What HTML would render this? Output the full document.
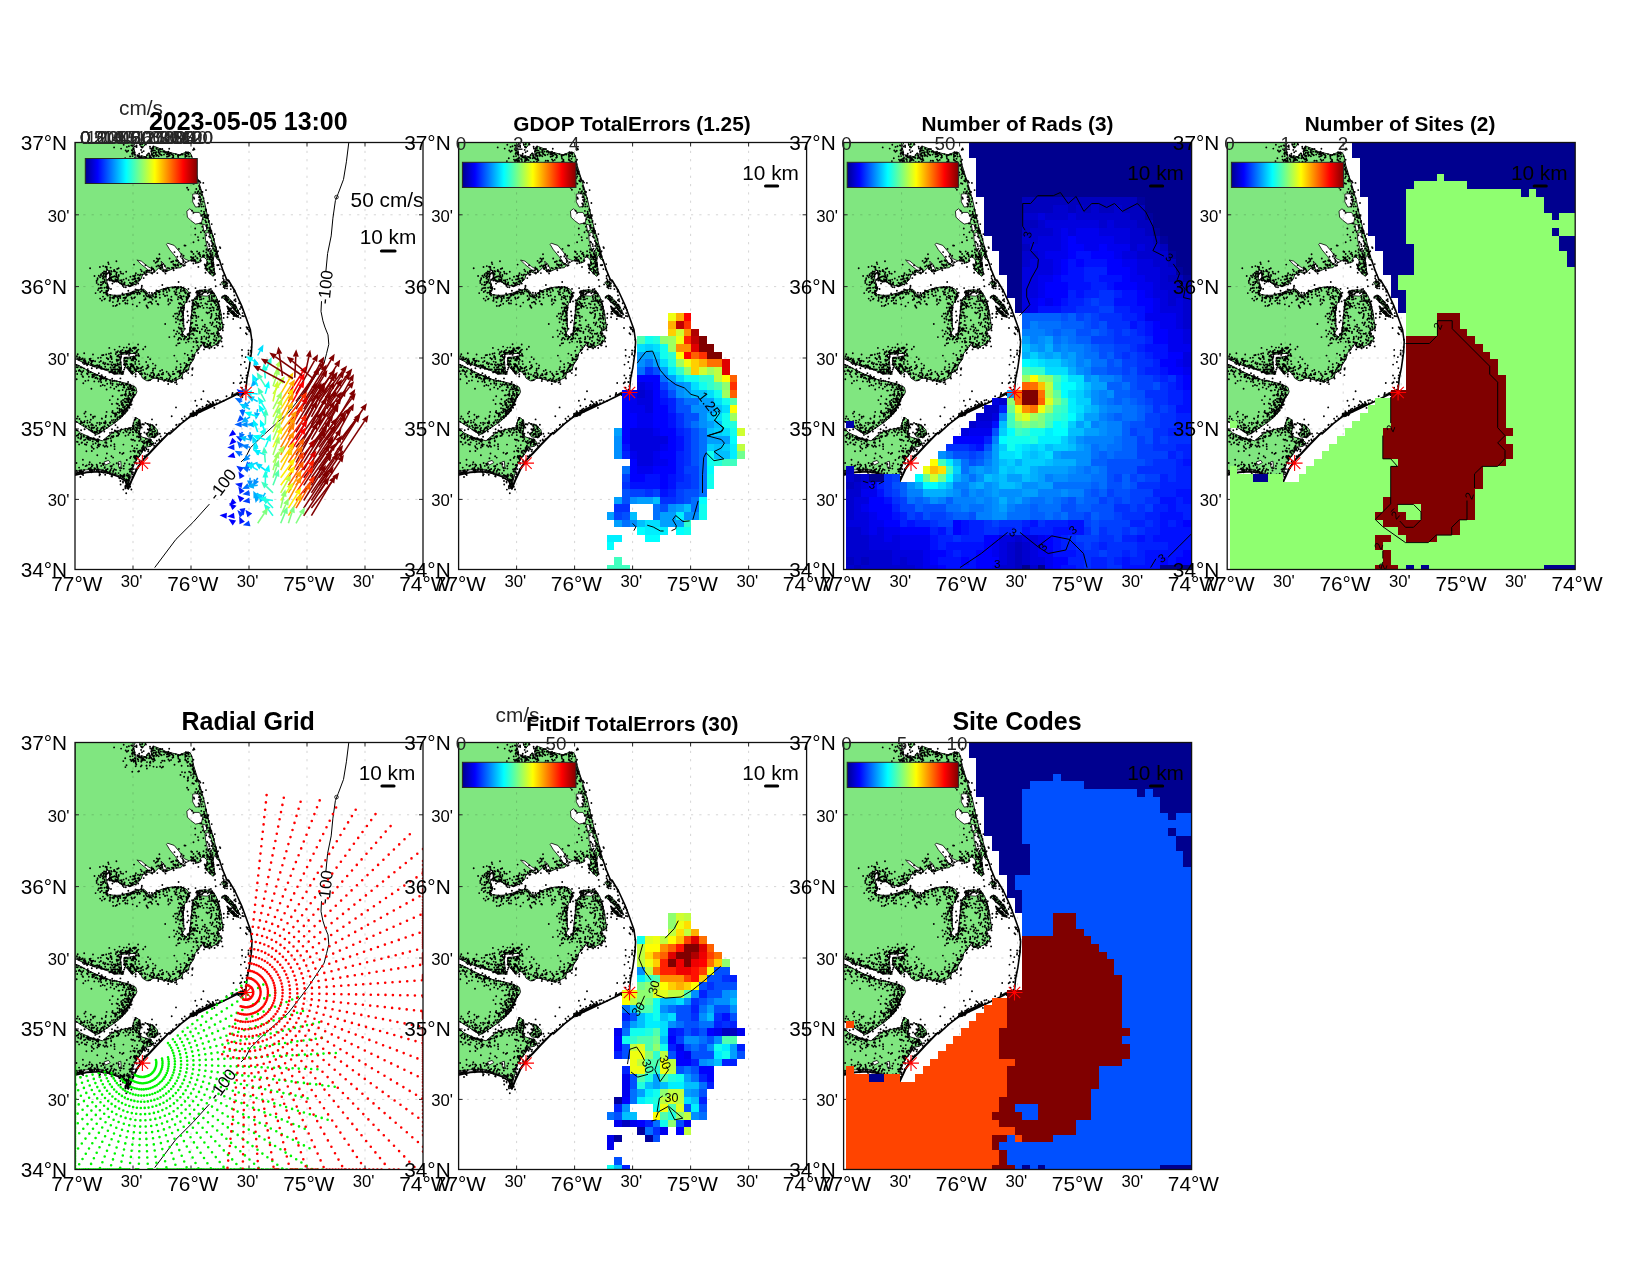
<!DOCTYPE html><html><head><meta charset="utf-8"><title>totals</title>
<style>html,body{margin:0;padding:0;background:#fff}svg{display:block;will-change:transform}text{font-family:"Liberation Sans",sans-serif}</style></head><body>
<svg width="1650" height="1275" viewBox="0 0 1650 1275">
<rect width="1650" height="1275" fill="#fff"/>
<defs>
<linearGradient id="jet" x1="0" x2="1" y1="0" y2="0"><stop offset="0" stop-color="#00008f"/><stop offset="0.11" stop-color="#0000ff"/><stop offset="0.365" stop-color="#00ffff"/><stop offset="0.62" stop-color="#ffff00"/><stop offset="0.875" stop-color="#ff0000"/><stop offset="1" stop-color="#800000"/></linearGradient>
<clipPath id="ax"><rect x="0" y="0" width="348" height="427"/></clipPath>
<g id="land"><path d="M0.0,0.0 60.4,-0.0 58.2,4.1 59.6,8.5 60.4,14.0 58.0,17.5 61.8,14.2 66.8,13.4 71.1,14.5 72.5,11.2 74.4,10.7 75.6,15.6 76.9,14.0 76.1,8.5 76.9,5.2 79.9,4.1 85.4,6.3 90.9,9.0 96.4,10.4 104.6,12.3 111.2,9.6 115.1,10.1 117.0,14.0 118.4,22.2 121.7,33.2 126.0,46.9 129.4,59.0 132.2,72.2 135.5,85.4 138.8,96.3 142.1,109.5 144.3,117.2 142.1,116.7 140.4,112.8 138.8,113.9 138.2,118.3 139.1,124.9 139.6,131.5 138.2,133.9 134.6,130.9 131.3,127.1 130.5,123.8 132.2,119.4 131.3,116.7 128.3,114.1 125.4,115.9 125.8,119.2 122.3,120.5 117.4,118.1 114.1,118.3 108.0,121.3 107.5,123.0 105.8,125.2 99.2,125.7 92.6,128.5 89.3,129.6 83.9,125.4 80.6,128.5 77.3,131.2 72.9,129.6 67.4,132.3 66.3,136.2 61.9,141.1 55.3,143.9 47.6,142.2 42.1,138.9 37.7,139.5 35.0,135.6 33.9,128.5 31.7,127.4 30.9,135.1 32.8,142.8 34.4,146.1 31.7,149.9 33.9,152.1 39.9,152.9 45.4,152.6 54.2,150.4 61.9,147.7 68.5,146.6 71.8,149.3 72.9,152.1 77.3,152.6 80.6,149.3 87.2,146.6 97.0,144.4 105.8,144.4 111.3,146.6 114.1,150.4 113.5,155.9 109.7,161.4 108.2,170.2 108.6,179.0 109.1,187.8 107.1,190.9 111.3,194.4 114.6,190.0 115.7,179.0 116.8,169.1 117.4,159.2 120.1,154.8 125.0,151.5 121.2,149.9 122.3,148.3 130.0,147.2 137.7,148.8 141.0,153.7 143.7,161.4 145.9,170.2 147.0,179.0 148.1,185.6 143.2,188.9 144.3,192.2 146.5,195.5 145.4,198.8 141.0,202.1 133.3,205.4 129.4,204.3 128.3,199.9 125.6,204.3 120.1,210.8 119.0,216.3 114.6,222.9 113.5,227.3 108.0,230.6 106.9,235.0 99.2,238.3 97.0,240.0 91.5,238.3 88.3,237.8 82.8,236.1 78.4,235.6 75.1,237.8 71.8,238.3 67.4,235.6 66.3,232.8 61.9,228.4 57.5,231.7 53.1,227.3 49.8,222.9 48.7,218.5 49.3,215.2 60.8,213.6 60.8,210.8 50.9,211.4 43.2,212.2 44.9,215.2 46.0,219.6 46.5,227.3 48.7,231.7 39.9,231.3 30.7,227.5 24.6,225.7 16.0,223.1 7.0,219.4 0.4,216.3 0.0,216.3 0.0,221.1 -0.7,221.3 4.8,223.5 12.5,227.7 23.5,232.8 34.4,237.2 45.4,239.4 54.2,241.6 60.8,244.9 61.9,249.3 60.8,251.8 57.5,256.2 55.3,262.8 48.7,268.3 47.6,273.7 56.4,257.5 54.0,262.2 52.5,268.5 47.8,273.2 43.1,277.9 32.9,285.0 21.9,292.0 7.8,283.4 -0.5,278.0 0.0,278.0 0.0,285.0 -0.5,285.0 5.4,290.4 15.6,295.1 27.4,298.3 32.9,293.6 39.9,288.9 49.3,286.5 57.2,285.0 59.5,277.1 61.9,275.5 65.0,277.9 65.8,284.2 64.2,290.4 66.6,294.4 74.4,296.7 78.4,299.9 76.0,303.8 70.5,304.6 68.2,307.7 66.6,310.8 64.2,314.0 61.9,317.1 58.7,322.6 57.2,328.1 55.6,334.4 54.0,339.9 53.3,346.1 50.9,339.9 49.3,335.9 43.1,332.8 33.6,329.7 23.5,328.1 11.7,328.5 -0.5,332.0 0.0,332.0Z" fill="#80e680" stroke="#000" stroke-width="0.9" stroke-linejoin="round"/>
<path d="M71.3,281.0 77.6,282.6 82.3,287.3 83.1,292.0 79.1,295.1 72.9,294.4 71.3,291.2 74.4,288.9 76.0,285.0Z" fill="#80e680" stroke="#000" stroke-width="0.9" stroke-linejoin="round"/>
<path d="M64.6,-0.0 71.1,-0.0 70.0,2.4 67.3,5.7 65.1,3.0Z" fill="#80e680" stroke="#000" stroke-width="0.9" stroke-linejoin="round"/>
<path d="M146.8,154.0 151.1,152.9 156.6,158.4 162.1,166.1 165.4,172.6 162.1,170.4 157.7,165.0 152.2,159.5Z" fill="#80e680" stroke="#000" stroke-width="0.9" stroke-linejoin="round"/>
<path d="M146.2,139.7 151.1,138.6 152.8,144.1 148.9,143.5Z" fill="#80e680" stroke="#000" stroke-width="0.9" stroke-linejoin="round"/>
<path d="M152.2,163.9 157.7,168.3 163.2,173.7 159.9,173.7 154.4,169.3Z" fill="#80e680" stroke="#000" stroke-width="0.9" stroke-linejoin="round"/>
<path d="M116.3,270.4 120.1,269.9 119.0,273.7 116.8,274.3Z" fill="#80e680" stroke="#000" stroke-width="0.9" stroke-linejoin="round"/>
<path d="M160.7,250.7 168.4,247.9 170.6,250.7 165.1,254.0Z" fill="#80e680" stroke="#000" stroke-width="0.9" stroke-linejoin="round"/>
<path d="M117.7,51.6 123.0,51.0 125.9,55.7 124.8,64.0 120.6,64.6 117.7,59.3Z" fill="#fff" stroke="#000" stroke-width="0.8" stroke-linejoin="round"/>
<path d="M111.8,68.7 114.8,66.3 118.9,69.9 124.2,69.9 127.7,74.6 126.5,80.4 120.6,81.6 115.9,78.1 112.4,74.6Z" fill="#fff" stroke="#000" stroke-width="0.8" stroke-linejoin="round"/>
<path d="M130.0,91.0 133.6,89.9 136.5,96.9 137.7,105.1 135.3,111.0 132.4,105.1 130.6,98.1Z" fill="#fff" stroke="#000" stroke-width="0.8" stroke-linejoin="round"/>
<path d="M127.7,81.6 131.2,82.8 131.8,87.5 128.9,88.7Z" fill="#fff" stroke="#000" stroke-width="0.8" stroke-linejoin="round"/>
<path d="M92.6,100.7 99.2,102.9 104.7,109.5 109.1,116.1 114.1,118.3 106.9,122.7 104.2,119.4 100.3,113.9 94.8,107.3 91.5,101.8Z" fill="#fff" stroke="#000" stroke-width="0.8" stroke-linejoin="round"/>
<path d="M61.9,117.5 66.3,118.6 72.9,124.1 79.5,127.9 77.3,131.2 71.8,126.3 66.3,121.9Z" fill="#fff" stroke="#000" stroke-width="0.8" stroke-linejoin="round"/>
<path d="M86.1,118.6 89.3,121.9 92.6,128.5 89.3,129.6 87.2,124.1Z" fill="#fff" stroke="#000" stroke-width="0.8" stroke-linejoin="round"/>
<path d="M28.9,319.5 33.6,317.9 35.2,320.2 30.5,322.6Z" fill="#fff" stroke="#000" stroke-width="0.8" stroke-linejoin="round"/>
<path d="M43.1,319.5 45.8,318.7 46.2,324.2 43.8,325.0Z" fill="#fff" stroke="#000" stroke-width="0.8" stroke-linejoin="round"/>
<path d="M0.7,328.5 11.7,327.3 27.4,326.9 28.9,328.1 11.7,329.3 0.7,330.8Z" fill="#fff" stroke="#000" stroke-width="0.8" stroke-linejoin="round"/>
<path d="M121.2,150.4 130.0,148.8 137.7,150.4 132.2,153.7 125.6,153.2Z" fill="#fff" stroke="#000" stroke-width="0.8" stroke-linejoin="round"/>
<path d="M144.3,117.2 147.6,127.1 151.9,137.5 153.3,137.5 159.9,148.5 166.5,162.8 170.9,174.8 175.3,186.9 177.0,199.0 176.4,210.0 174.2,225.4 172.0,236.3 170.9,247.3 170.9,250.1" fill="none" stroke="#000" stroke-width="1.6" stroke-linejoin="round" stroke-linecap="round"/>
<path d="M170.9,250.1 162.1,251.7 148.9,258.3 132.5,266.0 116.0,273.7 138.8,261.1 127.8,266.3 116.8,272.9 105.8,281.4 94.8,291.3" fill="none" stroke="#000" stroke-width="1.8" stroke-linejoin="round" stroke-linecap="round"/>
<path d="M94.0,290.4 82.3,302.2 74.4,310.8 68.2,317.1 61.9,326.5 56.4,338.3 53.3,346.1" fill="none" stroke="#000" stroke-width="2.0" stroke-linejoin="round" stroke-linecap="round"/>
<path d="M-0.5,332.8 11.7,330.0 23.5,329.3 33.6,330.8 43.1,334.0 50.1,338.3 53.3,346.1" fill="none" stroke="#000" stroke-width="1.6" stroke-linejoin="round" stroke-linecap="round"/>
<path d="M59.2,9.8h0M61.5,2.9h0M51.9,4.4h0M53.9,3.7h0M65.5,15.0h0M57.8,7.6h0M59.8,4.0h0M39.1,4.9h0M48.3,18.6h0M56.3,2.9h0M46.1,6.1h0M59.8,18.2h0M48.7,2.3h0M57.3,3.3h0M58.6,6.3h0M55.4,17.1h0M56.9,7.7h0M59.6,10.0h0M68.4,16.2h0M50.7,8.0h0M59.3,12.0h0M58.8,10.5h0M55.1,13.9h0M63.2,29.1h0M60.0,12.1h0M64.2,11.3h0M58.1,6.0h0M57.9,17.0h0M58.2,17.9h0M63.1,17.0h0M74.9,23.0h0M57.5,13.6h0M61.3,22.0h0M51.5,22.8h0M57.4,17.2h0M51.9,9.3h0M50.2,15.7h0M58.8,19.3h0M66.2,19.3h0M50.4,24.6h0M57.3,29.2h0M71.4,23.2h0M67.9,17.8h0M53.2,8.2h0M60.3,16.2h0M60.1,15.9h0M56.6,18.4h0M63.4,18.6h0M57.7,9.7h0M65.8,23.9h0M60.4,18.3h0M60.8,21.0h0M59.0,9.6h0M66.6,13.6h0M66.6,18.5h0M64.2,13.9h0M66.6,22.9h0M62.3,12.8h0M66.9,15.5h0M75.3,19.1h0M60.8,19.6h0M63.4,14.3h0M64.2,14.7h0M57.2,11.6h0M63.8,12.9h0M57.0,11.2h0M78.5,24.1h0M58.3,6.8h0M72.0,19.6h0M60.7,23.7h0M70.0,17.7h0M68.1,15.5h0M67.1,1.8h0M67.5,16.4h0M78.1,5.3h0M74.9,20.1h0M81.8,24.6h0M64.0,28.8h0M75.1,14.8h0M56.4,18.5h0M76.3,15.4h0M69.8,14.4h0M76.5,8.7h0M72.0,12.8h0M73.6,11.0h0M76.6,11.8h0M74.4,13.3h0M77.2,12.1h0M75.4,20.4h0M84.4,11.4h0M78.5,10.3h0M77.6,11.6h0M78.8,14.2h0M78.3,19.1h0M68.9,17.1h0M77.6,17.0h0M75.1,13.5h0M76.6,16.1h0M66.3,17.6h0M71.5,23.2h0M88.0,24.3h0M86.0,20.1h0M73.9,11.3h0M78.2,13.6h0M79.2,16.7h0M78.1,13.3h0M81.2,13.4h0M78.2,4.9h0M87.2,18.3h0M79.1,13.2h0M70.5,14.9h0M79.4,17.9h0M62.5,16.5h0M57.2,10.7h0M71.9,26.0h0M76.4,9.0h0M86.6,12.7h0M75.0,4.3h0M80.8,11.6h0M70.5,14.6h0M75.3,6.0h0M77.4,5.9h0M77.2,8.2h0M77.0,6.5h0M71.7,15.5h0M79.9,8.1h0M79.0,16.1h0M81.3,9.6h0M78.5,4.0h0M81.0,10.0h0M77.8,4.8h0M78.4,5.6h0M81.4,5.8h0M89.2,18.2h0M80.3,10.3h0M94.4,18.3h0M81.5,6.2h0M85.1,7.1h0M83.7,13.8h0M87.3,6.5h0M93.6,13.8h0M85.9,9.1h0M89.6,9.1h0M74.1,15.8h0M83.9,8.6h0M103.4,12.7h0M93.4,9.2h0M83.5,7.5h0M83.5,9.5h0M86.7,25.1h0M74.9,15.0h0M79.8,17.7h0M92.0,14.2h0M82.1,12.7h0M96.1,17.4h0M85.5,6.4h0M78.6,7.8h0M96.4,11.7h0M85.7,12.1h0M89.0,12.1h0M103.4,16.1h0M85.1,24.0h0M94.2,11.2h0M93.4,11.2h0M89.6,18.4h0M90.2,10.2h0M94.2,6.2h0M93.4,16.9h0M88.2,9.3h0M92.0,10.3h0M93.0,11.8h0M98.3,13.2h0M97.5,15.2h0M105.0,18.7h0M110.1,11.8h0M91.9,11.9h0M81.8,6.4h0M95.8,10.5h0M97.8,12.4h0M103.6,19.2h0M102.9,13.1h0M83.5,9.7h0M98.3,14.8h0M100.8,11.6h0M84.6,10.7h0M118.3,25.2h0M110.5,13.5h0M111.5,10.7h0M103.1,13.8h0M106.6,23.3h0M110.3,12.4h0M99.5,22.3h0M110.2,17.4h0M105.0,12.6h0M107.7,12.1h0M105.9,12.1h0M103.2,14.5h0M111.4,18.2h0M110.8,9.8h0M94.7,13.0h0M113.3,9.9h0M112.4,10.2h0M113.2,11.2h0M113.6,12.1h0M111.8,13.5h0M110.3,16.8h0M112.0,10.8h0M117.3,23.5h0M106.6,11.8h0M118.1,7.4h0M118.9,5.9h0M116.3,13.8h0M110.3,14.4h0M113.7,10.8h0M119.4,6.9h0M115.7,30.1h0M114.1,14.1h0M117.4,21.9h0M112.9,16.2h0M121.9,37.0h0M117.1,19.0h0M113.3,19.2h0M118.0,21.7h0M112.3,20.0h0M115.7,22.6h0M118.4,17.2h0M112.9,23.5h0M115.2,23.6h0M107.0,29.6h0M117.5,26.7h0M118.5,27.9h0M119.5,29.2h0M114.1,29.2h0M119.8,31.2h0M118.3,28.1h0M117.3,22.7h0M104.8,17.1h0M118.6,34.0h0M120.0,28.9h0M120.5,31.8h0M104.8,18.3h0M119.4,29.8h0M116.2,23.1h0M118.3,26.7h0M105.5,32.4h0M119.3,30.6h0M115.0,21.5h0M118.8,29.5h0M117.8,35.6h0M124.0,43.4h0M109.1,34.3h0M118.8,41.3h0M122.0,35.7h0M112.9,36.1h0M112.7,38.3h0M113.1,34.7h0M110.0,30.0h0M128.3,40.4h0M125.4,47.1h0M125.4,40.1h0M131.0,47.6h0M123.0,37.6h0M124.7,44.8h0M120.8,38.5h0M116.0,32.6h0M121.4,33.6h0M118.1,31.6h0M127.5,49.5h0M117.4,40.7h0M124.6,38.8h0M121.3,46.5h0M123.3,37.9h0M112.1,45.2h0M120.6,38.1h0M115.6,29.9h0M124.8,46.5h0M124.9,53.9h0M122.3,50.9h0M113.0,38.0h0M124.7,51.0h0M123.8,54.6h0M129.8,73.1h0M125.7,51.1h0M132.8,60.5h0M119.2,56.2h0M113.3,47.2h0M124.6,50.8h0M125.4,58.7h0M126.5,49.2h0M121.8,39.1h0M124.8,55.1h0M126.7,52.5h0M123.6,60.9h0M126.3,49.3h0M128.5,55.7h0M118.8,54.9h0M120.2,49.6h0M123.4,48.8h0M125.8,59.1h0M130.4,72.8h0M130.0,74.5h0M128.0,59.3h0M126.3,68.4h0M126.6,64.0h0M126.9,61.6h0M131.1,75.5h0M130.6,66.7h0M126.2,73.2h0M131.1,67.2h0M133.2,73.4h0M131.8,74.4h0M129.0,71.7h0M129.0,69.1h0M126.1,57.0h0M124.4,62.0h0M131.0,68.2h0M122.6,49.5h0M131.1,67.5h0M124.0,64.0h0M124.4,57.4h0M117.0,68.3h0M120.2,86.0h0M120.3,92.1h0M127.9,87.9h0M131.4,83.7h0M125.9,89.7h0M118.4,70.4h0M133.6,79.5h0M135.2,87.3h0M132.5,85.4h0M132.2,72.4h0M127.9,76.7h0M129.3,70.7h0M132.1,82.5h0M127.4,72.4h0M125.2,80.9h0M128.4,95.6h0M133.3,72.6h0M134.0,78.4h0M128.7,63.9h0M129.0,74.6h0M131.3,79.7h0M134.5,85.2h0M124.9,55.1h0M134.6,85.9h0M132.5,84.9h0M131.9,85.4h0M131.0,79.7h0M130.2,74.6h0M132.8,75.7h0M136.6,103.5h0M131.5,106.8h0M134.3,89.2h0M129.5,89.5h0M136.4,88.5h0M136.7,81.6h0M137.9,94.3h0M137.6,93.1h0M138.8,97.6h0M139.8,91.6h0M135.1,95.1h0M131.6,82.8h0M130.3,78.0h0M123.4,97.8h0M137.9,93.6h0M135.2,89.5h0M127.3,84.2h0M137.5,100.2h0M135.5,90.8h0M134.7,88.2h0M131.2,92.8h0M133.2,108.2h0M140.4,107.8h0M126.4,81.0h0M138.1,102.1h0M136.4,90.7h0M133.5,88.2h0M140.5,104.1h0M141.4,110.3h0M135.7,89.5h0M138.4,106.0h0M130.3,103.1h0M141.7,111.7h0M135.0,86.8h0M137.5,110.4h0M123.0,94.6h0M134.9,106.2h0M138.7,101.8h0M118.5,99.8h0M144.8,104.6h0M140.9,104.9h0M141.2,106.8h0M134.1,93.9h0M132.5,100.1h0M134.3,103.6h0M138.7,106.2h0M136.1,112.8h0M134.0,101.7h0M139.3,103.7h0M139.2,108.1h0M138.9,96.4h0M136.3,98.5h0M138.3,101.7h0M134.8,115.7h0M135.6,111.4h0M134.4,115.3h0M141.2,114.1h0M137.9,121.7h0M142.0,110.0h0M131.5,107.3h0M135.8,108.5h0M145.3,105.5h0M141.4,109.2h0M138.4,126.6h0M147.6,121.6h0M143.0,113.8h0M142.7,114.7h0M137.6,112.4h0M139.4,108.2h0M129.4,112.9h0M143.0,108.8h0M135.7,114.7h0M142.0,113.0h0M136.7,117.3h0M139.9,108.6h0M135.7,111.9h0M137.9,116.3h0M136.0,114.2h0M134.6,116.7h0M136.9,122.6h0M133.8,114.5h0M137.1,120.4h0M142.1,122.6h0M137.3,123.5h0M137.5,114.6h0M136.6,113.7h0M137.5,122.6h0M137.1,124.6h0M134.4,125.0h0M132.7,120.8h0M131.0,125.7h0M138.3,123.7h0M132.1,112.0h0M125.2,113.7h0M136.7,120.8h0M137.9,120.5h0M138.5,122.1h0M131.6,123.0h0M139.0,126.5h0M138.2,130.4h0M136.9,122.3h0M134.8,121.0h0M140.1,137.4h0M140.1,131.4h0M138.8,132.4h0M135.2,117.0h0M144.8,126.6h0M136.5,128.1h0M139.4,129.7h0M136.1,148.9h0M135.3,131.1h0M137.8,130.4h0M135.5,130.8h0M138.4,127.5h0M134.7,126.5h0M135.6,127.4h0M135.0,130.9h0M135.3,128.4h0M132.2,126.6h0M134.5,130.2h0M132.7,126.6h0M136.9,129.7h0M130.5,130.2h0M122.1,108.9h0M132.2,126.9h0M133.1,121.7h0M130.6,123.9h0M129.9,122.5h0M130.3,125.9h0M132.4,119.7h0M137.4,118.1h0M128.2,112.9h0M123.4,111.3h0M131.2,109.9h0M133.4,113.9h0M131.1,122.7h0M129.7,121.9h0M120.7,118.8h0M130.9,123.0h0M132.7,126.5h0M134.6,129.8h0M138.3,120.4h0M132.1,113.0h0M116.0,114.4h0M131.8,122.9h0M137.2,115.6h0M125.1,118.0h0M136.0,124.3h0M140.6,111.6h0M131.6,127.4h0M136.3,119.3h0M128.7,114.3h0M124.9,112.2h0M127.8,113.8h0M132.6,116.6h0M133.6,107.2h0M127.8,113.9h0M135.3,114.3h0M132.8,112.8h0M132.1,114.6h0M128.4,112.6h0M119.8,117.2h0M125.8,118.0h0M118.5,111.5h0M132.0,99.3h0M135.1,111.3h0M128.5,108.7h0M118.1,116.2h0M117.9,118.0h0M124.3,110.3h0M108.1,117.4h0M123.4,124.4h0M119.6,117.6h0M106.6,111.8h0M123.1,119.7h0M120.8,120.6h0M117.1,109.5h0M122.5,116.0h0M120.5,113.8h0M118.4,121.0h0M122.1,115.4h0M116.6,118.3h0M118.2,117.9h0M116.3,117.5h0M116.3,109.0h0M117.0,115.5h0M118.4,115.0h0M108.6,113.2h0M108.2,119.5h0M109.9,122.7h0M109.5,103.0h0M105.7,121.2h0M103.9,106.4h0M107.3,115.8h0M105.7,114.0h0M105.8,113.6h0M110.5,103.1h0M108.7,123.2h0M94.6,116.0h0M101.0,118.1h0M105.4,121.8h0M116.5,114.7h0M99.5,109.6h0M106.7,121.4h0M103.2,123.2h0M101.3,117.6h0M96.2,119.5h0M102.1,122.6h0M100.3,123.0h0M100.3,122.1h0M87.2,125.3h0M108.8,118.5h0M110.6,119.7h0M103.8,120.1h0M102.8,122.0h0M101.5,125.2h0M97.1,119.2h0M98.1,125.9h0M87.3,125.1h0M97.0,125.2h0M98.3,121.6h0M98.7,122.2h0M102.3,114.2h0M102.8,118.3h0M84.4,111.7h0M98.7,127.7h0M101.9,118.5h0M98.1,125.2h0M100.3,123.6h0M78.1,126.3h0M91.7,127.9h0M84.6,116.0h0M89.7,123.4h0M83.1,123.0h0M90.0,127.5h0M94.2,126.0h0M90.5,131.1h0M81.8,115.9h0M83.1,116.7h0M81.5,123.9h0M85.3,126.3h0M88.3,128.7h0M88.1,121.6h0M85.3,122.9h0M98.2,118.8h0M92.9,125.4h0M85.6,125.4h0M90.8,128.9h0M85.5,126.3h0M86.9,123.4h0M76.9,126.5h0M84.5,124.0h0M80.6,120.2h0M86.9,122.3h0M55.4,134.2h0M77.1,131.1h0M59.0,122.1h0M82.0,119.2h0M79.0,118.4h0M83.1,118.4h0M82.3,130.6h0M76.3,127.6h0M79.1,127.7h0M65.7,127.1h0M77.0,130.2h0M76.2,128.1h0M79.4,129.3h0M88.2,127.7h0M63.0,132.2h0M77.0,130.7h0M66.7,128.7h0M51.2,129.3h0M69.6,131.0h0M67.4,132.1h0M71.7,128.2h0M71.3,129.4h0M56.9,142.9h0M65.5,131.9h0M70.9,132.4h0M73.0,128.2h0M57.4,137.0h0M71.5,130.1h0M71.8,132.1h0M64.8,132.9h0M68.7,135.6h0M64.9,137.0h0M59.6,134.0h0M63.8,135.3h0M62.7,135.9h0M49.4,140.4h0M76.7,125.0h0M58.1,133.4h0M64.0,137.7h0M57.2,142.3h0M58.0,140.1h0M56.3,140.9h0M63.2,141.1h0M60.9,130.8h0M58.8,136.7h0M70.5,122.8h0M58.7,133.7h0M64.4,136.5h0M69.1,129.8h0M60.6,139.3h0M53.7,137.6h0M71.2,128.5h0M51.2,136.0h0M60.4,132.6h0M55.3,143.4h0M74.3,127.9h0M59.4,136.4h0M56.3,141.6h0M62.0,147.4h0M61.7,139.6h0M60.8,142.1h0M59.0,141.6h0M50.8,144.8h0M56.6,142.5h0M61.8,138.4h0M52.4,161.0h0M56.4,150.7h0M53.1,151.4h0M37.9,159.6h0M59.1,151.1h0M54.8,143.7h0M50.3,160.5h0M48.0,152.5h0M54.9,140.2h0M46.6,137.8h0M40.1,129.0h0M60.0,135.7h0M57.7,140.4h0M60.0,154.6h0M49.6,140.0h0M48.9,144.6h0M48.3,141.8h0M54.1,143.4h0M48.6,137.1h0M53.3,142.7h0M56.5,154.9h0M49.5,141.8h0M36.6,129.1h0M40.4,136.7h0M41.2,131.5h0M42.2,126.4h0M41.3,139.1h0M46.6,140.9h0M34.1,128.4h0M47.7,143.3h0M46.1,130.9h0M43.5,139.5h0M45.1,140.7h0M45.2,137.9h0M38.1,134.3h0M46.6,141.5h0M21.6,138.5h0M39.2,139.3h0M30.5,124.3h0M40.2,138.5h0M32.5,153.1h0M41.8,137.3h0M42.9,135.3h0M36.6,134.8h0M41.0,138.7h0M37.0,137.6h0M34.6,137.9h0M43.1,136.6h0M38.0,138.2h0M42.2,134.7h0M41.5,132.9h0M36.2,136.6h0M35.1,138.1h0M32.6,137.4h0M33.9,136.3h0M29.9,138.4h0M36.9,138.0h0M39.2,127.5h0M24.9,124.5h0M32.6,142.5h0M33.2,130.4h0M48.1,131.2h0M29.0,139.6h0M33.2,120.0h0M34.9,134.8h0M38.9,128.5h0M41.8,129.9h0M43.6,125.7h0M27.4,134.0h0M35.2,132.5h0M43.8,133.6h0M36.1,131.7h0M30.8,140.5h0M26.7,142.2h0M45.5,129.3h0M27.9,136.1h0M35.3,136.0h0M32.0,144.2h0M32.1,126.8h0M41.4,118.8h0M29.1,129.0h0M31.8,126.6h0M33.7,121.6h0M30.6,129.3h0M36.1,128.5h0M26.0,139.8h0M15.1,125.7h0M27.6,130.4h0M22.5,137.1h0M26.1,131.8h0M30.9,134.2h0M22.6,135.8h0M34.8,131.2h0M31.1,132.3h0M35.7,131.0h0M19.5,133.5h0M21.7,140.4h0M34.4,130.1h0M28.5,130.8h0M32.3,141.7h0M25.9,132.7h0M30.0,130.9h0M31.8,124.4h0M28.7,134.8h0M23.8,133.2h0M41.0,134.2h0M30.1,133.9h0M32.6,142.9h0M38.7,138.4h0M25.1,134.7h0M29.6,136.9h0M29.9,131.0h0M28.2,123.6h0M23.3,141.9h0M31.6,125.1h0M26.8,145.4h0M37.4,141.1h0M32.0,131.3h0M35.6,125.1h0M23.0,147.6h0M28.0,140.8h0M33.4,145.1h0M28.5,132.5h0M25.6,142.5h0M43.8,132.4h0M32.4,142.9h0M28.8,150.2h0M32.3,148.3h0M33.6,146.1h0M29.5,145.2h0M28.0,154.1h0M35.1,156.5h0M25.1,156.1h0M25.2,149.5h0M28.0,139.2h0M39.5,133.7h0M30.0,156.1h0M25.4,145.5h0M32.7,148.3h0M32.0,145.6h0M26.7,148.2h0M31.4,148.3h0M31.6,149.6h0M33.2,146.1h0M29.4,156.8h0M33.0,148.0h0M34.9,158.2h0M35.3,152.4h0M31.6,150.1h0M32.1,151.8h0M31.6,150.0h0M30.7,150.0h0M42.9,138.3h0M30.5,150.1h0M32.2,144.7h0M31.4,151.8h0M23.7,145.9h0M43.2,157.4h0M31.4,148.8h0M32.9,153.1h0M39.9,152.9h0M43.1,154.1h0M40.9,153.9h0M41.9,162.5h0M55.5,151.0h0M50.5,161.0h0M42.7,158.6h0M38.2,155.6h0M38.2,163.4h0M20.6,150.6h0M31.9,150.4h0M38.6,154.5h0M36.0,146.5h0M48.5,155.4h0M38.9,155.9h0M47.5,150.9h0M45.3,153.7h0M42.5,154.7h0M42.6,158.9h0M43.2,156.1h0M26.9,158.0h0M35.1,154.7h0M57.7,161.9h0M37.3,155.3h0M45.3,155.5h0M39.4,154.6h0M44.1,153.8h0M44.7,154.0h0M48.9,152.4h0M51.8,151.8h0M64.8,151.4h0M48.0,158.5h0M49.5,155.1h0M44.8,153.6h0M50.2,155.7h0M59.1,155.5h0M50.6,154.9h0M61.9,163.8h0M52.1,153.3h0M31.5,144.7h0M51.1,155.0h0M40.6,163.4h0M57.7,150.9h0M46.9,139.3h0M49.7,157.6h0M34.6,158.3h0M60.4,136.4h0M55.0,152.6h0M56.4,151.3h0M68.2,147.8h0M61.1,149.8h0M60.5,146.9h0M59.9,139.1h0M53.0,153.0h0M68.9,153.5h0M58.2,149.2h0M66.1,148.9h0M53.3,148.3h0M54.6,151.9h0M60.7,138.5h0M57.0,156.2h0M58.7,150.6h0M55.7,140.9h0M44.6,161.2h0M57.2,150.3h0M59.6,149.1h0M73.9,153.2h0M58.4,149.2h0M52.5,158.0h0M62.4,151.8h0M63.4,149.6h0M66.7,144.6h0M66.7,147.1h0M71.5,163.0h0M64.5,150.4h0M66.4,147.1h0M65.0,151.1h0M62.5,150.2h0M66.3,146.2h0M68.3,149.1h0M74.6,155.0h0M76.5,155.3h0M82.6,161.5h0M71.0,151.8h0M84.9,149.0h0M69.7,149.1h0M71.4,153.3h0M66.9,143.2h0M71.3,150.8h0M70.4,155.8h0M64.6,160.1h0M76.9,150.5h0M70.5,156.8h0M74.3,150.2h0M74.2,153.9h0M74.3,154.0h0M72.8,165.3h0M63.6,148.0h0M77.0,161.2h0M75.9,153.6h0M71.9,164.0h0M84.9,155.2h0M70.2,150.2h0M75.1,159.4h0M83.4,162.0h0M78.1,153.7h0M74.1,153.5h0M80.6,154.4h0M81.0,152.2h0M76.1,159.8h0M81.7,148.9h0M75.1,154.9h0M72.7,153.9h0M80.5,154.2h0M77.6,157.0h0M77.6,152.0h0M80.6,150.4h0M81.2,151.6h0M79.6,150.5h0M81.9,148.3h0M80.6,151.7h0M81.1,158.7h0M88.5,147.3h0M77.6,152.5h0M88.2,148.4h0M69.2,157.4h0M73.4,160.1h0M90.1,153.5h0M81.3,154.4h0M105.9,148.7h0M89.7,146.7h0M84.6,152.1h0M83.0,148.8h0M80.1,155.0h0M88.5,149.1h0M81.4,147.9h0M88.5,151.8h0M91.0,147.4h0M84.2,149.9h0M97.5,145.3h0M92.7,145.4h0M83.8,149.7h0M94.4,148.3h0M93.1,145.5h0M96.4,154.2h0M89.9,153.4h0M92.2,153.0h0M87.3,142.5h0M101.8,145.3h0M91.9,149.7h0M100.2,144.5h0M93.5,162.0h0M93.9,146.8h0M101.4,149.6h0M88.9,146.4h0M91.0,146.0h0M103.2,144.5h0M105.9,146.9h0M101.6,146.5h0M105.2,155.3h0M105.8,148.4h0M80.9,151.4h0M101.3,147.2h0M100.3,150.6h0M99.1,145.1h0M93.1,158.4h0M103.6,139.5h0M93.4,156.8h0M102.5,145.7h0M105.9,144.5h0M96.8,157.9h0M109.7,148.1h0M103.5,145.3h0M99.4,148.9h0M108.4,145.3h0M109.3,146.5h0M110.6,150.7h0M106.8,145.2h0M104.0,160.8h0M104.4,150.6h0M109.1,147.1h0M113.0,151.2h0M100.4,151.9h0M115.0,150.2h0M108.7,153.7h0M113.4,146.4h0M110.0,149.7h0M101.8,152.3h0M113.0,154.4h0M108.8,159.5h0M126.4,156.8h0M112.6,151.8h0M114.3,152.9h0M111.7,155.6h0M113.4,150.9h0M113.3,151.7h0M113.2,151.2h0M111.6,156.9h0M130.0,147.9h0M105.8,167.4h0M122.2,156.5h0M122.0,155.5h0M118.7,157.9h0M106.2,166.1h0M107.3,156.9h0M108.9,165.1h0M119.6,161.7h0M95.9,157.3h0M117.1,164.2h0M108.3,163.2h0M112.4,156.0h0M111.7,158.5h0M119.3,166.8h0M120.5,166.1h0M105.6,165.0h0M95.0,160.6h0M106.8,161.9h0M107.2,178.1h0M107.2,164.7h0M118.2,173.2h0M106.4,173.9h0M105.4,160.7h0M110.9,149.9h0M106.3,168.8h0M107.7,165.5h0M103.2,165.3h0M108.7,167.6h0M106.2,155.6h0M116.6,180.8h0M107.3,168.8h0M104.4,171.3h0M106.2,165.3h0M107.2,170.3h0M102.6,174.2h0M119.1,169.7h0M108.1,170.9h0M107.8,171.4h0M106.9,177.9h0M122.7,165.3h0M104.4,169.5h0M121.1,178.4h0M116.3,184.8h0M108.3,176.7h0M100.8,176.0h0M107.7,172.4h0M104.5,181.6h0M108.2,173.1h0M109.1,165.3h0M101.0,179.7h0M107.8,178.0h0M103.0,177.1h0M101.0,176.1h0M108.5,176.7h0M108.1,170.3h0M103.7,184.9h0M102.2,189.0h0M112.2,179.7h0M106.0,192.2h0M108.3,178.4h0M129.8,184.4h0M116.0,180.8h0M108.5,183.3h0M119.0,185.8h0M90.2,181.5h0M105.2,177.5h0M100.1,171.3h0M99.4,194.0h0M104.5,186.0h0M104.4,168.8h0M105.8,185.7h0M107.6,192.0h0M103.8,172.2h0M101.1,191.5h0M105.2,178.3h0M98.4,173.7h0M94.3,194.6h0M103.0,176.7h0M105.3,186.3h0M120.4,196.1h0M103.1,200.9h0M103.8,195.8h0M126.7,195.9h0M117.6,175.6h0M106.9,186.2h0M104.0,190.8h0M109.0,197.0h0M107.9,193.7h0M106.6,188.4h0M99.3,213.1h0M118.6,199.3h0M98.9,187.9h0M101.4,202.9h0M106.2,196.7h0M104.6,200.6h0M107.0,188.7h0M103.1,197.2h0M114.7,195.0h0M107.3,190.4h0M107.3,193.8h0M113.1,196.5h0M121.9,195.7h0M112.9,191.9h0M109.9,194.2h0M115.6,189.2h0M119.1,187.6h0M113.5,199.1h0M114.1,193.2h0M113.3,196.7h0M113.2,196.2h0M114.0,191.0h0M112.3,197.1h0M104.9,195.4h0M111.0,200.1h0M114.5,196.1h0M114.9,191.9h0M119.8,186.8h0M117.9,186.2h0M122.3,203.1h0M118.7,169.9h0M112.5,191.7h0M111.1,194.5h0M131.8,185.5h0M135.7,175.5h0M122.8,185.5h0M124.8,189.3h0M130.6,187.4h0M106.1,186.5h0M123.4,174.3h0M118.7,187.8h0M109.8,196.1h0M120.1,186.0h0M114.9,188.3h0M118.0,191.1h0M118.0,187.0h0M117.4,180.3h0M109.9,186.2h0M106.5,165.7h0M115.1,185.2h0M116.7,188.4h0M114.5,190.9h0M119.1,188.3h0M115.8,186.3h0M120.7,182.4h0M122.2,188.8h0M115.9,181.5h0M117.6,166.4h0M115.6,186.8h0M121.1,188.2h0M112.4,169.0h0M116.1,174.5h0M122.1,182.7h0M107.8,181.0h0M134.3,193.8h0M118.8,192.6h0M112.9,173.3h0M107.9,172.8h0M116.6,172.7h0M124.8,190.6h0M132.6,170.7h0M113.6,177.9h0M102.0,171.0h0M116.5,175.6h0M126.9,186.7h0M120.1,170.3h0M118.0,166.8h0M117.0,172.2h0M121.2,173.5h0M127.2,177.7h0M122.9,162.5h0M108.7,166.4h0M116.9,168.4h0M122.4,164.2h0M120.8,159.3h0M118.3,161.6h0M113.0,153.1h0M121.7,160.6h0M117.7,166.7h0M126.1,160.4h0M122.1,148.9h0M118.4,163.0h0M117.6,164.3h0M118.6,160.6h0M120.2,173.0h0M124.9,157.0h0M114.4,158.9h0M136.4,168.3h0M117.4,164.7h0M118.4,160.2h0M121.4,175.4h0M108.0,175.8h0M119.9,162.4h0M123.9,163.5h0M106.8,177.3h0M104.8,161.6h0M128.5,165.4h0M106.6,154.0h0M117.1,157.8h0M126.5,148.3h0M114.3,153.9h0M120.0,156.2h0M102.9,156.8h0M111.6,159.5h0M103.3,154.5h0M121.9,155.8h0M121.8,160.8h0M120.5,156.5h0M118.2,158.0h0M108.1,148.2h0M111.3,154.5h0M125.2,164.2h0M121.9,155.4h0M105.2,153.1h0M125.8,154.5h0M121.1,162.6h0M119.2,161.1h0M127.3,163.1h0M132.7,150.8h0M122.7,153.5h0M123.9,153.1h0M123.1,149.1h0M127.2,151.4h0M132.0,165.1h0M122.3,152.3h0M128.5,156.1h0M121.7,154.3h0M124.9,154.4h0M122.1,155.3h0M122.5,149.9h0M112.2,155.1h0M126.9,151.7h0M124.6,154.7h0M125.1,151.7h0M130.0,147.4h0M123.5,150.8h0M124.5,150.6h0M125.0,152.2h0M121.2,150.0h0M122.9,153.3h0M120.5,145.6h0M121.8,148.9h0M130.2,144.8h0M117.7,161.0h0M130.4,161.0h0M124.9,149.6h0M137.6,150.9h0M124.9,148.0h0M130.0,149.7h0M129.6,149.3h0M127.2,148.5h0M136.1,161.7h0M137.1,129.4h0M134.2,146.9h0M128.2,150.4h0M140.7,143.7h0M131.1,149.4h0M136.7,148.7h0M135.9,146.5h0M134.3,153.7h0M133.0,158.9h0M137.1,148.7h0M133.9,149.4h0M138.9,153.7h0M138.5,153.7h0M139.3,154.0h0M139.3,153.3h0M139.2,152.9h0M123.1,150.6h0M136.9,149.8h0M135.5,165.6h0M138.9,151.0h0M151.1,141.3h0M137.2,149.4h0M136.9,156.2h0M143.8,159.0h0M136.8,153.4h0M144.2,158.7h0M134.6,158.6h0M142.5,160.0h0M143.3,166.4h0M134.6,156.6h0M132.0,161.7h0M136.3,158.4h0M151.4,156.2h0M134.2,154.9h0M143.6,161.6h0M140.9,157.8h0M141.9,167.0h0M141.2,159.1h0M138.7,165.4h0M137.5,164.7h0M142.1,157.1h0M136.7,155.3h0M141.0,162.8h0M144.2,164.3h0M136.6,171.4h0M135.7,168.2h0M144.4,164.5h0M134.1,169.9h0M123.4,161.1h0M131.5,170.0h0M139.0,159.3h0M140.3,158.9h0M134.5,165.8h0M144.4,164.2h0M145.1,167.9h0M144.0,166.1h0M138.8,157.7h0M143.5,164.2h0M156.1,169.8h0M143.7,162.6h0M144.1,173.5h0M140.0,160.8h0M137.7,158.3h0M141.6,172.9h0M143.9,174.3h0M136.6,172.5h0M141.1,171.1h0M138.7,167.8h0M140.6,176.3h0M148.6,175.4h0M135.2,180.2h0M145.9,172.2h0M142.2,167.0h0M144.0,180.5h0M143.1,167.3h0M146.7,180.1h0M136.6,182.6h0M144.2,175.4h0M137.8,180.0h0M143.2,186.5h0M140.1,177.3h0M142.8,185.7h0M148.6,182.1h0M132.9,188.0h0M134.1,194.9h0M147.8,184.4h0M137.3,181.2h0M144.8,184.0h0M141.7,175.6h0M141.3,183.1h0M136.3,174.3h0M128.0,183.9h0M147.4,186.0h0M145.2,181.8h0M144.0,180.2h0M145.3,185.4h0M145.2,187.4h0M143.2,187.6h0M146.7,180.2h0M142.4,176.2h0M135.1,200.6h0M143.9,191.1h0M142.6,192.7h0M137.9,191.2h0M141.9,179.5h0M147.9,187.9h0M141.3,184.4h0M142.3,189.5h0M146.8,195.5h0M145.9,193.7h0M129.9,182.3h0M141.9,190.8h0M146.5,199.0h0M144.1,198.2h0M139.1,184.1h0M138.7,190.6h0M143.2,187.4h0M143.4,191.3h0M143.9,194.1h0M143.0,202.8h0M141.2,197.7h0M143.2,199.5h0M139.8,192.9h0M140.7,198.4h0M147.5,203.9h0M141.5,195.4h0M139.9,197.9h0M141.3,201.7h0M143.5,200.4h0M143.0,200.5h0M131.5,195.0h0M133.4,203.9h0M143.8,194.2h0M141.5,202.0h0M139.5,194.1h0M122.4,207.1h0M142.6,203.0h0M126.2,199.5h0M138.3,191.3h0M136.3,191.3h0M134.7,187.9h0M135.7,200.2h0M139.6,205.5h0M139.1,200.4h0M135.3,202.9h0M136.4,204.8h0M134.5,205.9h0M132.9,202.1h0M132.3,203.7h0M135.0,201.3h0M130.3,204.8h0M131.6,204.0h0M134.9,201.2h0M130.0,188.7h0M130.6,204.0h0M138.7,197.0h0M126.6,194.4h0M128.6,202.9h0M129.1,201.9h0M132.1,201.5h0M129.6,204.1h0M128.7,200.6h0M129.2,193.9h0M129.9,200.2h0M131.7,190.3h0M133.5,195.1h0M133.4,198.5h0M117.1,191.4h0M129.0,206.9h0M126.4,196.9h0M133.4,191.2h0M128.6,200.2h0M121.3,198.5h0M123.6,204.6h0M115.1,186.8h0M109.3,196.2h0M125.8,203.1h0M134.9,201.7h0M131.1,196.5h0M127.5,199.9h0M122.8,199.6h0M109.8,211.1h0M123.1,207.1h0M122.1,208.2h0M123.1,210.5h0M118.4,204.4h0M119.3,212.7h0M116.7,195.9h0M122.2,208.0h0M123.7,206.6h0M133.5,202.7h0M113.7,217.7h0M118.2,214.1h0M115.6,220.3h0M116.7,208.2h0M117.5,212.3h0M115.2,216.6h0M122.0,207.4h0M117.2,214.0h0M117.3,217.3h0M116.8,217.3h0M119.6,212.6h0M114.1,216.5h0M118.1,216.7h0M109.5,220.4h0M113.8,215.5h0M105.0,228.2h0M105.5,221.8h0M111.1,228.1h0M121.4,200.0h0M117.7,225.6h0M112.7,212.5h0M112.9,222.4h0M102.0,218.7h0M117.4,227.1h0M117.2,232.6h0M111.0,224.6h0M111.9,223.7h0M111.1,223.3h0M114.5,222.2h0M117.2,226.4h0M113.4,227.0h0M108.6,227.6h0M114.9,217.1h0M105.8,224.7h0M109.5,226.4h0M111.4,221.5h0M111.5,229.0h0M111.4,227.6h0M108.3,229.4h0M113.2,230.6h0M111.0,223.1h0M104.5,230.0h0M109.0,229.6h0M96.1,238.7h0M106.9,230.5h0M105.1,232.7h0M105.5,227.9h0M106.8,234.8h0M110.8,228.5h0M105.1,231.0h0M105.0,229.4h0M107.4,236.0h0M101.4,224.6h0M100.9,235.5h0M106.6,231.3h0M101.8,241.6h0M101.2,237.7h0M110.0,225.3h0M101.2,239.6h0M99.4,231.4h0M103.6,228.8h0M100.0,240.0h0M94.2,232.4h0M101.0,226.7h0M102.5,229.3h0M105.6,231.0h0M97.8,231.6h0M98.0,229.1h0M93.5,231.0h0M104.1,234.1h0M97.0,238.7h0M97.7,237.2h0M93.7,237.6h0M93.2,238.7h0M77.9,229.9h0M95.6,238.2h0M88.0,231.7h0M93.2,237.8h0M94.1,237.0h0M93.2,241.5h0M94.5,232.6h0M99.7,236.4h0M98.8,231.5h0M89.9,237.4h0M74.8,232.9h0M91.8,236.1h0M87.4,236.6h0M94.7,235.6h0M87.0,235.2h0M83.5,235.9h0M83.5,236.8h0M78.9,232.4h0M85.1,228.4h0M80.1,225.7h0M95.5,233.9h0M86.7,231.7h0M81.4,234.6h0M85.6,235.1h0M82.2,235.1h0M89.1,238.4h0M69.7,235.4h0M80.5,223.0h0M77.9,227.9h0M82.3,232.9h0M91.7,229.3h0M84.1,232.8h0M83.2,238.5h0M90.7,237.5h0M75.1,237.5h0M87.1,227.5h0M77.9,221.1h0M75.3,232.8h0M78.1,226.3h0M76.2,230.4h0M72.5,222.9h0M83.9,232.6h0M79.1,232.9h0M79.1,231.8h0M78.6,235.3h0M83.6,231.5h0M88.1,230.2h0M69.6,230.6h0M73.5,237.9h0M70.5,235.8h0M78.7,231.5h0M74.8,233.6h0M59.0,246.9h0M78.2,234.4h0M77.0,234.0h0M71.3,226.3h0M70.5,234.4h0M70.2,231.6h0M55.1,244.5h0M57.9,228.9h0M75.2,216.7h0M72.4,231.9h0M67.0,231.8h0M65.3,231.8h0M67.6,224.2h0M63.8,225.7h0M71.2,219.5h0M65.4,231.4h0M69.5,235.3h0M66.0,226.0h0M58.5,223.6h0M60.2,226.7h0M73.0,222.6h0M72.4,225.4h0M68.1,227.5h0M66.7,230.7h0M73.0,214.6h0M59.9,248.1h0M73.5,224.2h0M58.7,224.6h0M60.7,231.8h0M55.9,228.9h0M61.4,228.7h0M69.7,235.3h0M62.6,226.0h0M56.3,230.4h0M62.4,225.1h0M55.2,225.0h0M64.0,228.9h0M59.6,227.3h0M54.8,225.4h0M55.6,226.1h0M60.6,234.0h0M57.3,224.0h0M44.3,241.8h0M55.6,229.3h0M55.3,221.6h0M60.8,228.6h0M56.3,222.7h0M54.5,227.8h0M56.6,230.8h0M57.2,231.2h0M56.6,229.4h0M47.1,231.5h0M54.4,228.1h0M54.2,226.0h0M53.0,224.3h0M47.9,229.8h0M42.2,209.8h0M59.4,226.0h0M46.6,211.6h0M55.3,215.2h0M49.1,227.0h0M55.9,223.7h0M59.3,225.4h0M53.7,226.3h0M43.9,221.9h0M54.6,226.0h0M52.5,225.1h0M33.1,216.8h0M50.3,223.0h0M58.1,222.6h0M49.9,221.4h0M40.7,222.8h0M40.0,223.8h0M50.6,208.5h0M50.3,221.9h0M43.0,208.6h0M49.5,220.9h0M52.0,218.7h0M48.9,222.1h0M44.1,227.4h0M59.8,214.9h0M44.6,228.0h0M56.6,217.8h0M56.8,221.7h0M41.9,218.4h0M49.6,216.1h0M36.4,226.9h0M36.7,228.6h0M50.9,219.3h0M60.3,221.4h0M51.5,215.3h0M52.5,210.9h0M52.9,216.0h0M55.2,215.9h0M58.6,213.9h0M63.4,207.1h0M55.0,205.6h0M50.6,215.1h0M58.2,214.6h0M45.4,229.1h0M60.2,219.4h0M57.1,216.7h0M55.0,208.5h0M51.4,221.4h0M58.1,215.4h0M54.0,212.4h0M55.5,207.6h0M58.7,216.4h0M64.3,221.6h0M61.2,217.2h0M52.1,208.9h0M47.5,207.4h0M52.5,225.2h0M50.6,215.5h0M52.6,208.9h0M54.4,206.6h0M42.2,213.7h0M59.7,215.1h0M49.8,215.3h0M60.2,215.9h0M58.4,205.6h0M57.2,208.5h0M66.0,225.8h0M70.3,204.2h0M62.2,208.0h0M64.1,213.4h0M61.8,224.2h0M61.0,213.1h0M59.9,204.9h0M63.8,218.8h0M56.5,221.4h0M54.0,201.8h0M59.7,206.3h0M61.6,212.9h0M61.9,209.6h0M55.8,207.0h0M54.2,208.1h0M37.2,219.7h0M51.3,211.4h0M50.3,209.7h0M59.1,210.5h0M59.8,210.7h0M63.5,213.1h0M63.5,213.2h0M51.7,204.9h0M58.5,205.3h0M51.8,209.5h0M63.1,202.0h0M61.3,209.1h0M68.2,206.8h0M53.7,208.4h0M63.3,211.4h0M61.0,205.3h0M66.3,225.2h0M40.8,211.5h0M53.2,208.4h0M60.5,216.4h0M53.4,209.6h0M55.0,210.8h0M49.3,215.6h0M60.5,210.6h0M45.6,216.2h0M34.0,211.2h0M58.1,218.0h0M45.9,208.5h0M55.3,207.7h0M45.3,210.1h0M59.9,206.0h0M39.7,207.1h0M44.5,204.1h0M44.3,214.5h0M45.0,209.4h0M43.6,213.2h0M41.2,209.6h0M48.6,210.2h0M46.1,209.9h0M35.6,214.7h0M46.1,210.9h0M58.0,205.7h0M35.1,219.1h0M45.6,209.5h0M38.8,221.9h0M48.8,205.1h0M63.6,212.7h0M46.5,210.9h0M49.8,218.2h0M40.3,222.0h0M46.2,226.1h0M43.1,213.1h0M31.2,212.0h0M24.4,223.1h0M47.3,210.2h0M45.2,220.2h0M34.3,205.4h0M35.6,225.0h0M45.5,220.0h0M51.9,210.9h0M47.7,210.4h0M45.5,219.7h0M35.9,210.8h0M46.1,213.4h0M44.9,225.7h0M46.2,225.3h0M44.0,224.5h0M42.6,217.8h0M46.4,230.0h0M62.5,225.0h0M61.4,226.7h0M45.5,215.6h0M55.7,228.0h0M52.2,222.0h0M42.5,220.9h0M42.1,223.0h0M43.9,217.4h0M47.5,229.5h0M44.0,229.1h0M46.1,214.5h0M36.5,214.6h0M49.8,225.3h0M41.6,217.2h0M54.8,227.0h0M51.7,218.2h0M54.6,210.1h0M45.1,228.0h0M36.7,216.5h0M57.7,229.5h0M38.4,224.9h0M44.5,227.2h0M44.9,230.5h0M43.0,229.2h0M44.1,229.0h0M36.3,222.0h0M45.0,222.1h0M40.7,229.8h0M58.5,244.4h0M55.0,225.8h0M40.8,227.0h0M42.2,230.9h0M48.4,229.2h0M48.5,244.7h0M35.6,213.4h0M41.3,231.1h0M42.8,226.7h0M46.1,229.7h0M42.9,226.9h0M40.0,231.2h0M39.8,228.6h0M26.2,239.7h0M33.3,216.4h0M43.5,229.1h0M37.7,230.2h0M43.2,228.2h0M37.3,228.3h0M39.8,230.3h0M27.4,226.1h0M37.3,230.0h0M20.1,218.8h0M39.0,231.3h0M28.5,220.0h0M33.2,227.0h0M41.0,227.0h0M38.9,229.5h0M34.5,229.9h0M43.2,222.2h0M36.8,227.9h0M35.5,229.6h0M39.6,226.6h0M46.0,226.3h0M32.5,221.7h0M42.8,218.0h0M30.4,220.6h0M31.8,215.5h0M37.2,223.0h0M29.0,226.4h0M26.2,226.2h0M25.6,225.0h0M24.8,224.1h0M23.9,224.6h0M26.5,234.8h0M27.1,212.7h0M24.9,236.6h0M24.4,222.7h0M30.0,227.1h0M33.6,221.9h0M26.4,224.7h0M26.3,224.6h0M21.4,223.2h0M17.9,223.4h0M9.8,216.6h0M19.1,233.6h0M16.6,220.2h0M24.4,219.6h0M28.2,220.8h0M17.2,234.5h0M21.8,225.7h0M25.9,218.5h0M15.9,218.2h0M24.6,223.5h0M22.3,222.7h0M25.7,215.1h0M5.6,228.7h0M28.4,212.5h0M30.2,224.2h0M4.4,227.5h0M9.2,210.7h0M13.3,237.9h0M26.5,225.5h0M20.0,223.1h0M21.2,234.9h0M17.9,222.4h0M12.1,222.8h0M10.8,221.2h0M10.4,238.4h0M18.2,218.3h0M12.0,230.9h0M13.5,220.2h0M8.6,218.1h0M9.2,217.0h0M19.4,223.9h0M16.3,222.6h0M7.1,229.7h0M7.6,216.0h0M16.0,221.1h0M10.9,220.7h0M10.3,218.5h0M10.5,218.7h0M14.6,216.4h0M10.1,220.6h0M2.2,231.5h0M31.1,227.0h0M11.2,221.0h0M2.7,211.8h0M4.1,217.3h0M6.0,216.9h0M12.3,227.8h0M4.4,214.7h0M1.9,213.7h0M2.9,216.2h0M14.9,217.4h0M6.7,216.8h0M4.4,216.9h0M4.9,215.3h0M4.6,215.3h0M10.2,219.7h0M13.7,219.8h0M13.0,221.4h0M3.7,223.1h0M9.1,221.6h0M15.6,216.1h0M7.8,220.3h0M1.6,222.5h0M3.8,228.2h0M1.1,228.7h0M6.8,225.0h0M8.1,234.4h0M2.7,224.8h0M15.8,229.7h0M23.1,215.4h0M18.0,212.0h0M17.5,218.7h0M5.5,224.9h0M13.5,229.8h0M9.3,219.0h0M12.8,226.6h0M1.7,236.8h0M16.2,221.7h0M6.4,231.8h0M17.3,232.1h0M20.9,232.6h0M17.6,233.2h0M20.3,235.5h0M8.3,240.8h0M23.8,230.8h0M19.5,231.4h0M22.4,232.5h0M13.3,228.1h0M1.5,224.6h0M7.5,233.6h0M17.8,232.2h0M25.3,236.4h0M13.0,228.7h0M17.0,218.4h0M10.5,219.7h0M17.8,234.8h0M12.5,231.7h0M22.6,236.2h0M13.8,230.1h0M12.8,228.6h0M19.6,231.9h0M8.3,228.4h0M19.3,238.9h0M13.9,234.2h0M26.9,235.0h0M9.0,225.9h0M23.2,223.9h0M16.8,225.7h0M25.5,238.0h0M24.8,233.7h0M35.6,244.9h0M27.1,235.5h0M25.6,235.9h0M37.8,238.8h0M37.4,242.6h0M30.4,234.4h0M39.8,224.6h0M21.5,235.1h0M16.4,246.3h0M25.7,234.1h0M31.8,236.8h0M35.3,229.0h0M28.7,236.0h0M25.7,243.4h0M23.7,239.0h0M37.7,241.1h0M29.4,235.7h0M36.7,227.3h0M26.7,232.6h0M31.6,247.0h0M26.2,236.5h0M28.5,236.0h0M29.7,221.7h0M27.6,234.1h0M35.1,237.7h0M31.5,226.9h0M29.8,243.1h0M37.6,238.9h0M31.0,236.5h0M30.9,238.3h0M39.7,238.3h0M41.0,230.7h0M35.7,241.1h0M41.7,238.8h0M37.2,236.3h0M47.0,241.3h0M42.0,241.6h0M27.8,242.5h0M46.1,242.2h0M40.8,230.9h0M37.6,253.8h0M38.1,226.9h0M44.3,248.1h0M32.2,241.2h0M46.9,230.9h0M43.2,243.0h0M35.6,239.6h0M44.7,224.9h0M37.1,229.3h0M45.0,239.5h0M39.2,246.2h0M48.1,241.6h0M50.7,249.1h0M53.6,246.1h0M49.2,243.2h0M47.5,240.7h0M43.5,248.1h0M46.1,252.9h0M58.3,247.8h0M51.9,241.3h0M52.4,241.7h0M55.1,246.6h0M53.6,246.9h0M48.8,242.8h0M51.3,242.4h0M52.7,241.9h0M45.4,235.9h0M41.3,244.2h0M56.2,243.5h0M54.4,252.4h0M55.1,244.0h0M57.7,246.0h0M55.2,242.2h0M53.1,239.5h0M53.0,244.7h0M59.8,252.3h0M56.2,245.8h0M50.7,241.6h0M54.6,243.3h0M66.1,228.3h0M58.7,244.0h0M57.0,248.0h0M49.4,245.1h0M76.5,234.9h0M57.8,251.8h0M56.9,248.0h0M65.0,229.0h0M58.2,250.3h0M57.7,246.8h0M58.2,251.7h0M54.5,249.4h0M56.1,253.3h0M58.5,254.5h0M58.9,252.7h0M58.2,253.7h0M54.4,251.0h0M57.4,255.5h0M57.5,255.4h0M41.6,261.0h0M53.2,253.5h0M50.9,248.6h0M59.4,252.4h0M54.7,249.1h0M53.2,255.5h0M57.2,256.3h0M48.8,267.9h0M56.2,262.3h0M51.7,246.9h0M53.4,258.7h0M56.2,257.0h0M42.9,261.5h0M51.3,266.0h0M54.1,263.5h0M42.4,265.8h0M47.0,273.8h0M38.2,270.6h0M45.0,269.3h0M46.3,266.8h0M52.3,268.0h0M44.2,263.1h0M54.5,263.1h0M44.4,266.1h0M48.0,271.5h0M48.4,269.7h0M50.2,287.9h0M46.7,268.6h0M34.8,257.6h0M44.6,267.8h0M39.5,271.0h0M40.2,272.6h0M46.9,271.0h0M42.8,269.8h0M51.7,262.5h0M47.8,263.1h0M46.1,259.4h0M42.8,256.7h0M49.9,256.3h0M51.7,256.1h0M46.6,261.5h0M50.3,268.9h0M47.7,247.5h0M54.5,265.2h0M49.4,264.5h0M47.6,260.5h0M49.5,267.1h0M51.7,267.0h0M50.6,269.3h0M55.1,259.8h0M51.5,262.4h0M53.2,257.0h0M53.2,264.5h0M31.0,273.2h0M52.8,263.6h0M54.7,261.3h0M44.1,270.2h0M50.4,259.9h0M51.0,288.7h0M49.6,258.9h0M51.7,266.5h0M51.0,268.6h0M56.5,258.6h0M49.4,265.6h0M54.5,257.1h0M56.6,261.9h0M41.6,272.3h0M37.6,268.5h0M49.4,252.2h0M54.9,262.3h0M51.9,259.6h0M50.9,252.0h0M52.1,262.3h0M40.2,274.0h0M55.6,251.5h0M51.9,268.0h0M37.2,269.8h0M50.7,250.9h0M56.3,258.6h0M55.5,259.5h0M52.0,257.2h0M56.0,257.8h0M55.2,261.5h0M48.3,262.5h0M37.0,261.5h0M46.5,258.6h0M54.4,255.8h0M53.5,259.5h0M51.1,266.5h0M55.1,259.9h0M56.2,246.1h0M52.2,264.9h0M54.1,259.7h0M47.2,252.8h0M57.0,257.2h0M50.8,253.3h0M53.6,263.9h0M48.1,264.7h0M46.8,267.3h0M50.0,258.9h0M46.7,262.2h0M47.1,272.1h0M46.7,273.4h0M50.7,268.8h0M49.8,271.1h0M47.0,267.4h0M50.2,269.2h0M50.0,264.0h0M45.1,273.4h0M49.3,264.9h0M45.4,275.3h0M47.1,273.8h0M42.4,274.6h0M41.8,293.5h0M46.7,267.2h0M42.6,276.9h0M42.3,276.3h0M40.7,277.5h0M47.0,269.3h0M35.7,279.6h0M44.8,275.3h0M41.0,270.8h0M47.5,267.7h0M44.0,274.6h0M48.1,257.5h0M29.8,284.0h0M31.6,269.4h0M39.9,279.5h0M29.4,283.6h0M30.4,281.0h0M38.0,279.6h0M45.1,289.1h0M30.7,274.6h0M39.6,280.0h0M19.1,290.3h0M21.9,298.7h0M44.8,267.5h0M36.9,277.7h0M21.6,286.6h0M35.2,280.9h0M32.7,282.4h0M36.1,274.0h0M29.0,280.3h0M35.2,281.0h0M30.4,278.7h0M39.5,304.0h0M13.5,283.2h0M24.5,280.3h0M27.0,276.3h0M26.8,285.5h0M28.7,285.9h0M35.0,290.4h0M22.3,305.0h0M25.7,289.2h0M29.3,289.1h0M24.9,290.0h0M26.4,289.0h0M35.0,280.4h0M23.6,290.9h0M38.3,293.4h0M22.4,288.0h0M31.5,300.4h0M19.2,285.0h0M28.4,303.0h0M17.1,289.0h0M34.0,293.4h0M16.5,288.4h0M25.6,286.9h0M26.3,280.6h0M31.9,295.9h0M16.1,287.9h0M24.3,288.4h0M9.6,278.6h0M26.8,276.0h0M10.6,269.2h0M14.9,279.7h0M13.9,287.1h0M12.8,294.8h0M21.2,289.9h0M20.1,289.9h0M9.6,286.7h0M10.6,283.6h0M2.0,299.2h0M16.2,282.4h0M31.0,299.7h0M16.7,281.7h0M22.1,280.4h0M10.6,274.1h0M17.6,289.4h0M21.1,283.2h0M12.4,278.1h0M6.6,300.4h0M16.3,287.4h0M18.3,285.4h0M16.4,286.2h0M15.5,288.1h0M22.0,290.0h0M4.5,276.5h0M15.8,277.2h0M17.5,288.5h0M21.5,288.9h0M17.1,296.6h0M13.4,294.7h0M15.8,272.3h0M19.6,290.6h0M7.5,280.2h0M5.3,281.1h0M6.0,280.5h0M1.7,279.4h0M1.9,276.1h0M18.1,275.4h0M2.8,274.0h0M8.6,282.5h0M9.2,279.7h0M19.9,274.0h0M8.6,293.2h0M9.4,271.0h0M5.8,278.6h0M6.2,279.2h0M12.4,280.3h0M1.1,287.5h0M14.4,284.9h0M1.8,293.3h0M2.7,299.4h0M2.4,288.0h0M6.4,293.7h0M6.3,294.7h0M6.1,287.7h0M3.1,292.5h0M7.0,300.0h0M3.2,295.2h0M18.1,274.1h0M4.1,301.9h0M5.9,291.9h0M6.1,296.1h0M12.2,294.4h0M8.9,294.2h0M16.8,308.5h0M5.4,296.3h0M9.1,297.8h0M13.9,295.7h0M17.9,282.7h0M12.8,293.9h0M11.3,302.2h0M12.9,296.5h0M10.5,297.1h0M23.1,299.3h0M4.1,291.1h0M11.4,295.2h0M11.4,308.7h0M17.1,305.0h0M3.3,295.2h0M13.6,297.0h0M12.1,299.9h0M9.2,293.6h0M17.9,296.1h0M23.4,297.9h0M22.8,296.8h0M20.3,292.4h0M18.8,296.9h0M24.7,282.1h0M23.7,297.3h0M17.5,296.4h0M19.7,289.3h0M18.1,301.6h0M18.7,306.2h0M20.5,297.4h0M15.8,295.7h0M36.5,313.7h0M9.9,301.7h0M15.4,295.5h0M23.0,297.9h0M19.3,296.7h0M29.0,287.3h0M25.1,302.1h0M20.6,300.8h0M22.9,302.8h0M18.8,295.8h0M21.2,297.5h0M32.4,304.3h0M23.7,301.7h0M30.9,297.3h0M11.1,284.0h0M17.7,298.9h0M16.5,303.6h0M23.0,297.6h0M29.8,304.2h0M36.2,298.8h0M31.2,303.0h0M22.5,285.4h0M15.1,297.5h0M25.5,289.2h0M33.3,296.1h0M38.5,293.9h0M26.4,285.8h0M29.4,297.2h0M23.9,303.7h0M30.2,300.0h0M31.9,311.0h0M35.9,303.0h0M24.5,294.2h0M37.9,294.8h0M16.8,285.0h0M31.5,296.9h0M30.7,280.2h0M27.8,284.7h0M29.3,280.8h0M38.4,290.3h0M35.6,295.8h0M37.0,286.8h0M39.8,287.9h0M33.8,283.5h0M41.9,289.5h0M31.7,285.5h0M44.1,291.5h0M36.7,293.9h0M37.4,294.4h0M36.2,298.0h0M42.6,284.9h0M24.8,288.1h0M38.8,277.4h0M39.6,306.6h0M34.5,293.1h0M40.5,282.6h0M42.8,289.2h0M48.4,290.1h0M40.5,288.7h0M45.7,287.5h0M40.8,288.7h0M46.5,286.8h0M34.7,280.1h0M36.8,289.9h0M43.8,291.2h0M43.2,292.6h0M39.4,301.7h0M43.2,293.0h0M53.4,292.4h0M50.5,293.2h0M48.4,302.1h0M31.0,296.9h0M58.5,284.9h0M61.9,287.3h0M58.8,282.9h0M54.0,285.8h0M58.4,285.3h0M60.9,288.5h0M54.9,285.6h0M50.5,286.3h0M52.8,287.3h0M58.2,292.6h0M42.7,290.2h0M51.7,289.4h0M61.1,285.3h0M56.3,296.9h0M63.0,281.0h0M60.1,287.8h0M62.7,283.4h0M55.2,286.3h0M58.5,280.6h0M57.7,286.3h0M64.3,281.6h0M61.0,282.1h0M57.8,283.2h0M64.3,281.1h0M64.3,279.8h0M63.9,288.7h0M60.8,275.5h0M62.6,282.8h0M60.3,275.4h0M57.8,289.4h0M64.5,277.7h0M63.5,279.0h0M57.5,286.9h0M59.6,277.5h0M75.3,288.0h0M60.4,276.9h0M67.1,281.8h0M64.7,281.6h0M67.5,281.6h0M62.0,290.0h0M78.3,283.6h0M65.5,283.3h0M63.8,283.1h0M55.6,287.5h0M66.7,285.0h0M58.8,286.2h0M65.3,294.5h0M62.2,302.6h0M61.0,288.9h0M62.1,287.6h0M62.0,294.3h0M68.8,282.0h0M61.5,280.1h0M54.2,290.6h0M58.7,284.2h0M62.8,285.4h0M77.1,294.0h0M55.6,308.9h0M63.9,291.3h0M69.7,300.5h0M63.8,294.7h0M58.2,289.8h0M64.3,289.4h0M63.8,294.2h0M67.0,298.9h0M65.9,291.1h0M65.7,296.5h0M64.6,291.4h0M74.9,283.9h0M73.9,297.7h0M71.4,299.1h0M70.8,296.4h0M73.2,297.5h0M73.5,289.9h0M69.2,298.4h0M67.7,304.4h0M64.1,298.4h0M64.2,292.2h0M76.9,291.0h0M59.8,308.5h0M58.3,297.2h0M69.0,301.0h0M61.6,285.7h0M75.5,300.4h0M72.2,301.2h0M74.3,299.5h0M75.0,296.6h0M72.1,299.1h0M76.1,300.6h0M71.0,296.2h0M75.2,298.9h0M71.2,305.9h0M76.6,301.7h0M61.2,289.7h0M78.3,301.2h0M73.3,298.9h0M75.4,299.9h0M65.5,308.0h0M75.3,300.6h0M76.0,298.1h0M74.8,292.2h0M69.2,307.2h0M76.7,301.1h0M80.5,294.0h0M71.8,300.0h0M71.5,306.7h0M72.6,300.2h0M75.4,299.9h0M72.1,301.4h0M68.1,306.8h0M68.3,304.6h0M67.5,307.7h0M64.5,308.1h0M69.9,304.6h0M67.0,305.4h0M63.1,308.6h0M71.4,300.0h0M58.4,308.2h0M51.8,317.5h0M67.1,309.1h0M68.8,306.3h0M63.0,310.1h0M67.1,306.5h0M63.1,309.0h0M65.1,311.9h0M64.4,310.6h0M69.3,313.7h0M61.4,313.3h0M59.8,309.3h0M66.7,309.2h0M61.9,306.1h0M58.9,314.5h0M48.5,310.5h0M55.2,315.5h0M62.2,315.7h0M64.2,313.6h0M60.8,313.4h0M62.5,314.8h0M59.5,305.7h0M61.7,313.7h0M59.3,313.4h0M61.3,316.9h0M61.1,326.8h0M60.1,313.8h0M61.2,313.5h0M60.0,316.0h0M60.2,319.6h0M47.3,311.4h0M57.9,323.5h0M56.0,314.1h0M59.3,319.8h0M60.4,315.3h0M57.6,322.1h0M53.8,332.6h0M58.8,326.6h0M55.3,327.1h0M55.7,326.5h0M57.1,325.4h0M61.6,321.3h0M61.2,317.5h0M58.4,323.1h0M56.5,326.7h0M57.0,322.8h0M44.9,310.3h0M55.8,327.2h0M62.6,325.7h0M49.5,333.5h0M56.5,329.4h0M53.2,342.3h0M54.0,336.2h0M54.4,326.9h0M51.6,332.6h0M53.4,337.5h0M51.8,338.4h0M52.5,331.1h0M53.5,334.8h0M54.2,333.9h0M53.6,337.6h0M54.4,334.6h0M52.9,342.2h0M51.7,341.0h0M51.9,337.9h0M56.4,347.0h0M53.0,340.5h0M53.3,339.4h0M54.7,341.1h0M52.9,340.5h0M51.6,342.0h0M55.2,344.3h0M52.1,332.9h0M51.2,350.7h0M48.7,332.6h0M48.7,333.8h0M51.4,337.0h0M51.3,338.4h0M49.1,335.7h0M51.1,339.2h0M46.9,333.2h0M48.7,323.4h0M46.5,325.6h0M31.1,328.4h0M49.7,321.0h0M47.7,334.4h0M38.4,328.2h0M45.4,338.5h0M53.2,337.2h0M43.7,321.6h0M51.0,337.0h0M45.3,328.0h0M52.3,333.4h0M45.3,332.5h0M44.9,325.5h0M54.3,335.9h0M41.0,327.4h0M41.7,320.8h0M28.7,321.5h0M35.1,328.5h0M35.5,323.8h0M34.4,329.5h0M32.0,329.3h0M30.2,332.2h0M39.4,326.8h0M37.0,334.0h0M49.3,332.0h0M31.0,327.2h0M39.5,332.2h0M54.0,332.4h0M40.6,330.7h0M36.5,325.7h0M54.4,321.8h0M43.6,330.6h0M48.8,326.1h0M36.9,323.5h0M28.0,327.6h0M30.3,328.6h0M30.9,315.7h0M29.8,324.7h0M23.4,326.8h0M35.7,327.5h0M38.5,321.9h0M24.5,332.9h0M26.6,328.6h0M30.1,328.6h0M29.6,325.4h0M26.2,323.4h0M21.9,328.0h0M34.4,329.9h0M29.9,328.5h0M32.8,330.5h0M32.6,326.5h0M38.1,315.1h0M28.4,322.5h0M11.7,323.0h0M4.8,327.9h0M15.0,327.2h0M16.8,323.9h0M16.6,321.9h0M17.2,327.6h0M10.6,323.6h0M4.1,325.1h0M20.1,325.9h0M19.3,327.8h0M7.9,317.3h0M15.7,325.5h0M22.3,312.7h0M19.4,327.3h0M13.6,326.4h0M22.2,326.8h0M14.0,326.0h0M15.8,327.6h0M19.4,325.6h0M16.1,328.9h0M25.0,320.5h0M16.4,326.9h0M17.5,328.7h0M22.1,323.4h0M23.7,327.5h0M22.3,324.7h0M19.4,327.1h0M9.1,327.5h0M4.3,330.4h0M5.4,334.5h0M14.9,327.9h0M1.4,328.3h0M8.1,329.1h0M6.1,329.3h0M8.0,322.2h0M14.1,321.9h0M5.1,330.2h0M1.2,330.8h0M6.2,327.6h0M7.1,329.7h0M1.5,320.5h0M1.3,330.9h0M72.9,281.6h0M77.4,282.6h0M79.3,284.7h0M75.3,281.9h0M77.0,276.9h0M75.1,283.0h0M77.3,289.2h0M75.9,291.7h0M79.4,284.6h0M78.7,284.1h0M79.0,289.3h0M81.3,282.3h0M72.2,291.3h0M81.9,291.1h0M80.4,288.4h0M79.9,293.3h0M81.4,290.8h0M82.6,290.7h0M84.8,291.3h0M74.4,292.8h0M82.6,291.9h0M77.8,293.8h0M84.5,298.0h0M75.8,297.3h0M67.9,299.8h0M79.6,291.4h0M65.3,294.8h0M79.1,294.9h0M76.6,301.7h0M77.2,292.0h0M55.1,289.9h0M57.2,303.5h0M68.3,303.2h0M74.9,302.2h0M77.5,283.1h0M64.7,298.2h0M59.9,298.2h0M74.4,298.0h0M80.7,292.7h0M75.1,291.5h0M62.1,294.0h0M72.7,281.4h0M72.1,302.5h0M65.1,292.5h0M71.6,290.9h0M63.8,290.9h0M71.9,291.9h0M71.4,291.2h0M72.1,291.3h0M57.2,297.4h0M73.7,287.4h0M69.4,290.0h0M74.1,287.6h0M75.1,287.8h0M76.0,291.2h0M76.9,287.2h0M79.2,286.8h0M74.8,286.0h0M68.6,281.9h0M60.8,284.9h0M72.8,286.8h0M65.2,284.0h0M74.6,283.6h0M78.3,285.6h0M70.4,280.4h0M64.6,285.7h0M77.3,289.3h0M70.9,2.1h0M70.5,1.5h0M67.3,1.5h0M68.7,8.6h0M67.0,9.7h0M66.2,15.4h0M66.6,4.7h0M66.4,4.1h0M68.4,16.1h0M66.1,7.4h0M67.3,4.7h0M61.6,4.5h0M65.2,2.1h0M66.0,15.3h0M150.4,154.0h0M151.3,153.5h0M148.3,153.8h0M153.5,157.2h0M149.9,153.0h0M136.2,162.3h0M150.0,156.5h0M141.5,162.4h0M150.9,155.2h0M162.4,168.5h0M157.1,170.8h0M159.3,157.8h0M160.2,167.8h0M155.3,158.7h0M154.2,159.7h0M151.6,154.1h0M154.2,166.8h0M153.2,155.0h0M152.2,156.6h0M159.4,152.9h0M160.5,168.2h0M160.0,163.1h0M158.8,169.7h0M157.6,159.9h0M159.9,162.3h0M159.4,171.4h0M158.9,162.4h0M157.1,160.2h0M159.0,163.4h0M155.7,158.8h0M154.6,165.9h0M161.3,165.0h0M162.0,170.2h0M167.0,165.2h0M162.9,170.6h0M160.8,163.8h0M161.0,168.4h0M163.1,170.2h0M167.3,173.5h0M163.9,171.1h0M159.6,166.8h0M156.8,165.6h0M158.7,169.5h0M157.9,164.4h0M158.0,165.0h0M159.1,166.5h0M158.3,168.9h0M161.6,174.1h0M159.0,165.5h0M157.8,171.0h0M143.2,161.2h0M158.6,172.1h0M152.9,169.2h0M156.4,161.6h0M150.2,154.8h0M153.8,160.0h0M152.4,159.6h0M152.3,157.7h0M156.1,161.7h0M157.5,160.0h0M155.7,167.9h0M151.3,158.0h0M136.9,158.0h0M144.7,169.3h0M148.2,153.9h0M151.0,157.0h0M136.0,151.1h0M156.2,161.2h0M145.5,141.9h0M149.1,142.9h0M151.2,140.8h0M148.4,139.3h0M148.6,139.0h0M153.7,138.7h0M152.5,140.6h0M135.7,150.6h0M151.1,141.8h0M150.6,142.3h0M148.9,140.4h0M150.3,139.2h0M151.3,143.6h0M150.3,143.7h0M148.6,144.5h0M152.0,145.9h0M136.9,150.7h0M154.3,166.8h0M144.6,171.6h0M157.7,162.5h0M153.8,167.2h0M152.9,164.4h0M143.6,173.1h0M158.4,162.8h0M155.5,166.0h0M153.4,166.4h0M154.9,160.9h0M153.4,165.7h0M163.1,173.1h0M159.2,171.9h0M161.4,168.7h0M160.3,164.0h0M160.3,172.8h0M160.4,166.4h0M160.2,173.3h0M144.2,170.7h0M159.3,170.2h0M161.4,172.7h0M158.2,170.1h0M163.3,174.6h0M163.1,168.1h0M162.0,173.6h0M154.3,168.5h0M152.7,171.3h0M154.1,167.2h0M158.7,173.4h0M158.7,163.3h0M159.8,173.2h0M153.7,167.0h0M152.5,174.7h0M165.5,175.4h0M153.0,166.3h0M152.3,164.0h0M154.4,167.2h0M153.8,171.4h0M145.0,175.8h0M148.8,171.2h0M154.3,168.5h0M157.1,169.2h0M144.9,177.0h0M114.1,274.8h0M115.2,273.6h0M118.2,273.2h0M119.2,273.1h0M116.6,271.8h0M115.5,271.2h0M118.0,273.2h0M170.7,243.8h0M169.8,247.2h0M161.9,251.2h0M165.5,249.8h0M162.5,251.4h0M167.5,250.7h0M163.8,251.4h0M167.5,249.0h0M169.0,250.9h0M170.5,250.3h0M167.5,252.3h0M167.4,254.5h0M169.3,249.5h0M169.1,251.2h0M166.0,251.7h0M163.6,250.1h0M163.2,252.4h0M163.3,252.5h0M157.6,250.4h0M162.9,251.7h0M165.6,248.9h0M143.7,122.5h0M142.6,122.8h0M144.3,117.8h0M147.3,127.1h0M148.0,135.7h0M149.4,132.4h0M148.0,133.5h0M151.4,137.0h0M148.9,137.4h0M152.7,138.1h0M149.9,145.8h0M159.5,147.9h0M155.5,143.4h0M159.0,147.3h0M155.8,146.6h0M150.6,143.5h0M160.7,158.8h0M147.0,155.2h0M156.8,159.6h0M142.6,164.5h0M164.1,160.8h0M160.5,156.6h0M159.0,149.2h0M165.9,164.5h0M167.6,170.6h0M165.0,166.5h0M168.2,167.4h0M168.9,173.8h0M158.2,176.5h0M171.5,184.6h0M173.7,187.1h0M165.4,185.5h0M173.0,185.1h0M172.3,186.2h0M171.8,191.7h0M174.3,189.1h0M174.6,188.1h0M170.9,190.7h0M176.7,197.2h0M173.9,187.5h0M175.9,208.3h0M167.0,207.4h0M176.1,209.4h0M173.5,207.9h0M176.4,204.6h0M170.7,214.6h0M167.1,213.3h0M173.4,212.1h0M173.5,210.6h0M175.2,213.4h0M169.7,219.5h0M165.9,222.1h0M171.5,232.9h0M171.2,225.6h0M172.8,229.9h0M171.4,235.6h0M165.8,232.9h0M169.7,239.5h0M165.1,240.7h0M170.1,239.6h0M158.6,240.5h0M166.3,239.7h0M168.6,248.4h0M167.4,249.4h0M166.9,245.2h0M169.2,248.4h0M167.4,235.8h0M161.5,251.5h0M157.3,251.7h0M159.0,252.5h0M160.0,251.8h0M151.5,253.7h0M157.0,252.8h0M137.7,259.4h0M148.6,258.3h0M132.7,258.6h0M135.6,262.2h0M142.8,257.4h0M145.0,258.6h0M141.5,260.8h0M140.9,257.9h0M119.2,271.3h0M117.9,271.2h0M118.4,271.7h0M125.5,269.1h0M123.3,267.8h0M126.3,256.7h0M120.3,271.6h0M127.6,266.9h0M118.7,269.8h0M123.6,266.9h0M128.4,248.8h0M120.1,272.0h0M122.1,271.6h0M121.6,268.2h0M127.5,264.2h0M134.0,259.6h0M121.3,272.7h0M131.9,262.2h0M139.3,265.4h0M131.3,262.9h0M134.0,262.6h0M138.1,260.3h0M135.4,262.6h0M135.3,261.1h0M121.8,263.2h0M121.3,269.7h0M118.1,270.6h0M125.0,266.1h0M118.1,268.6h0M120.3,258.2h0M106.9,276.3h0M111.4,276.0h0M109.7,273.9h0M115.3,272.8h0M108.2,278.1h0M101.0,264.9h0M104.3,281.7h0M101.5,282.1h0M94.7,290.1h0M97.9,286.7h0M96.2,288.4h0M96.7,273.7h0M101.2,282.5h0M86.9,296.8h0M84.1,296.9h0M89.9,290.6h0M85.7,293.9h0M79.7,293.7h0M91.8,291.4h0M85.6,298.4h0M81.8,298.3h0M76.9,302.2h0M80.4,300.7h0M73.4,307.2h0M79.1,303.3h0M75.0,299.1h0M73.1,308.9h0M66.2,309.1h0M71.4,312.7h0M70.0,308.2h0M70.4,314.1h0M62.4,314.3h0M64.5,319.2h0M61.7,320.8h0M64.7,318.0h0M63.6,323.7h0M57.8,331.7h0M57.2,334.5h0M43.8,321.8h0M54.9,329.0h0M57.3,334.7h0M58.0,329.9h0M50.5,343.3h0M51.5,344.0h0M45.6,342.0h0M6.0,328.3h0M6.9,331.2h0M8.1,332.5h0M2.6,329.8h0M4.4,329.5h0M6.9,331.5h0M21.7,322.1h0M17.6,322.7h0M17.3,328.9h0M14.7,319.7h0M16.2,329.7h0M24.6,331.5h0M27.6,321.2h0M28.5,330.1h0M24.1,329.7h0M25.1,331.7h0M35.0,331.2h0M36.4,333.6h0M37.3,332.3h0M38.0,329.4h0M44.4,335.8h0M48.0,339.0h0M45.5,333.2h0M48.0,340.1h0M52.3,345.6h0M48.3,347.1h0M50.2,344.5h0M50.4,345.9h0" fill="none" stroke="#000" stroke-width="1.9" stroke-linecap="round"/></g>
<path id="grid" d="M58.0,0V427M116.0,0V427M174.0,0V427M232.0,0V427M290.0,0V427M0,72.3H348M0,144.1H348M0,215.5H348M0,286.4H348M0,356.9H348" fill="none" stroke="#000" stroke-opacity="0.17" stroke-width="1" stroke-dasharray="2.2 6.1"/>
<path id="ticks" d="M58.0,427v-4M58.0,0v4M116.0,427v-4M116.0,0v4M174.0,427v-4M174.0,0v4M232.0,427v-4M232.0,0v4M290.0,427v-4M290.0,0v4M0,72.3h4M348,72.3h-4M0,144.1h4M348,144.1h-4M0,215.5h4M348,215.5h-4M0,286.4h4M348,286.4h-4M0,356.9h4M348,356.9h-4" fill="none" stroke="#262626" stroke-width="1"/>
<g id="star" stroke="#f00" stroke-width="1.1" fill="none"><path d="M-8,0H8M0,-8V8M-5.7,-5.7L5.7,5.7M-5.7,5.7L5.7,-5.7"/></g>
<g id="sites"><use href="#star" x="170.9" y="250.0"/><use href="#star" x="67.4" y="320.6"/></g>
</defs>
<g transform="translate(75.0,142.5)"><g clip-path="url(#ax)">
<use href="#land"/><use href="#grid"/><use href="#ticks"/>
<path d="M273.8,-0.1 271.4,19.3 268.5,36.9 263.2,51.0 260.4,58.1 257.9,75.7 256.2,93.4 252.6,111.0 250.9,128.7" fill="none" stroke="#000" stroke-width="1.0" stroke-linejoin="round"/>
<path d="M246.5,158.7 246.0,168.9 247.9,178.3 249.9,184.6 253.0,192.4 253.8,201.8 251.5,211.2 249.1,220.6 242.8,230.0 233.4,244.2 224.0,256.7 213.0,270.8 202.1,280.2 186.4,294.4 175.4,305.3 170.7,314.8 166.0,319.5" fill="none" stroke="#000" stroke-width="1.0" stroke-linejoin="round"/>
<path d="M134.4,361.6 118.5,379.3 100.9,396.9 79.7,425.1" fill="none" stroke="#000" stroke-width="1.0" stroke-linejoin="round"/>
<text x="250.3" y="150.5" font-size="17.0" text-anchor="middle" transform="rotate(-84 250.3 144.6)" fill="#000">-100</text>
<text x="147.3" y="347.9" font-size="17.0" text-anchor="middle" transform="rotate(-53 147.3 342.0)" fill="#000">-100</text>
<circle cx="261.5" cy="54.6" r="1.8" fill="none" stroke="#000" stroke-width="0.8"/>
<path d="M182.7,213.0L185.2,208.3" stroke="#00dfff" stroke-width="1.55" fill="none"/><path d="M188.5,202.0L187.8,209.7L182.5,206.9Z" fill="#00dfff"/>
<path d="M182.7,220.7L177.0,217.4" stroke="#00ffff" stroke-width="1.55" fill="none"/><path d="M170.8,213.7L178.5,214.8L175.5,220.0Z" fill="#00ffff"/>
<path d="M182.7,228.4L181.2,222.7" stroke="#00dfff" stroke-width="1.55" fill="none"/><path d="M179.3,215.8L184.1,222.0L178.3,223.5Z" fill="#00dfff"/>
<path d="M190.3,228.4L193.7,221.1" stroke="#20ffdf" stroke-width="1.55" fill="none"/><path d="M196.7,214.6L196.4,222.4L190.9,219.9Z" fill="#20ffdf"/>
<path d="M182.7,236.0L180.2,239.1" stroke="#00afff" stroke-width="1.55" fill="none"/><path d="M175.7,244.8L177.9,237.3L182.6,241.0Z" fill="#00afff"/>
<path d="M190.3,236.0L189.6,227.9" stroke="#20ffdf" stroke-width="1.55" fill="none"/><path d="M188.9,220.7L192.6,227.6L186.6,228.2Z" fill="#20ffdf"/>
<path d="M198.0,236.0L203.2,223.8" stroke="#afff50" stroke-width="1.55" fill="none"/><path d="M206.0,217.2L206.0,225.0L200.4,222.6Z" fill="#afff50"/>
<path d="M182.7,243.7L180.1,237.8" stroke="#00efff" stroke-width="1.55" fill="none"/><path d="M177.2,231.3L182.8,236.6L177.3,239.1Z" fill="#00efff"/>
<path d="M190.3,243.7L185.4,235.8" stroke="#40ffbf" stroke-width="1.55" fill="none"/><path d="M181.6,229.7L188.0,234.2L182.9,237.4Z" fill="#40ffbf"/>
<path d="M198.0,243.7L202.0,231.8" stroke="#9fff60" stroke-width="1.55" fill="none"/><path d="M204.2,225.0L204.8,232.8L199.1,230.9Z" fill="#9fff60"/>
<path d="M161.6,246.6L169.0,248.9L165.2,253.5Z" fill="#0020ff"/>
<path d="M175.0,251.4L172.2,249.7" stroke="#009fff" stroke-width="1.55" fill="none"/><path d="M166.0,245.9L173.7,247.1L170.6,252.2Z" fill="#009fff"/>
<path d="M182.7,251.4L176.7,250.8" stroke="#00efff" stroke-width="1.55" fill="none"/><path d="M169.5,250.2L176.9,247.8L176.4,253.8Z" fill="#00efff"/>
<path d="M190.3,251.4L192.1,245.1" stroke="#00ffff" stroke-width="1.55" fill="none"/><path d="M194.0,238.2L194.9,245.9L189.2,244.3Z" fill="#00ffff"/>
<path d="M198.0,251.4L205.7,239.8" stroke="#bfff40" stroke-width="1.55" fill="none"/><path d="M209.7,233.8L208.2,241.4L203.2,238.1Z" fill="#bfff40"/>
<path d="M205.7,251.4L214.7,236.0" stroke="#ffcf00" stroke-width="1.55" fill="none"/><path d="M218.4,229.8L217.3,237.5L212.2,234.5Z" fill="#ffcf00"/>
<path d="M213.4,251.4L227.6,229.5" stroke="#ef0000" stroke-width="1.55" fill="none"/><path d="M231.5,223.5L230.1,231.2L225.1,227.9Z" fill="#ef0000"/>
<path d="M221.0,251.4L239.5,218.1" stroke="#800000" stroke-width="1.55" fill="none"/><path d="M243.0,211.8L242.1,219.6L236.9,216.6Z" fill="#800000"/>
<path d="M228.7,251.4L245.7,220.2" stroke="#800000" stroke-width="1.55" fill="none"/><path d="M249.2,213.9L248.3,221.7L243.1,218.8Z" fill="#800000"/>
<path d="M236.4,251.4L256.0,217.4" stroke="#800000" stroke-width="1.55" fill="none"/><path d="M259.7,211.2L258.6,219.0L253.5,215.9Z" fill="#800000"/>
<path d="M244.0,251.4L261.5,223.1" stroke="#800000" stroke-width="1.55" fill="none"/><path d="M265.3,217.0L264.1,224.7L259.0,221.5Z" fill="#800000"/>
<path d="M167.3,259.0L166.2,258.5" stroke="#0070ff" stroke-width="1.55" fill="none"/><path d="M159.7,255.5L167.5,255.8L165.0,261.2Z" fill="#0070ff"/>
<path d="M175.0,259.0L172.4,261.2" stroke="#009fff" stroke-width="1.55" fill="none"/><path d="M166.8,265.8L170.4,258.9L174.3,263.5Z" fill="#009fff"/>
<path d="M182.7,259.0L178.5,256.8" stroke="#00cfff" stroke-width="1.55" fill="none"/><path d="M172.1,253.4L179.9,254.1L177.1,259.4Z" fill="#00cfff"/>
<path d="M190.3,259.0L186.1,251.1" stroke="#40ffbf" stroke-width="1.55" fill="none"/><path d="M182.7,244.7L188.7,249.6L183.4,252.5Z" fill="#40ffbf"/>
<path d="M198.0,259.0L201.3,244.9" stroke="#cfff30" stroke-width="1.55" fill="none"/><path d="M203.0,237.9L204.3,245.6L198.4,244.2Z" fill="#cfff30"/>
<path d="M205.7,259.0L216.1,242.8" stroke="#ffaf00" stroke-width="1.55" fill="none"/><path d="M220.0,236.8L218.7,244.5L213.6,241.2Z" fill="#ffaf00"/>
<path d="M213.4,259.0L226.2,236.6" stroke="#ff0000" stroke-width="1.55" fill="none"/><path d="M229.8,230.4L228.8,238.1L223.6,235.2Z" fill="#ff0000"/>
<path d="M221.0,259.0L245.6,224.8" stroke="#800000" stroke-width="1.55" fill="none"/><path d="M249.8,219.0L248.0,226.6L243.1,223.1Z" fill="#800000"/>
<path d="M228.7,259.0L247.9,228.2" stroke="#800000" stroke-width="1.55" fill="none"/><path d="M251.7,222.1L250.5,229.8L245.4,226.6Z" fill="#800000"/>
<path d="M236.4,259.0L255.9,232.8" stroke="#800000" stroke-width="1.55" fill="none"/><path d="M260.2,227.0L258.3,234.6L253.5,231.0Z" fill="#800000"/>
<path d="M244.0,259.0L267.6,228.8" stroke="#800000" stroke-width="1.55" fill="none"/><path d="M272.1,223.1L270.0,230.6L265.3,226.9Z" fill="#800000"/>
<path d="M251.7,259.0L272.9,231.8" stroke="#800000" stroke-width="1.55" fill="none"/><path d="M277.3,226.1L275.3,233.7L270.5,230.0Z" fill="#800000"/>
<path d="M167.3,266.7L167.4,267.4" stroke="#0060ff" stroke-width="1.55" fill="none"/><path d="M167.9,274.6L164.4,267.6L170.4,267.2Z" fill="#0060ff"/>
<path d="M175.0,266.7L170.7,264.5" stroke="#00cfff" stroke-width="1.55" fill="none"/><path d="M164.3,261.3L172.0,261.8L169.4,267.2Z" fill="#00cfff"/>
<path d="M182.7,266.7L182.1,270.2" stroke="#00afff" stroke-width="1.55" fill="none"/><path d="M180.8,277.3L179.1,269.7L185.0,270.7Z" fill="#00afff"/>
<path d="M190.3,266.7L186.6,260.4" stroke="#10ffef" stroke-width="1.55" fill="none"/><path d="M182.8,254.3L189.1,258.9L184.0,262.0Z" fill="#10ffef"/>
<path d="M198.0,266.7L203.7,255.4" stroke="#9fff60" stroke-width="1.55" fill="none"/><path d="M207.0,249.0L206.4,256.8L201.1,254.1Z" fill="#9fff60"/>
<path d="M205.7,266.7L214.9,251.7" stroke="#ffdf00" stroke-width="1.55" fill="none"/><path d="M218.7,245.6L217.5,253.3L212.4,250.1Z" fill="#ffdf00"/>
<path d="M213.4,266.7L225.9,244.4" stroke="#ff0000" stroke-width="1.55" fill="none"/><path d="M229.4,238.1L228.5,245.8L223.2,242.9Z" fill="#ff0000"/>
<path d="M221.0,266.7L240.9,231.3" stroke="#800000" stroke-width="1.55" fill="none"/><path d="M244.5,225.0L243.5,232.7L238.3,229.8Z" fill="#800000"/>
<path d="M228.7,266.7L248.7,233.6" stroke="#800000" stroke-width="1.55" fill="none"/><path d="M252.4,227.4L251.2,235.1L246.1,232.0Z" fill="#800000"/>
<path d="M236.4,266.7L258.6,235.2" stroke="#800000" stroke-width="1.55" fill="none"/><path d="M262.7,229.3L261.0,236.9L256.1,233.5Z" fill="#800000"/>
<path d="M244.0,266.7L265.4,234.4" stroke="#800000" stroke-width="1.55" fill="none"/><path d="M269.4,228.4L267.9,236.1L262.9,232.8Z" fill="#800000"/>
<path d="M251.7,266.7L271.4,236.1" stroke="#800000" stroke-width="1.55" fill="none"/><path d="M275.3,230.0L274.0,237.7L268.9,234.5Z" fill="#800000"/>
<path d="M259.4,266.7L275.5,237.7" stroke="#800000" stroke-width="1.55" fill="none"/><path d="M279.0,231.4L278.1,239.1L272.9,236.2Z" fill="#800000"/>
<path d="M162.0,279.8L164.9,272.5L169.2,276.7Z" fill="#0050ff"/>
<path d="M175.0,274.3L171.9,276.4" stroke="#00afff" stroke-width="1.55" fill="none"/><path d="M166.0,280.5L170.2,274.0L173.7,278.9Z" fill="#00afff"/>
<path d="M182.7,274.3L176.1,271.9" stroke="#00ffff" stroke-width="1.55" fill="none"/><path d="M169.3,269.5L177.1,269.1L175.0,274.8Z" fill="#00ffff"/>
<path d="M190.3,274.3L187.1,268.3" stroke="#00ffff" stroke-width="1.55" fill="none"/><path d="M183.6,262.0L189.7,266.9L184.4,269.8Z" fill="#00ffff"/>
<path d="M198.0,274.3L204.3,262.2" stroke="#bfff40" stroke-width="1.55" fill="none"/><path d="M207.6,255.8L206.9,263.6L201.6,260.8Z" fill="#bfff40"/>
<path d="M205.7,274.3L215.2,256.9" stroke="#ff9f00" stroke-width="1.55" fill="none"/><path d="M218.7,250.6L217.9,258.3L212.6,255.5Z" fill="#ff9f00"/>
<path d="M213.4,274.3L227.9,255.2" stroke="#ff3000" stroke-width="1.55" fill="none"/><path d="M232.2,249.4L230.2,257.0L225.5,253.3Z" fill="#ff3000"/>
<path d="M221.0,274.3L238.8,246.0" stroke="#800000" stroke-width="1.55" fill="none"/><path d="M242.6,239.9L241.3,247.6L236.2,244.4Z" fill="#800000"/>
<path d="M228.7,274.3L245.7,245.8" stroke="#800000" stroke-width="1.55" fill="none"/><path d="M249.4,239.7L248.3,247.4L243.1,244.3Z" fill="#800000"/>
<path d="M236.4,274.3L256.6,237.6" stroke="#800000" stroke-width="1.55" fill="none"/><path d="M260.1,231.3L259.3,239.0L254.0,236.1Z" fill="#800000"/>
<path d="M244.0,274.3L263.3,242.7" stroke="#800000" stroke-width="1.55" fill="none"/><path d="M267.0,236.6L265.8,244.3L260.7,241.1Z" fill="#800000"/>
<path d="M251.7,274.3L274.6,244.4" stroke="#800000" stroke-width="1.55" fill="none"/><path d="M279.0,238.7L277.0,246.2L272.2,242.6Z" fill="#800000"/>
<path d="M167.3,281.9L166.6,282.0" stroke="#0060ff" stroke-width="1.55" fill="none"/><path d="M159.4,282.1L166.5,279.0L166.7,285.0Z" fill="#0060ff"/>
<path d="M175.0,281.9L172.6,282.0" stroke="#008fff" stroke-width="1.55" fill="none"/><path d="M165.4,282.3L172.5,279.0L172.7,285.0Z" fill="#008fff"/>
<path d="M182.7,281.9L179.0,282.0" stroke="#00afff" stroke-width="1.55" fill="none"/><path d="M171.8,282.1L178.9,279.0L179.1,285.0Z" fill="#00afff"/>
<path d="M190.3,281.9L190.6,273.0" stroke="#40ffbf" stroke-width="1.55" fill="none"/><path d="M190.9,265.8L193.6,273.1L187.6,272.9Z" fill="#40ffbf"/>
<path d="M198.0,281.9L202.7,270.8" stroke="#8fff70" stroke-width="1.55" fill="none"/><path d="M205.5,264.2L205.5,272.0L200.0,269.6Z" fill="#8fff70"/>
<path d="M205.7,281.9L214.7,265.3" stroke="#ffbf00" stroke-width="1.55" fill="none"/><path d="M218.1,259.0L217.3,266.7L212.0,263.9Z" fill="#ffbf00"/>
<path d="M213.4,281.9L228.8,260.1" stroke="#df0000" stroke-width="1.55" fill="none"/><path d="M233.0,254.2L231.3,261.9L226.4,258.4Z" fill="#df0000"/>
<path d="M221.0,281.9L242.8,246.2" stroke="#800000" stroke-width="1.55" fill="none"/><path d="M246.6,240.1L245.4,247.8L240.3,244.7Z" fill="#800000"/>
<path d="M228.7,281.9L246.6,249.3" stroke="#800000" stroke-width="1.55" fill="none"/><path d="M250.1,243.0L249.2,250.8L244.0,247.9Z" fill="#800000"/>
<path d="M236.4,281.9L256.1,245.2" stroke="#800000" stroke-width="1.55" fill="none"/><path d="M259.5,238.9L258.8,246.7L253.5,243.8Z" fill="#800000"/>
<path d="M244.0,281.9L262.7,254.9" stroke="#800000" stroke-width="1.55" fill="none"/><path d="M266.8,249.0L265.2,256.6L260.2,253.2Z" fill="#800000"/>
<path d="M251.7,281.9L267.5,253.2" stroke="#800000" stroke-width="1.55" fill="none"/><path d="M270.9,246.8L270.1,254.6L264.8,251.7Z" fill="#800000"/>
<path d="M259.4,281.9L276.6,252.8" stroke="#800000" stroke-width="1.55" fill="none"/><path d="M280.2,246.6L279.1,254.4L274.0,251.3Z" fill="#800000"/>
<path d="M153.7,294.0L157.6,287.3L161.2,292.1Z" fill="#0000ff"/>
<path d="M167.3,289.6L166.9,290.8" stroke="#0070ff" stroke-width="1.55" fill="none"/><path d="M164.8,297.7L164.1,289.9L169.8,291.7Z" fill="#0070ff"/>
<path d="M175.0,289.6L175.2,292.4" stroke="#008fff" stroke-width="1.55" fill="none"/><path d="M175.9,299.5L172.3,292.6L178.2,292.1Z" fill="#008fff"/>
<path d="M182.7,289.6L180.5,283.5" stroke="#00efff" stroke-width="1.55" fill="none"/><path d="M178.1,276.7L183.4,282.5L177.7,284.5Z" fill="#00efff"/>
<path d="M190.3,289.6L187.8,283.6" stroke="#00ffff" stroke-width="1.55" fill="none"/><path d="M184.9,277.0L190.5,282.4L185.0,284.8Z" fill="#00ffff"/>
<path d="M198.0,289.6L203.9,276.4" stroke="#cfff30" stroke-width="1.55" fill="none"/><path d="M206.8,269.8L206.6,277.6L201.1,275.1Z" fill="#cfff30"/>
<path d="M205.7,289.6L217.7,273.8" stroke="#ff9f00" stroke-width="1.55" fill="none"/><path d="M222.0,268.0L220.1,275.6L215.3,272.0Z" fill="#ff9f00"/>
<path d="M213.4,289.6L224.7,268.2" stroke="#ff3000" stroke-width="1.55" fill="none"/><path d="M228.1,261.9L227.4,269.7L222.1,266.8Z" fill="#ff3000"/>
<path d="M221.0,289.6L240.6,255.7" stroke="#800000" stroke-width="1.55" fill="none"/><path d="M244.2,249.4L243.2,257.2L238.0,254.2Z" fill="#800000"/>
<path d="M228.7,289.6L252.1,255.6" stroke="#800000" stroke-width="1.55" fill="none"/><path d="M256.2,249.6L254.6,257.3L249.7,253.9Z" fill="#800000"/>
<path d="M236.4,289.6L257.7,254.4" stroke="#800000" stroke-width="1.55" fill="none"/><path d="M261.5,248.2L260.3,255.9L255.2,252.8Z" fill="#800000"/>
<path d="M244.0,289.6L262.5,260.3" stroke="#800000" stroke-width="1.55" fill="none"/><path d="M266.4,254.2L265.1,261.9L260.0,258.7Z" fill="#800000"/>
<path d="M251.7,289.6L276.5,256.4" stroke="#800000" stroke-width="1.55" fill="none"/><path d="M280.8,250.7L278.9,258.2L274.1,254.6Z" fill="#800000"/>
<path d="M154.3,302.5L157.3,295.3L161.6,299.5Z" fill="#0000ff"/>
<path d="M160.8,293.5L168.6,294.4L165.6,299.6Z" fill="#0030ff"/>
<path d="M175.0,297.2L170.9,296.3" stroke="#00bfff" stroke-width="1.55" fill="none"/><path d="M163.9,294.7L171.5,293.3L170.2,299.2Z" fill="#00bfff"/>
<path d="M182.7,297.2L186.9,291.4" stroke="#10ffef" stroke-width="1.55" fill="none"/><path d="M191.2,285.6L189.3,293.1L184.5,289.6Z" fill="#10ffef"/>
<path d="M190.3,297.2L184.1,295.1" stroke="#00ffff" stroke-width="1.55" fill="none"/><path d="M177.3,292.8L185.1,292.2L183.2,297.9Z" fill="#00ffff"/>
<path d="M198.0,297.2L202.8,285.5" stroke="#9fff60" stroke-width="1.55" fill="none"/><path d="M205.5,278.8L205.5,286.6L200.0,284.4Z" fill="#9fff60"/>
<path d="M205.7,297.2L216.5,280.5" stroke="#ff9f00" stroke-width="1.55" fill="none"/><path d="M220.4,274.5L219.0,282.1L214.0,278.9Z" fill="#ff9f00"/>
<path d="M213.4,297.2L227.8,277.6" stroke="#ff2000" stroke-width="1.55" fill="none"/><path d="M232.1,271.8L230.2,279.3L225.4,275.8Z" fill="#ff2000"/>
<path d="M221.0,297.2L238.8,264.8" stroke="#800000" stroke-width="1.55" fill="none"/><path d="M242.3,258.4L241.4,266.2L236.2,263.3Z" fill="#800000"/>
<path d="M228.7,297.2L248.2,261.1" stroke="#800000" stroke-width="1.55" fill="none"/><path d="M251.6,254.8L250.8,262.6L245.6,259.7Z" fill="#800000"/>
<path d="M236.4,297.2L256.0,264.5" stroke="#800000" stroke-width="1.55" fill="none"/><path d="M259.8,258.4L258.6,266.1L253.5,263.0Z" fill="#800000"/>
<path d="M244.0,297.2L260.2,268.5" stroke="#800000" stroke-width="1.55" fill="none"/><path d="M263.7,262.3L262.8,270.0L257.5,267.1Z" fill="#800000"/>
<path d="M251.7,297.2L271.2,270.6" stroke="#800000" stroke-width="1.55" fill="none"/><path d="M275.5,264.8L273.6,272.4L268.8,268.9Z" fill="#800000"/>
<path d="M259.4,297.2L275.6,267.3" stroke="#800000" stroke-width="1.55" fill="none"/><path d="M279.0,260.9L278.2,268.7L273.0,265.8Z" fill="#800000"/>
<path d="M267.0,297.2L287.9,266.7" stroke="#800000" stroke-width="1.55" fill="none"/><path d="M291.9,260.7L290.3,268.4L285.4,265.0Z" fill="#800000"/>
<path d="M152.2,305.1L159.2,301.8L159.5,307.8Z" fill="#0020ff"/>
<path d="M167.3,304.8L166.6,304.0" stroke="#0060ff" stroke-width="1.55" fill="none"/><path d="M161.9,298.5L168.9,302.0L164.3,305.9Z" fill="#0060ff"/>
<path d="M175.0,304.8L173.1,304.3" stroke="#0080ff" stroke-width="1.55" fill="none"/><path d="M166.1,302.4L173.8,301.4L172.3,307.2Z" fill="#0080ff"/>
<path d="M182.7,304.8L180.2,299.8" stroke="#00dfff" stroke-width="1.55" fill="none"/><path d="M177.0,293.3L182.9,298.4L177.5,301.1Z" fill="#00dfff"/>
<path d="M190.3,304.8L193.0,298.2" stroke="#10ffef" stroke-width="1.55" fill="none"/><path d="M195.7,291.5L195.8,299.3L190.2,297.0Z" fill="#10ffef"/>
<path d="M198.0,304.8L204.3,290.7" stroke="#efff10" stroke-width="1.55" fill="none"/><path d="M207.2,284.2L207.0,292.0L201.5,289.5Z" fill="#efff10"/>
<path d="M205.7,304.8L216.2,286.3" stroke="#ff8000" stroke-width="1.55" fill="none"/><path d="M219.8,280.0L218.8,287.8L213.6,284.8Z" fill="#ff8000"/>
<path d="M213.4,304.8L228.5,283.2" stroke="#ef0000" stroke-width="1.55" fill="none"/><path d="M232.6,277.3L231.0,284.9L226.1,281.4Z" fill="#ef0000"/>
<path d="M221.0,304.8L243.0,275.6" stroke="#800000" stroke-width="1.55" fill="none"/><path d="M247.3,269.8L245.4,277.4L240.6,273.8Z" fill="#800000"/>
<path d="M228.7,304.8L247.2,272.8" stroke="#800000" stroke-width="1.55" fill="none"/><path d="M250.8,266.5L249.8,274.3L244.6,271.3Z" fill="#800000"/>
<path d="M236.4,304.8L254.4,277.5" stroke="#800000" stroke-width="1.55" fill="none"/><path d="M258.4,271.5L257.0,279.1L251.9,275.8Z" fill="#800000"/>
<path d="M244.0,304.8L266.2,274.6" stroke="#800000" stroke-width="1.55" fill="none"/><path d="M270.4,268.8L268.6,276.3L263.7,272.8Z" fill="#800000"/>
<path d="M259.4,304.8L281.3,276.5" stroke="#800000" stroke-width="1.55" fill="none"/><path d="M285.7,270.8L283.7,278.4L279.0,274.7Z" fill="#800000"/>
<path d="M152.5,314.6L158.5,309.7L160.3,315.4Z" fill="#0000ff"/>
<path d="M167.3,312.4L166.0,311.7" stroke="#0070ff" stroke-width="1.55" fill="none"/><path d="M159.7,308.2L167.4,309.1L164.5,314.3Z" fill="#0070ff"/>
<path d="M175.0,312.4L173.1,314.3" stroke="#008fff" stroke-width="1.55" fill="none"/><path d="M167.9,319.3L171.0,312.2L175.2,316.5Z" fill="#008fff"/>
<path d="M182.7,312.4L180.9,306.8" stroke="#00efff" stroke-width="1.55" fill="none"/><path d="M178.7,299.9L183.7,305.9L178.0,307.7Z" fill="#00efff"/>
<path d="M190.3,312.4L184.7,310.1" stroke="#00efff" stroke-width="1.55" fill="none"/><path d="M178.0,307.4L185.8,307.4L183.6,312.9Z" fill="#00efff"/>
<path d="M198.0,312.4L202.1,300.6" stroke="#9fff60" stroke-width="1.55" fill="none"/><path d="M204.5,293.8L204.9,301.6L199.3,299.6Z" fill="#9fff60"/>
<path d="M205.7,312.4L215.8,295.0" stroke="#ff8f00" stroke-width="1.55" fill="none"/><path d="M219.4,288.8L218.4,296.5L213.2,293.5Z" fill="#ff8f00"/>
<path d="M213.4,312.4L227.1,290.8" stroke="#ff0000" stroke-width="1.55" fill="none"/><path d="M230.9,284.7L229.6,292.4L224.5,289.2Z" fill="#ff0000"/>
<path d="M221.0,312.4L242.6,281.4" stroke="#800000" stroke-width="1.55" fill="none"/><path d="M246.7,275.5L245.1,283.2L240.2,279.7Z" fill="#800000"/>
<path d="M228.7,312.4L251.6,283.1" stroke="#800000" stroke-width="1.55" fill="none"/><path d="M256.0,277.5L253.9,285.0L249.2,281.3Z" fill="#800000"/>
<path d="M236.4,312.4L257.8,281.5" stroke="#800000" stroke-width="1.55" fill="none"/><path d="M261.9,275.6L260.3,283.2L255.4,279.8Z" fill="#800000"/>
<path d="M244.0,312.4L266.9,278.3" stroke="#800000" stroke-width="1.55" fill="none"/><path d="M270.9,272.3L269.4,280.0L264.4,276.6Z" fill="#800000"/>
<path d="M259.4,312.4L280.8,278.7" stroke="#800000" stroke-width="1.55" fill="none"/><path d="M284.6,272.7L283.3,280.3L278.2,277.1Z" fill="#800000"/>
<path d="M267.0,312.4L289.5,278.6" stroke="#800000" stroke-width="1.55" fill="none"/><path d="M293.5,272.6L292.0,280.3L287.0,277.0Z" fill="#800000"/>
<path d="M175.0,320.0L174.4,320.7" stroke="#0060ff" stroke-width="1.55" fill="none"/><path d="M169.7,326.2L172.1,318.8L176.7,322.7Z" fill="#0060ff"/>
<path d="M182.7,320.0L178.0,321.7" stroke="#00cfff" stroke-width="1.55" fill="none"/><path d="M171.2,324.1L177.0,318.9L179.0,324.5Z" fill="#00cfff"/>
<path d="M190.3,320.0L189.6,311.1" stroke="#40ffbf" stroke-width="1.55" fill="none"/><path d="M189.0,303.9L192.6,310.8L186.6,311.3Z" fill="#40ffbf"/>
<path d="M198.0,320.0L205.5,309.0" stroke="#afff50" stroke-width="1.55" fill="none"/><path d="M209.6,303.1L208.0,310.7L203.0,307.3Z" fill="#afff50"/>
<path d="M205.7,320.0L215.6,305.3" stroke="#ffcf00" stroke-width="1.55" fill="none"/><path d="M219.6,299.3L218.1,306.9L213.1,303.6Z" fill="#ffcf00"/>
<path d="M213.4,320.0L225.6,301.5" stroke="#ff6000" stroke-width="1.55" fill="none"/><path d="M229.6,295.4L228.1,303.1L223.1,299.8Z" fill="#ff6000"/>
<path d="M221.0,320.0L239.2,286.2" stroke="#800000" stroke-width="1.55" fill="none"/><path d="M242.7,279.8L241.9,287.6L236.6,284.8Z" fill="#800000"/>
<path d="M228.7,320.0L248.6,288.2" stroke="#800000" stroke-width="1.55" fill="none"/><path d="M252.4,282.1L251.2,289.7L246.1,286.6Z" fill="#800000"/>
<path d="M236.4,320.0L257.0,288.1" stroke="#800000" stroke-width="1.55" fill="none"/><path d="M260.9,282.1L259.6,289.7L254.5,286.5Z" fill="#800000"/>
<path d="M244.0,320.0L262.4,292.2" stroke="#800000" stroke-width="1.55" fill="none"/><path d="M266.3,286.2L264.9,293.9L259.9,290.6Z" fill="#800000"/>
<path d="M161.3,323.2L168.9,325.0L165.3,329.9Z" fill="#0030ff"/>
<path d="M175.0,327.6L173.4,327.1" stroke="#0070ff" stroke-width="1.55" fill="none"/><path d="M166.7,324.5L174.5,324.2L172.4,329.9Z" fill="#0070ff"/>
<path d="M182.7,327.6L177.7,324.6" stroke="#00efff" stroke-width="1.55" fill="none"/><path d="M171.5,320.9L179.2,322.0L176.1,327.2Z" fill="#00efff"/>
<path d="M190.3,327.6L186.0,324.5" stroke="#00dfff" stroke-width="1.55" fill="none"/><path d="M180.1,320.3L187.7,322.0L184.2,326.9Z" fill="#00dfff"/>
<path d="M198.0,327.6L201.5,315.4" stroke="#9fff60" stroke-width="1.55" fill="none"/><path d="M203.5,308.5L204.4,316.2L198.6,314.6Z" fill="#9fff60"/>
<path d="M205.7,327.6L214.1,311.9" stroke="#ffcf00" stroke-width="1.55" fill="none"/><path d="M217.6,305.5L216.8,313.3L211.5,310.5Z" fill="#ffcf00"/>
<path d="M213.4,327.6L224.1,309.2" stroke="#ff7000" stroke-width="1.55" fill="none"/><path d="M227.8,303.0L226.7,310.7L221.5,307.7Z" fill="#ff7000"/>
<path d="M221.0,327.6L236.0,302.9" stroke="#af0000" stroke-width="1.55" fill="none"/><path d="M239.8,296.7L238.6,304.5L233.5,301.3Z" fill="#af0000"/>
<path d="M228.7,327.6L247.4,293.9" stroke="#800000" stroke-width="1.55" fill="none"/><path d="M250.9,287.6L250.1,295.4L244.8,292.5Z" fill="#800000"/>
<path d="M236.4,327.6L254.9,299.3" stroke="#800000" stroke-width="1.55" fill="none"/><path d="M258.8,293.2L257.4,300.9L252.3,297.6Z" fill="#800000"/>
<path d="M244.0,327.6L263.0,298.7" stroke="#800000" stroke-width="1.55" fill="none"/><path d="M267.0,292.7L265.5,300.4L260.5,297.1Z" fill="#800000"/>
<path d="M163.4,328.9L169.7,333.4L164.6,336.6Z" fill="#0020ff"/>
<path d="M175.0,335.3L175.0,337.9" stroke="#008fff" stroke-width="1.55" fill="none"/><path d="M175.1,345.1L172.0,337.9L178.0,337.9Z" fill="#008fff"/>
<path d="M182.7,335.3L181.3,337.8" stroke="#008fff" stroke-width="1.55" fill="none"/><path d="M177.9,344.1L178.7,336.3L184.0,339.2Z" fill="#008fff"/>
<path d="M190.3,335.3L192.1,328.9" stroke="#00ffff" stroke-width="1.55" fill="none"/><path d="M194.1,321.9L195.0,329.7L189.2,328.1Z" fill="#00ffff"/>
<path d="M198.0,335.3L201.6,324.2" stroke="#80ff80" stroke-width="1.55" fill="none"/><path d="M203.9,317.3L204.5,325.1L198.8,323.3Z" fill="#80ff80"/>
<path d="M205.7,335.3L215.6,321.6" stroke="#ffef00" stroke-width="1.55" fill="none"/><path d="M219.9,315.8L218.1,323.4L213.2,319.8Z" fill="#ffef00"/>
<path d="M213.4,335.3L225.4,315.4" stroke="#ff4000" stroke-width="1.55" fill="none"/><path d="M229.1,309.2L227.9,316.9L222.8,313.8Z" fill="#ff4000"/>
<path d="M221.0,335.3L237.2,314.0" stroke="#df0000" stroke-width="1.55" fill="none"/><path d="M241.5,308.3L239.6,315.8L234.8,312.2Z" fill="#df0000"/>
<path d="M228.7,335.3L254.0,301.5" stroke="#800000" stroke-width="1.55" fill="none"/><path d="M258.3,295.7L256.4,303.3L251.6,299.7Z" fill="#800000"/>
<path d="M236.4,335.3L256.6,306.7" stroke="#800000" stroke-width="1.55" fill="none"/><path d="M260.7,300.8L259.0,308.4L254.1,305.0Z" fill="#800000"/>
<path d="M244.0,335.3L263.9,308.2" stroke="#800000" stroke-width="1.55" fill="none"/><path d="M268.2,302.4L266.4,309.9L261.5,306.4Z" fill="#800000"/>
<path d="M160.0,341.3L167.7,339.9L166.4,345.7Z" fill="#0020ff"/>
<path d="M175.0,342.8L173.6,343.5" stroke="#0070ff" stroke-width="1.55" fill="none"/><path d="M167.1,346.4L172.4,340.7L174.8,346.2Z" fill="#0070ff"/>
<path d="M182.7,342.8L178.8,343.2" stroke="#00afff" stroke-width="1.55" fill="none"/><path d="M171.7,343.9L178.6,340.2L179.1,346.2Z" fill="#00afff"/>
<path d="M190.3,342.8L190.4,334.9" stroke="#20ffdf" stroke-width="1.55" fill="none"/><path d="M190.4,327.7L193.4,335.0L187.4,334.9Z" fill="#20ffdf"/>
<path d="M198.0,342.8L201.5,333.5" stroke="#50ffaf" stroke-width="1.55" fill="none"/><path d="M204.0,326.8L204.3,334.6L198.7,332.5Z" fill="#50ffaf"/>
<path d="M205.7,342.8L215.8,329.1" stroke="#ffef00" stroke-width="1.55" fill="none"/><path d="M220.0,323.3L218.2,330.9L213.4,327.4Z" fill="#ffef00"/>
<path d="M213.4,342.8L225.3,324.4" stroke="#ff6000" stroke-width="1.55" fill="none"/><path d="M229.2,318.3L227.8,326.0L222.7,322.8Z" fill="#ff6000"/>
<path d="M221.0,342.8L235.4,322.8" stroke="#ff2000" stroke-width="1.55" fill="none"/><path d="M239.6,316.9L237.9,324.5L233.0,321.0Z" fill="#ff2000"/>
<path d="M228.7,342.8L251.1,308.1" stroke="#800000" stroke-width="1.55" fill="none"/><path d="M255.0,302.1L253.6,309.8L248.6,306.5Z" fill="#800000"/>
<path d="M236.4,342.8L253.1,313.5" stroke="#800000" stroke-width="1.55" fill="none"/><path d="M256.7,307.2L255.7,315.0L250.5,312.0Z" fill="#800000"/>
<path d="M244.0,342.8L264.2,313.8" stroke="#800000" stroke-width="1.55" fill="none"/><path d="M268.3,307.8L266.7,315.5L261.7,312.1Z" fill="#800000"/>
<path d="M163.3,344.1L169.7,348.6L164.7,351.8Z" fill="#0020ff"/>
<path d="M175.0,350.4L174.5,350.5" stroke="#0050ff" stroke-width="1.55" fill="none"/><path d="M167.4,351.8L174.0,347.6L175.0,353.5Z" fill="#0050ff"/>
<path d="M182.7,350.4L182.1,353.5" stroke="#009fff" stroke-width="1.55" fill="none"/><path d="M180.7,360.5L179.1,352.9L185.0,354.0Z" fill="#009fff"/>
<path d="M190.3,350.4L188.0,354.4" stroke="#00bfff" stroke-width="1.55" fill="none"/><path d="M184.3,360.6L185.4,352.9L190.5,356.0Z" fill="#00bfff"/>
<path d="M198.0,350.4L191.3,343.9" stroke="#40ffbf" stroke-width="1.55" fill="none"/><path d="M186.1,338.9L193.4,341.8L189.2,346.1Z" fill="#40ffbf"/>
<path d="M205.7,350.4L212.6,338.1" stroke="#bfff40" stroke-width="1.55" fill="none"/><path d="M216.1,331.9L215.2,339.6L210.0,336.7Z" fill="#bfff40"/>
<path d="M213.4,350.4L223.1,333.4" stroke="#ff9f00" stroke-width="1.55" fill="none"/><path d="M226.7,327.2L225.7,334.9L220.5,332.0Z" fill="#ff9f00"/>
<path d="M221.0,350.4L234.4,330.0" stroke="#ff2000" stroke-width="1.55" fill="none"/><path d="M238.3,324.0L236.9,331.6L231.8,328.4Z" fill="#ff2000"/>
<path d="M228.7,350.4L252.9,317.1" stroke="#800000" stroke-width="1.55" fill="none"/><path d="M257.1,311.3L255.3,318.9L250.5,315.4Z" fill="#800000"/>
<path d="M236.4,350.4L259.4,316.7" stroke="#800000" stroke-width="1.55" fill="none"/><path d="M263.5,310.7L261.9,318.4L256.9,315.0Z" fill="#800000"/>
<path d="M244.0,350.4L265.0,318.3" stroke="#800000" stroke-width="1.55" fill="none"/><path d="M268.9,312.2L267.5,319.9L262.5,316.6Z" fill="#800000"/>
<path d="M154.2,363.2L157.4,356.0L161.5,360.4Z" fill="#0000ff"/>
<path d="M162.4,352.4L169.4,355.8L164.9,359.8Z" fill="#0000ff"/>
<path d="M167.6,359.0L174.3,355.1L175.1,361.0Z" fill="#0040ff"/>
<path d="M182.7,358.0L181.2,354.8" stroke="#00afff" stroke-width="1.55" fill="none"/><path d="M178.3,348.2L184.0,353.6L178.5,356.0Z" fill="#00afff"/>
<path d="M190.3,358.0L186.4,354.9" stroke="#00cfff" stroke-width="1.55" fill="none"/><path d="M180.8,350.4L188.3,352.6L184.6,357.3Z" fill="#00cfff"/>
<path d="M198.0,358.0L190.8,356.8" stroke="#10ffef" stroke-width="1.55" fill="none"/><path d="M183.7,355.5L191.3,353.8L190.3,359.7Z" fill="#10ffef"/>
<path d="M205.7,358.0L214.2,345.8" stroke="#dfff20" stroke-width="1.55" fill="none"/><path d="M218.3,339.9L216.6,347.5L211.7,344.1Z" fill="#dfff20"/>
<path d="M213.4,358.0L223.2,339.9" stroke="#ff8f00" stroke-width="1.55" fill="none"/><path d="M226.6,333.6L225.8,341.3L220.6,338.5Z" fill="#ff8f00"/>
<path d="M221.0,358.0L235.6,339.1" stroke="#ff3000" stroke-width="1.55" fill="none"/><path d="M240.0,333.3L238.0,340.9L233.3,337.2Z" fill="#ff3000"/>
<path d="M228.7,358.0L247.1,328.6" stroke="#800000" stroke-width="1.55" fill="none"/><path d="M251.0,322.5L249.7,330.2L244.6,327.0Z" fill="#800000"/>
<path d="M236.4,358.0L254.6,330.0" stroke="#800000" stroke-width="1.55" fill="none"/><path d="M258.6,324.0L257.2,331.7L252.1,328.4Z" fill="#800000"/>
<path d="M154.1,360.6L161.5,363.2L157.4,367.6Z" fill="#0000ff"/>
<path d="M168.5,373.0L164.4,366.4L170.3,365.5Z" fill="#0020ff"/>
<path d="M198.0,365.6L192.7,359.7" stroke="#20ffdf" stroke-width="1.55" fill="none"/><path d="M187.8,354.4L194.9,357.7L190.4,361.7Z" fill="#20ffdf"/>
<path d="M205.7,365.6L208.7,353.8" stroke="#8fff70" stroke-width="1.55" fill="none"/><path d="M210.4,346.8L211.6,354.5L205.7,353.1Z" fill="#8fff70"/>
<path d="M213.4,365.6L222.4,351.1" stroke="#ffef00" stroke-width="1.55" fill="none"/><path d="M226.1,344.9L224.9,352.6L219.8,349.5Z" fill="#ffef00"/>
<path d="M221.0,365.6L232.4,346.3" stroke="#ff6000" stroke-width="1.55" fill="none"/><path d="M236.1,340.1L235.0,347.8L229.8,344.8Z" fill="#ff6000"/>
<path d="M228.7,365.6L249.4,333.8" stroke="#800000" stroke-width="1.55" fill="none"/><path d="M253.3,327.8L251.9,335.5L246.9,332.2Z" fill="#800000"/>
<path d="M236.4,365.6L259.8,335.6" stroke="#800000" stroke-width="1.55" fill="none"/><path d="M264.2,329.9L262.2,337.4L257.4,333.7Z" fill="#800000"/>
<path d="M144.5,372.8L151.9,370.2L151.5,376.2Z" fill="#0000ff"/>
<path d="M152.2,374.1L159.0,370.2L159.7,376.2Z" fill="#0000ff"/>
<path d="M162.3,367.6L169.4,371.0L164.9,375.0Z" fill="#0030ff"/>
<path d="M170.4,367.2L177.2,371.1L172.4,374.8Z" fill="#0020ff"/>
<path d="M198.0,373.2L193.2,366.9" stroke="#20ffdf" stroke-width="1.55" fill="none"/><path d="M188.8,361.2L195.6,365.1L190.8,368.8Z" fill="#20ffdf"/>
<path d="M205.7,373.2L210.8,362.0" stroke="#8fff70" stroke-width="1.55" fill="none"/><path d="M213.8,355.5L213.5,363.3L208.1,360.8Z" fill="#8fff70"/>
<path d="M213.4,373.2L223.1,357.3" stroke="#ffbf00" stroke-width="1.55" fill="none"/><path d="M226.9,351.2L225.7,358.9L220.6,355.8Z" fill="#ffbf00"/>
<path d="M228.7,373.2L250.2,340.8" stroke="#800000" stroke-width="1.55" fill="none"/><path d="M254.2,334.8L252.7,342.4L247.7,339.1Z" fill="#800000"/>
<path d="M236.4,373.2L256.7,339.3" stroke="#800000" stroke-width="1.55" fill="none"/><path d="M260.4,333.1L259.3,340.9L254.1,337.8Z" fill="#800000"/>
<path d="M153.5,376.4L161.1,378.1L157.7,383.0Z" fill="#0000ff"/>
<path d="M164.2,373.9L169.9,379.2L164.5,381.7Z" fill="#0010ff"/>
<path d="M167.8,382.7L173.9,377.9L175.5,383.7Z" fill="#0040ff"/>
<path d="M182.7,380.8L189.2,371.0" stroke="#80ff80" stroke-width="1.55" fill="none"/><path d="M193.2,365.0L191.7,372.7L186.7,369.4Z" fill="#80ff80"/>
<path d="M205.7,380.8L209.9,370.6" stroke="#70ff8f" stroke-width="1.55" fill="none"/><path d="M212.6,363.9L212.7,371.7L207.1,369.4Z" fill="#70ff8f"/>
<path d="M213.4,380.8L217.0,369.8" stroke="#80ff80" stroke-width="1.55" fill="none"/><path d="M219.3,362.9L219.8,370.7L214.2,368.8Z" fill="#80ff80"/>
<path d="M221.0,380.8L226.5,370.9" stroke="#80ff80" stroke-width="1.55" fill="none"/><path d="M230.0,364.6L229.1,372.3L223.8,369.4Z" fill="#80ff80"/>
<path d="M207.4,233.5L204.3,211.3" stroke="#800000" stroke-width="1.55" fill="none"/><path d="M203.3,204.1L207.2,210.9L201.3,211.7Z" fill="#800000"/>
<path d="M219.7,235.3L220.8,214.0" stroke="#800000" stroke-width="1.55" fill="none"/><path d="M221.2,206.8L223.8,214.2L217.8,213.9Z" fill="#800000"/>
<path d="M230.4,230.3L233.8,214.3" stroke="#800000" stroke-width="1.55" fill="none"/><path d="M235.3,207.3L236.7,214.9L230.9,213.7Z" fill="#800000"/>
<path d="M227.0,233.0L200.2,214.2" stroke="#800000" stroke-width="1.55" fill="none"/><path d="M194.3,210.1L201.9,211.8L198.5,216.7Z" fill="#800000"/>
<path d="M218.0,236.0L191.9,219.7" stroke="#800000" stroke-width="1.55" fill="none"/><path d="M185.8,215.9L193.5,217.1L190.3,222.2Z" fill="#800000"/>
<path d="M210.0,240.0L184.5,226.4" stroke="#800000" stroke-width="1.55" fill="none"/><path d="M178.1,223.1L185.9,223.8L183.1,229.1Z" fill="#800000"/>
<path d="M238.0,236.0L217.3,218.6" stroke="#800000" stroke-width="1.55" fill="none"/><path d="M211.8,214.0L219.2,216.3L215.4,220.9Z" fill="#800000"/>
<use href="#sites"/>
</g></g>
<rect x="75.0" y="142.5" width="348" height="427" fill="none" stroke="#111" stroke-width="1.3"/>
<text x="67.1" y="149.9" font-size="20.8" text-anchor="end" fill="#000">37°N</text>
<text x="67.1" y="294.0" font-size="20.8" text-anchor="end" fill="#000">36°N</text>
<text x="67.1" y="436.3" font-size="20.8" text-anchor="end" fill="#000">35°N</text>
<text x="67.1" y="576.9" font-size="20.8" text-anchor="end" fill="#000">34°N</text>
<text x="69.4" y="221.6" font-size="16.7" text-anchor="end" fill="#000">30'</text>
<text x="69.4" y="364.8" font-size="16.7" text-anchor="end" fill="#000">30'</text>
<text x="69.4" y="506.2" font-size="16.7" text-anchor="end" fill="#000">30'</text>
<text x="76.8" y="591.0" font-size="20.8" text-anchor="middle" fill="#000">77°W</text>
<text x="131.7" y="587.1" font-size="16.7" text-anchor="middle" fill="#000">30'</text>
<text x="192.8" y="591.0" font-size="20.8" text-anchor="middle" fill="#000">76°W</text>
<text x="247.7" y="587.1" font-size="16.7" text-anchor="middle" fill="#000">30'</text>
<text x="308.8" y="591.0" font-size="20.8" text-anchor="middle" fill="#000">75°W</text>
<text x="363.7" y="587.1" font-size="16.7" text-anchor="middle" fill="#000">30'</text>
<text x="424.8" y="591.0" font-size="20.8" text-anchor="middle" fill="#000">74°W</text>
<rect x="85.3" y="158.5" width="112.0" height="25.0" fill="url(#jet)" stroke="#262626" stroke-width="1"/>
<text x="387.0" y="206.5" font-size="20.8" text-anchor="middle" fill="#000">50 cm/s</text>
<text x="388.0" y="244.3" font-size="20.8" text-anchor="middle" fill="#000">10 km</text>
<path d="M381.5,251.0H395.0" stroke="#000" stroke-width="3.2" stroke-linecap="round"/>
<text x="141.0" y="115.0" font-size="20.8" text-anchor="middle" fill="#262626">cm/s</text>
<text x="248.3" y="129.7" font-size="25.0" text-anchor="middle" font-weight="bold" fill="#000">2023-05-05 13:00</text>
<text x="85.3" y="143.6" font-size="18.8" text-anchor="middle" fill="#262626">0</text>
<text x="96.5" y="143.6" font-size="18.8" text-anchor="middle" fill="#262626">10</text>
<text x="107.7" y="143.6" font-size="18.8" text-anchor="middle" fill="#262626">20</text>
<text x="118.9" y="143.6" font-size="18.8" text-anchor="middle" fill="#262626">30</text>
<text x="130.1" y="143.6" font-size="18.8" text-anchor="middle" fill="#262626">40</text>
<text x="141.3" y="143.6" font-size="18.8" text-anchor="middle" fill="#262626">50</text>
<text x="152.5" y="143.6" font-size="18.8" text-anchor="middle" fill="#262626">60</text>
<text x="163.7" y="143.6" font-size="18.8" text-anchor="middle" fill="#262626">70</text>
<text x="174.9" y="143.6" font-size="18.8" text-anchor="middle" fill="#262626">80</text>
<text x="186.1" y="143.6" font-size="18.8" text-anchor="middle" fill="#262626">90</text>
<text x="197.3" y="143.6" font-size="18.8" text-anchor="middle" fill="#262626">100</text>
<text x="85.3" y="143.6" font-size="18.8" text-anchor="middle" fill="#262626">0</text>
<text x="104.0" y="143.6" font-size="18.8" text-anchor="middle" fill="#262626">20</text>
<text x="122.7" y="143.6" font-size="18.8" text-anchor="middle" fill="#262626">40</text>
<text x="141.4" y="143.6" font-size="18.8" text-anchor="middle" fill="#262626">60</text>
<text x="160.1" y="143.6" font-size="18.8" text-anchor="middle" fill="#262626">80</text>
<text x="178.8" y="143.6" font-size="18.8" text-anchor="middle" fill="#262626">100</text>
<text x="197.5" y="143.6" font-size="18.8" text-anchor="middle" fill="#262626">120</text>
<text x="85.3" y="143.6" font-size="18.8" text-anchor="middle" fill="#262626">0</text>
<text x="113.3" y="143.6" font-size="18.8" text-anchor="middle" fill="#262626">0.5</text>
<text x="141.3" y="143.6" font-size="18.8" text-anchor="middle" fill="#262626">1</text>
<text x="169.3" y="143.6" font-size="18.8" text-anchor="middle" fill="#262626">1.5</text>
<text x="197.3" y="143.6" font-size="18.8" text-anchor="middle" fill="#262626">2</text>
<text x="85.3" y="143.6" font-size="18.8" text-anchor="middle" fill="#262626">0</text>
<text x="99.3" y="143.6" font-size="18.8" text-anchor="middle" fill="#262626">5</text>
<text x="113.3" y="143.6" font-size="18.8" text-anchor="middle" fill="#262626">10</text>
<text x="127.3" y="143.6" font-size="18.8" text-anchor="middle" fill="#262626">15</text>
<text x="141.3" y="143.6" font-size="18.8" text-anchor="middle" fill="#262626">20</text>
<text x="155.3" y="143.6" font-size="18.8" text-anchor="middle" fill="#262626">25</text>
<text x="169.3" y="143.6" font-size="18.8" text-anchor="middle" fill="#262626">30</text>
<text x="183.3" y="143.6" font-size="18.8" text-anchor="middle" fill="#262626">35</text>
<text x="197.3" y="143.6" font-size="18.8" text-anchor="middle" fill="#262626">40</text>
<g transform="translate(458.6,142.5)"><g clip-path="url(#ax)">
<use href="#land"/><use href="#grid"/><use href="#ticks"/>
<g shape-rendering="crispEdges"><path fill="#efff10" d="M209.5,170.7H217.2V178.4H209.5ZM217.2,193.8H224.9V201.5H217.2ZM224.9,216.9H232.5V224.5H224.9Z"/><path fill="#ffaf00" d="M217.2,170.7H224.9V178.4H217.2ZM209.5,178.4H217.2V186.1H209.5ZM240.2,216.9H247.9V224.5H240.2Z"/><path fill="#ff0000" d="M224.9,170.7H232.5V178.4H224.9ZM224.9,209.2H232.5V216.9H224.9Z"/><path fill="#bf0000" d="M217.2,178.4H224.9V186.1H217.2ZM232.5,193.8H240.2V201.5H232.5Z"/><path fill="#ff3000" d="M224.9,178.4H232.5V186.1H224.9ZM240.2,209.2H247.9V216.9H240.2ZM270.9,239.9H278.6V247.5H270.9Z"/><path fill="#ffcf00" d="M209.5,186.1H217.2V193.8H209.5ZM232.5,216.9H240.2V224.5H232.5ZM232.5,224.5H240.2V232.2H232.5Z"/><path fill="#cfff30" d="M217.2,186.1H224.9V193.8H217.2ZM240.2,224.5H247.9V232.2H240.2ZM278.6,285.8H286.2V293.4H278.6Z"/><path fill="#ff8f00" d="M224.9,186.1H232.5V193.8H224.9ZM217.2,201.5H232.5V209.2H217.2Z"/><path fill="#af0000" d="M232.5,186.1H240.2V193.8H232.5Z"/><path fill="#50ffaf" d="M178.8,193.8H186.5V201.5H178.8ZM255.5,239.9H263.2V247.5H255.5ZM270.9,255.2H278.6V262.8H270.9Z"/><path fill="#10ffef" d="M186.5,193.8H194.2V201.5H186.5ZM201.8,201.5H209.5V209.2H201.8ZM201.8,209.2H209.5V216.9H201.8ZM224.9,232.2H240.2V239.9H224.9ZM240.2,239.9H247.9V247.5H240.2ZM255.5,247.5H263.2V255.2H255.5ZM263.2,255.2H270.9V262.8H263.2ZM263.2,270.5H270.9V278.1H263.2ZM263.2,278.1H270.9V285.8H263.2ZM270.9,285.8H278.6V293.4H270.9ZM247.9,308.6H255.5V316.2H247.9ZM247.9,316.2H255.5V323.8H247.9ZM247.9,331.5H255.5V339.1H247.9ZM247.9,339.1H255.5V346.6H247.9ZM240.2,361.8H247.9V369.4H240.2ZM240.2,369.4H247.9V377.0H240.2ZM224.9,384.5H232.5V392.1H224.9Z"/><path fill="#20ffdf" d="M194.2,193.8H201.8V201.5H194.2ZM209.5,216.9H217.2V224.5H209.5ZM270.9,278.1H278.6V285.8H270.9ZM255.5,316.2H263.2V323.8H255.5Z"/><path fill="#8fff70" d="M201.8,193.8H209.5V201.5H201.8ZM224.9,224.5H232.5V232.2H224.9ZM263.2,239.9H270.9V247.5H263.2Z"/><path fill="#9fff60" d="M209.5,193.8H217.2V201.5H209.5ZM209.5,201.5H217.2V209.2H209.5ZM217.2,216.9H224.9V224.5H217.2ZM247.9,224.5H255.5V232.2H247.9ZM263.2,247.5H270.9V255.2H263.2ZM270.9,270.5H278.6V278.1H270.9Z"/><path fill="#ff2000" d="M224.9,193.8H232.5V201.5H224.9Z"/><path fill="#800000" d="M240.2,193.8H247.9V201.5H240.2ZM240.2,201.5H255.5V209.2H240.2ZM247.9,209.2H263.2V216.9H247.9Z"/><path fill="#00dfff" d="M178.8,201.5H186.5V209.2H178.8ZM194.2,201.5H201.8V209.2H194.2ZM201.8,216.9H209.5V224.5H201.8ZM217.2,232.2H224.9V239.9H217.2ZM232.5,239.9H240.2V247.5H232.5ZM247.9,247.5H255.5V255.2H247.9ZM255.5,255.2H263.2V262.8H255.5ZM263.2,262.8H270.9V270.5H263.2ZM255.5,270.5H263.2V278.1H255.5ZM263.2,285.8H270.9V293.4H263.2ZM186.5,377.0H201.8V384.5H186.5Z"/><path fill="#00cfff" d="M186.5,201.5H194.2V209.2H186.5ZM255.5,285.8H263.2V293.4H255.5ZM247.9,301.0H255.5V308.6H247.9ZM263.2,301.0H270.9V308.6H263.2Z"/><path fill="#df0000" d="M232.5,201.5H240.2V209.2H232.5ZM263.2,216.9H270.9V224.5H263.2ZM263.2,224.5H270.9V232.2H263.2Z"/><path fill="#009fff" d="M178.8,209.2H194.2V216.9H178.8ZM194.2,216.9H201.8V224.5H194.2ZM201.8,224.5H209.5V232.2H201.8ZM209.5,232.2H217.2V239.9H209.5ZM224.9,239.9H232.5V247.5H224.9ZM224.9,247.5H232.5V255.2H224.9ZM240.2,255.2H255.5V262.8H240.2ZM247.9,262.8H255.5V270.5H247.9ZM247.9,278.1H255.5V285.8H247.9ZM155.8,285.8H163.5V293.4H155.8ZM247.9,293.4H270.9V301.0H247.9ZM155.8,354.2H163.5V361.8H155.8ZM178.8,354.2H194.2V361.8H178.8ZM217.2,361.8H224.9V369.4H217.2ZM148.2,369.4H155.8V377.0H148.2ZM201.8,369.4H217.2V377.0H201.8ZM155.8,377.0H163.5V384.5H155.8ZM201.8,377.0H224.9V384.5H201.8Z"/><path fill="#00bfff" d="M194.2,209.2H201.8V216.9H194.2ZM232.5,247.5H247.9V255.2H232.5ZM255.5,262.8H263.2V270.5H255.5ZM247.9,270.5H255.5V278.1H247.9ZM255.5,278.1H263.2V285.8H255.5ZM247.9,285.8H255.5V293.4H247.9ZM255.5,301.0H263.2V308.6H255.5ZM255.5,308.6H270.9V316.2H255.5ZM194.2,354.2H201.8V361.8H194.2ZM224.9,361.8H232.5V369.4H224.9ZM171.2,369.4H178.8V377.0H171.2ZM178.8,377.0H186.5V384.5H178.8Z"/><path fill="#30ffcf" d="M209.5,209.2H217.2V216.9H209.5ZM217.2,224.5H224.9V232.2H217.2ZM240.2,232.2H255.5V239.9H240.2ZM247.9,239.9H255.5V247.5H247.9ZM224.9,377.0H232.5V384.5H224.9Z"/><path fill="#ffff00" d="M217.2,209.2H224.9V216.9H217.2ZM263.2,232.2H270.9V239.9H263.2ZM270.9,262.8H278.6V270.5H270.9Z"/><path fill="#ff6000" d="M232.5,209.2H240.2V216.9H232.5ZM270.9,232.2H278.6V239.9H270.9ZM270.9,247.5H278.6V255.2H270.9Z"/><path fill="#008fff" d="M178.8,216.9H186.5V224.5H178.8ZM217.2,239.9H224.9V247.5H217.2ZM217.2,247.5H224.9V255.2H217.2ZM232.5,262.8H247.9V270.5H232.5ZM240.2,270.5H247.9V278.1H240.2ZM240.2,278.1H247.9V285.8H240.2ZM155.8,293.4H163.5V301.0H155.8ZM155.8,301.0H163.5V308.6H155.8ZM155.8,308.6H163.5V316.2H155.8ZM171.2,354.2H178.8V361.8H171.2ZM209.5,361.8H217.2V369.4H209.5ZM224.9,369.4H240.2V377.0H224.9ZM171.2,377.0H178.8V384.5H171.2Z"/><path fill="#0070ff" d="M186.5,216.9H194.2V224.5H186.5ZM178.8,224.5H186.5V232.2H178.8ZM201.8,232.2H209.5V239.9H201.8ZM209.5,239.9H217.2V247.5H209.5ZM224.9,255.2H240.2V262.8H224.9ZM232.5,278.1H240.2V285.8H232.5ZM240.2,285.8H247.9V293.4H240.2ZM240.2,293.4H247.9V301.0H240.2ZM240.2,301.0H247.9V308.6H240.2ZM240.2,308.6H247.9V316.2H240.2ZM240.2,316.2H247.9V323.8H240.2ZM163.5,323.8H171.2V331.5H163.5ZM240.2,323.8H247.9V331.5H240.2ZM240.2,331.5H247.9V339.1H240.2ZM240.2,339.1H247.9V346.6H240.2ZM240.2,346.6H247.9V354.2H240.2ZM232.5,354.2H240.2V361.8H232.5ZM194.2,361.8H201.8V369.4H194.2ZM232.5,361.8H240.2V369.4H232.5ZM194.2,369.4H201.8V377.0H194.2ZM163.5,377.0H171.2V384.5H163.5Z"/><path fill="#ff7000" d="M247.9,216.9H263.2V224.5H247.9Z"/><path fill="#0030ff" d="M186.5,224.5H194.2V232.2H186.5ZM217.2,270.5H224.9V278.1H217.2ZM217.2,278.1H224.9V285.8H217.2ZM224.9,285.8H232.5V293.4H224.9ZM224.9,293.4H232.5V301.0H224.9ZM224.9,301.0H232.5V308.6H224.9ZM224.9,308.6H232.5V316.2H224.9ZM224.9,316.2H232.5V323.8H224.9ZM224.9,331.5H232.5V339.1H224.9ZM163.5,339.1H171.2V346.6H163.5ZM217.2,339.1H232.5V346.6H217.2ZM186.5,346.6H194.2V354.2H186.5ZM201.8,354.2H217.2V361.8H201.8ZM155.8,361.8H171.2V369.4H155.8Z"/><path fill="#0050ff" d="M194.2,224.5H201.8V232.2H194.2ZM209.5,247.5H217.2V255.2H209.5ZM217.2,255.2H224.9V262.8H217.2ZM217.2,262.8H232.5V270.5H217.2ZM224.9,270.5H240.2V278.1H224.9ZM224.9,278.1H232.5V285.8H224.9ZM232.5,285.8H240.2V293.4H232.5ZM232.5,293.4H240.2V301.0H232.5ZM232.5,301.0H240.2V308.6H232.5ZM232.5,308.6H240.2V316.2H232.5ZM232.5,316.2H240.2V323.8H232.5ZM163.5,346.6H171.2V354.2H163.5ZM224.9,346.6H240.2V354.2H224.9ZM163.5,354.2H171.2V361.8H163.5ZM224.9,354.2H232.5V361.8H224.9ZM201.8,361.8H209.5V369.4H201.8ZM163.5,369.4H171.2V377.0H163.5Z"/><path fill="#00efff" d="M209.5,224.5H217.2V232.2H209.5ZM270.9,301.0H278.6V308.6H270.9ZM270.9,308.6H278.6V316.2H270.9ZM217.2,369.4H224.9V377.0H217.2ZM186.5,384.5H209.5V392.1H186.5ZM148.2,392.1H163.5V399.7H148.2Z"/><path fill="#bfff40" d="M255.5,224.5H263.2V232.2H255.5ZM255.5,232.2H263.2V239.9H255.5ZM278.6,301.0H286.2V308.6H278.6Z"/><path fill="#0000ff" d="M178.8,232.2H201.8V239.9H178.8ZM194.2,239.9H201.8V247.5H194.2ZM163.5,247.5H171.2V255.2H163.5ZM194.2,247.5H201.8V255.2H194.2ZM163.5,255.2H171.2V262.8H163.5ZM194.2,255.2H201.8V262.8H194.2ZM163.5,262.8H171.2V270.5H163.5ZM194.2,262.8H209.5V270.5H194.2ZM163.5,270.5H178.8V278.1H163.5ZM194.2,270.5H209.5V278.1H194.2ZM163.5,278.1H178.8V285.8H163.5ZM194.2,278.1H209.5V285.8H194.2ZM163.5,285.8H171.2V293.4H163.5ZM201.8,285.8H217.2V293.4H201.8ZM163.5,293.4H171.2V301.0H163.5ZM209.5,293.4H217.2V301.0H209.5ZM209.5,301.0H217.2V308.6H209.5ZM201.8,308.6H217.2V316.2H201.8ZM171.2,316.2H178.8V323.8H171.2ZM209.5,316.2H217.2V323.8H209.5ZM171.2,323.8H178.8V331.5H171.2ZM194.2,323.8H217.2V331.5H194.2ZM171.2,331.5H186.5V339.1H171.2ZM201.8,331.5H209.5V339.1H201.8ZM201.8,339.1H209.5V346.6H201.8Z"/><path fill="#0000df" d="M178.8,239.9H186.5V247.5H178.8ZM186.5,247.5H194.2V255.2H186.5ZM178.8,255.2H194.2V262.8H178.8ZM186.5,262.8H194.2V270.5H186.5ZM171.2,285.8H194.2V293.4H171.2ZM171.2,293.4H209.5V301.0H171.2ZM171.2,301.0H201.8V308.6H171.2ZM178.8,308.6H194.2V316.2H178.8ZM178.8,316.2H194.2V323.8H178.8Z"/><path fill="#0000ef" d="M186.5,239.9H194.2V247.5H186.5ZM171.2,247.5H178.8V255.2H171.2ZM171.2,255.2H178.8V262.8H171.2ZM171.2,262.8H186.5V270.5H171.2ZM178.8,270.5H194.2V278.1H178.8ZM178.8,278.1H194.2V285.8H178.8ZM194.2,285.8H201.8V293.4H194.2ZM201.8,301.0H209.5V308.6H201.8ZM171.2,308.6H178.8V316.2H171.2ZM194.2,308.6H201.8V316.2H194.2ZM194.2,316.2H209.5V323.8H194.2ZM178.8,323.8H194.2V331.5H178.8Z"/><path fill="#0040ff" d="M201.8,239.9H209.5V247.5H201.8ZM224.9,323.8H240.2V331.5H224.9ZM163.5,331.5H171.2V339.1H163.5ZM232.5,331.5H240.2V339.1H232.5ZM232.5,339.1H240.2V346.6H232.5ZM171.2,346.6H186.5V354.2H171.2ZM194.2,346.6H201.8V354.2H194.2ZM217.2,346.6H224.9V354.2H217.2ZM217.2,354.2H224.9V361.8H217.2ZM155.8,369.4H163.5V377.0H155.8Z"/><path fill="#0000cf" d="M178.8,247.5H186.5V255.2H178.8Z"/><path fill="#0020ff" d="M201.8,247.5H209.5V255.2H201.8ZM209.5,255.2H217.2V262.8H209.5ZM209.5,262.8H217.2V270.5H209.5ZM217.2,285.8H224.9V293.4H217.2ZM163.5,308.6H171.2V316.2H163.5ZM217.2,308.6H224.9V316.2H217.2ZM217.2,316.2H224.9V323.8H217.2ZM217.2,323.8H224.9V331.5H217.2ZM217.2,331.5H224.9V339.1H217.2ZM209.5,346.6H217.2V354.2H209.5Z"/><path fill="#0010ff" d="M201.8,255.2H209.5V262.8H201.8ZM209.5,270.5H217.2V278.1H209.5ZM209.5,278.1H217.2V285.8H209.5ZM217.2,293.4H224.9V301.0H217.2ZM163.5,301.0H171.2V308.6H163.5ZM217.2,301.0H224.9V308.6H217.2ZM186.5,331.5H201.8V339.1H186.5ZM209.5,331.5H217.2V339.1H209.5ZM171.2,339.1H201.8V346.6H171.2ZM209.5,339.1H217.2V346.6H209.5ZM201.8,346.6H209.5V354.2H201.8Z"/><path fill="#00ffff" d="M270.9,293.4H278.6V301.0H270.9ZM247.9,323.8H255.5V331.5H247.9ZM240.2,354.2H247.9V361.8H240.2ZM178.8,384.5H186.5V392.1H178.8ZM217.2,384.5H224.9V392.1H217.2ZM186.5,392.1H201.8V399.7H186.5ZM148.2,399.7H155.8V407.2H148.2Z"/><path fill="#70ff8f" d="M278.6,308.6H286.2V316.2H278.6Z"/><path fill="#40ffbf" d="M263.2,316.2H278.6V323.8H263.2ZM155.8,414.8H163.5V422.3H155.8ZM148.2,422.3H171.2V427.0H148.2Z"/></g>
<path d="M178.6,220.6 183.0,214.6 187.4,209.1 194.0,208.6 195.6,212.4 197.3,216.8 199.5,223.4 201.7,227.8 208.3,235.5 217.1,242.1 225.8,245.4 229.1,248.6 232.4,251.9 240.1,254.1" fill="none" stroke="#000" stroke-width="1.0" stroke-linejoin="round"/>
<path d="M259.3,268.4 261.0,270.6 256.0,277.8 264.8,285.4 262.6,288.7 248.7,293.3 262.7,297.0 265.8,300.6 262.7,305.5 255.4,309.1 265.2,316.4 255.4,318.2 247.5,310.3 245.1,315.2 243.9,332.2 243.9,350.5" fill="none" stroke="#000" stroke-width="1.0" stroke-linejoin="round"/>
<path d="M255.4,277.5 265.2,285.4 263.3,289.1 248.7,293.3" fill="none" stroke="#000" stroke-width="1.0" stroke-linejoin="round"/>
<path d="M239.6,358.4 234.2,377.2" fill="none" stroke="#000" stroke-width="1.0" stroke-linejoin="round"/>
<path d="M231.1,378.4 224.4,379.0 217.1,373.0 214.1,377.2 217.7,383.3 217.1,386.3 212.9,388.2" fill="none" stroke="#000" stroke-width="1.0" stroke-linejoin="round"/>
<path d="M205.0,388.5 201.9,388.5 194.6,384.5 188.6,382.7" fill="none" stroke="#000" stroke-width="1.0" stroke-linejoin="round"/>
<path d="M174.0,380.9 177.4,384.3 175.2,388.2" fill="none" stroke="#000" stroke-width="1.0" stroke-linejoin="round"/>
<text x="250.6" y="266.7" font-size="14.0" text-anchor="middle" transform="rotate(52 250.6 261.8)" fill="#000">1.25</text>
<use href="#sites"/>
</g></g>
<rect x="458.6" y="142.5" width="348" height="427" fill="none" stroke="#111" stroke-width="1.3"/>
<text x="450.7" y="149.9" font-size="20.8" text-anchor="end" fill="#000">37°N</text>
<text x="450.7" y="294.0" font-size="20.8" text-anchor="end" fill="#000">36°N</text>
<text x="450.7" y="436.3" font-size="20.8" text-anchor="end" fill="#000">35°N</text>
<text x="450.7" y="576.9" font-size="20.8" text-anchor="end" fill="#000">34°N</text>
<text x="453.0" y="221.6" font-size="16.7" text-anchor="end" fill="#000">30'</text>
<text x="453.0" y="364.8" font-size="16.7" text-anchor="end" fill="#000">30'</text>
<text x="453.0" y="506.2" font-size="16.7" text-anchor="end" fill="#000">30'</text>
<text x="460.4" y="591.0" font-size="20.8" text-anchor="middle" fill="#000">77°W</text>
<text x="515.3" y="587.1" font-size="16.7" text-anchor="middle" fill="#000">30'</text>
<text x="576.4" y="591.0" font-size="20.8" text-anchor="middle" fill="#000">76°W</text>
<text x="631.3" y="587.1" font-size="16.7" text-anchor="middle" fill="#000">30'</text>
<text x="692.4" y="591.0" font-size="20.8" text-anchor="middle" fill="#000">75°W</text>
<text x="747.3" y="587.1" font-size="16.7" text-anchor="middle" fill="#000">30'</text>
<text x="808.4" y="591.0" font-size="20.8" text-anchor="middle" fill="#000">74°W</text>
<rect x="462.4" y="162.3" width="113.6" height="25.2" fill="url(#jet)" stroke="#262626" stroke-width="1"/>
<text x="770.6" y="179.8" font-size="20.8" text-anchor="middle" fill="#000">10 km</text>
<path d="M765.6,186.0H777.6" stroke="#000" stroke-width="3.2" stroke-linecap="round"/>
<text x="632.0" y="130.9" font-size="20.8" text-anchor="middle" font-weight="bold" fill="#000">GDOP TotalErrors (1.25)</text>
<text x="461.0" y="149.5" font-size="18.8" text-anchor="middle" fill="#262626">0</text>
<text x="518.3" y="149.5" font-size="18.8" text-anchor="middle" fill="#262626">2</text>
<text x="574.2" y="149.5" font-size="18.8" text-anchor="middle" fill="#262626">4</text>
<g transform="translate(843.6,142.5)"><g clip-path="url(#ax)">
<use href="#land"/><use href="#grid"/><use href="#ticks"/>
<g shape-rendering="crispEdges"><path fill="#00008f" d="M125.2,0.0H347.6V7.6H125.2ZM125.2,7.6H347.6V15.5H125.2ZM132.8,15.5H347.6V23.3H132.8ZM132.8,23.3H347.6V31.1H132.8ZM132.8,31.1H347.6V38.9H132.8ZM132.8,38.9H347.6V46.7H132.8ZM132.8,46.7H347.6V54.5H132.8ZM140.5,54.5H178.8V62.3H140.5ZM301.6,54.5H347.6V62.3H301.6ZM140.5,62.3H178.8V70.0H140.5ZM301.6,62.3H347.6V70.0H301.6ZM140.5,70.0H178.8V77.8H140.5ZM309.2,70.0H347.6V77.8H309.2ZM140.5,77.8H178.8V85.6H140.5ZM309.2,77.8H347.6V85.6H309.2ZM140.5,85.6H178.8V93.3H140.5ZM316.9,85.6H347.6V93.3H316.9ZM148.2,93.3H178.8V101.1H148.2ZM324.6,93.3H347.6V101.1H324.6ZM148.2,101.1H178.8V108.9H148.2ZM324.6,101.1H347.6V108.9H324.6ZM155.8,108.9H178.8V116.6H155.8ZM332.2,108.9H347.6V116.6H332.2ZM155.8,116.6H178.8V124.4H155.8ZM332.2,116.6H347.6V124.4H332.2ZM155.8,124.4H178.8V132.1H155.8ZM339.9,124.4H347.6V132.1H339.9ZM163.5,132.1H178.8V139.8H163.5ZM163.5,139.8H178.8V147.5H163.5ZM163.5,147.5H178.8V155.3H163.5ZM171.2,155.3H178.8V163.0H171.2ZM171.2,163.0H178.8V170.7H171.2ZM25.4,331.5H40.8V339.1H25.4ZM178.8,422.3H186.5V427.0H178.8ZM194.2,422.3H201.8V427.0H194.2ZM316.9,422.3H347.6V427.0H316.9Z"/><path fill="#0000bf" d="M178.8,54.5H293.9V62.3H178.8ZM178.8,62.3H209.5V70.0H178.8ZM224.9,62.3H232.5V70.0H224.9ZM240.2,62.3H247.9V70.0H240.2ZM255.5,62.3H270.9V70.0H255.5ZM278.6,62.3H301.6V70.0H278.6ZM286.2,70.0H301.6V77.8H286.2ZM178.8,77.8H194.2V85.6H178.8ZM293.9,77.8H309.2V85.6H293.9ZM178.8,85.6H186.5V93.3H178.8ZM301.6,85.6H309.2V93.3H301.6ZM309.2,93.3H316.9V101.1H309.2ZM178.8,101.1H186.5V108.9H178.8ZM316.9,101.1H324.6V108.9H316.9ZM324.6,116.6H332.2V124.4H324.6ZM324.6,132.1H339.9V139.8H324.6ZM332.2,139.8H347.6V147.5H332.2ZM2.4,323.8H10.1V331.5H2.4ZM10.1,331.5H17.8V339.1H10.1ZM2.4,339.1H10.1V346.6H2.4ZM171.2,399.7H178.8V407.2H171.2ZM171.2,407.2H178.8V414.8H171.2ZM2.4,414.8H10.1V422.3H2.4ZM17.8,414.8H25.4V422.3H17.8ZM171.2,414.8H178.8V422.3H171.2ZM10.1,422.3H17.8V427.0H10.1ZM171.2,422.3H178.8V427.0H171.2Z"/><path fill="#00009f" d="M293.9,54.5H301.6V62.3H293.9ZM301.6,70.0H309.2V77.8H301.6ZM309.2,85.6H316.9V93.3H309.2ZM316.9,93.3H324.6V101.1H316.9ZM324.6,108.9H332.2V116.6H324.6ZM332.2,124.4H339.9V132.1H332.2ZM339.9,132.1H347.6V139.8H339.9Z"/><path fill="#0000cf" d="M209.5,62.3H224.9V70.0H209.5ZM232.5,62.3H240.2V70.0H232.5ZM247.9,62.3H255.5V70.0H247.9ZM270.9,62.3H278.6V70.0H270.9ZM178.8,70.0H194.2V77.8H178.8ZM201.8,70.0H224.9V77.8H201.8ZM232.5,70.0H286.2V77.8H232.5ZM194.2,77.8H201.8V85.6H194.2ZM255.5,77.8H263.2V85.6H255.5ZM270.9,77.8H293.9V85.6H270.9ZM186.5,85.6H209.5V93.3H186.5ZM286.2,85.6H301.6V93.3H286.2ZM178.8,93.3H194.2V101.1H178.8ZM286.2,93.3H309.2V101.1H286.2ZM286.2,101.1H293.9V108.9H286.2ZM301.6,101.1H316.9V108.9H301.6ZM178.8,108.9H194.2V116.6H178.8ZM293.9,108.9H324.6V116.6H293.9ZM178.8,116.6H186.5V124.4H178.8ZM309.2,116.6H324.6V124.4H309.2ZM316.9,124.4H332.2V132.1H316.9ZM316.9,132.1H324.6V139.8H316.9ZM316.9,139.8H332.2V147.5H316.9ZM324.6,147.5H347.6V155.3H324.6ZM324.6,155.3H332.2V163.0H324.6ZM339.9,155.3H347.6V163.0H339.9ZM339.9,163.0H347.6V170.7H339.9ZM339.9,170.7H347.6V178.4H339.9ZM339.9,178.4H347.6V186.1H339.9ZM155.8,255.2H163.5V262.8H155.8ZM140.5,262.8H155.8V270.5H140.5ZM132.8,270.5H148.2V278.1H132.8ZM125.2,278.1H132.8V285.8H125.2ZM2.4,331.5H10.1V339.1H2.4ZM17.8,331.5H25.4V339.1H17.8ZM10.1,339.1H17.8V346.6H10.1ZM2.4,346.6H17.8V354.2H2.4ZM2.4,354.2H10.1V361.8H2.4ZM2.4,361.8H10.1V369.4H2.4ZM2.4,369.4H10.1V377.0H2.4ZM2.4,384.5H17.8V392.1H2.4ZM2.4,392.1H25.4V399.7H2.4ZM171.2,392.1H178.8V399.7H171.2ZM2.4,399.7H25.4V407.2H2.4ZM163.5,399.7H171.2V407.2H163.5ZM178.8,399.7H186.5V407.2H178.8ZM2.4,407.2H48.5V414.8H2.4ZM163.5,407.2H171.2V414.8H163.5ZM178.8,407.2H186.5V414.8H178.8ZM10.1,414.8H17.8V422.3H10.1ZM25.4,414.8H48.5V422.3H25.4ZM56.1,414.8H63.8V422.3H56.1ZM163.5,414.8H171.2V422.3H163.5ZM178.8,414.8H186.5V422.3H178.8ZM2.4,422.3H10.1V427.0H2.4ZM17.8,422.3H71.5V427.0H17.8ZM155.8,422.3H171.2V427.0H155.8ZM186.5,422.3H194.2V427.0H186.5Z"/><path fill="#0000df" d="M194.2,70.0H201.8V77.8H194.2ZM224.9,70.0H232.5V77.8H224.9ZM201.8,77.8H255.5V85.6H201.8ZM263.2,77.8H270.9V85.6H263.2ZM209.5,85.6H217.2V93.3H209.5ZM224.9,85.6H232.5V93.3H224.9ZM255.5,85.6H286.2V93.3H255.5ZM194.2,93.3H217.2V101.1H194.2ZM270.9,93.3H286.2V101.1H270.9ZM186.5,101.1H217.2V108.9H186.5ZM293.9,101.1H301.6V108.9H293.9ZM194.2,108.9H201.8V116.6H194.2ZM278.6,108.9H293.9V116.6H278.6ZM186.5,116.6H209.5V124.4H186.5ZM293.9,116.6H309.2V124.4H293.9ZM178.8,124.4H209.5V132.1H178.8ZM293.9,124.4H316.9V132.1H293.9ZM178.8,132.1H194.2V139.8H178.8ZM301.6,132.1H316.9V139.8H301.6ZM178.8,139.8H194.2V147.5H178.8ZM309.2,139.8H316.9V147.5H309.2ZM178.8,147.5H194.2V155.3H178.8ZM309.2,147.5H324.6V155.3H309.2ZM178.8,155.3H186.5V163.0H178.8ZM316.9,155.3H324.6V163.0H316.9ZM332.2,155.3H339.9V163.0H332.2ZM178.8,163.0H186.5V170.7H178.8ZM316.9,163.0H339.9V170.7H316.9ZM332.2,170.7H339.9V178.4H332.2ZM332.2,178.4H339.9V186.1H332.2ZM339.9,186.1H347.6V193.8H339.9ZM339.9,193.8H347.6V201.5H339.9ZM339.9,209.2H347.6V216.9H339.9ZM339.9,216.9H347.6V224.5H339.9ZM148.2,255.2H155.8V262.8H148.2ZM148.2,270.5H155.8V278.1H148.2ZM132.8,278.1H148.2V285.8H132.8ZM117.5,285.8H125.2V293.4H117.5ZM17.8,339.1H25.4V346.6H17.8ZM10.1,354.2H25.4V361.8H10.1ZM10.1,361.8H17.8V369.4H10.1ZM10.1,369.4H25.4V377.0H10.1ZM2.4,377.0H25.4V384.5H2.4ZM17.8,384.5H25.4V392.1H17.8ZM33.1,384.5H40.8V392.1H33.1ZM25.4,392.1H40.8V399.7H25.4ZM48.5,392.1H56.1V399.7H48.5ZM155.8,392.1H171.2V399.7H155.8ZM178.8,392.1H194.2V399.7H178.8ZM25.4,399.7H56.1V407.2H25.4ZM155.8,399.7H163.5V407.2H155.8ZM186.5,399.7H194.2V407.2H186.5ZM48.5,407.2H79.1V414.8H48.5ZM155.8,407.2H163.5V414.8H155.8ZM186.5,407.2H194.2V414.8H186.5ZM48.5,414.8H56.1V422.3H48.5ZM63.8,414.8H79.1V422.3H63.8ZM155.8,414.8H163.5V422.3H155.8ZM186.5,414.8H201.8V422.3H186.5ZM71.5,422.3H79.1V427.0H71.5Z"/><path fill="#0000ef" d="M217.2,85.6H224.9V93.3H217.2ZM232.5,85.6H255.5V93.3H232.5ZM217.2,93.3H224.9V101.1H217.2ZM232.5,93.3H270.9V101.1H232.5ZM217.2,101.1H224.9V108.9H217.2ZM240.2,101.1H255.5V108.9H240.2ZM263.2,101.1H286.2V108.9H263.2ZM201.8,108.9H224.9V116.6H201.8ZM270.9,108.9H278.6V116.6H270.9ZM209.5,116.6H217.2V124.4H209.5ZM278.6,116.6H293.9V124.4H278.6ZM209.5,124.4H217.2V132.1H209.5ZM286.2,124.4H293.9V132.1H286.2ZM194.2,132.1H209.5V139.8H194.2ZM286.2,132.1H301.6V139.8H286.2ZM194.2,139.8H201.8V147.5H194.2ZM293.9,139.8H309.2V147.5H293.9ZM194.2,147.5H201.8V155.3H194.2ZM301.6,147.5H309.2V155.3H301.6ZM186.5,155.3H194.2V163.0H186.5ZM201.8,155.3H209.5V163.0H201.8ZM309.2,155.3H316.9V163.0H309.2ZM186.5,163.0H194.2V170.7H186.5ZM309.2,163.0H316.9V170.7H309.2ZM301.6,170.7H332.2V178.4H301.6ZM316.9,178.4H332.2V186.1H316.9ZM324.6,186.1H339.9V193.8H324.6ZM324.6,193.8H339.9V201.5H324.6ZM324.6,201.5H347.6V209.2H324.6ZM332.2,216.9H339.9V224.5H332.2ZM339.9,224.5H347.6V232.2H339.9ZM125.2,285.8H148.2V293.4H125.2ZM17.8,346.6H33.1V354.2H17.8ZM17.8,361.8H25.4V369.4H17.8ZM25.4,369.4H33.1V377.0H25.4ZM25.4,377.0H40.8V384.5H25.4ZM25.4,384.5H33.1V392.1H25.4ZM40.8,384.5H56.1V392.1H40.8ZM40.8,392.1H48.5V399.7H40.8ZM56.1,392.1H86.8V399.7H56.1ZM194.2,392.1H201.8V399.7H194.2ZM56.1,399.7H86.8V407.2H56.1ZM148.2,399.7H155.8V407.2H148.2ZM194.2,399.7H201.8V407.2H194.2ZM79.1,407.2H86.8V414.8H79.1ZM148.2,407.2H155.8V414.8H148.2ZM194.2,407.2H209.5V414.8H194.2ZM79.1,414.8H86.8V422.3H79.1ZM201.8,414.8H209.5V422.3H201.8ZM79.1,422.3H94.5V427.0H79.1ZM148.2,422.3H155.8V427.0H148.2ZM201.8,422.3H209.5V427.0H201.8Z"/><path fill="#0000ff" d="M224.9,93.3H232.5V101.1H224.9ZM224.9,101.1H240.2V108.9H224.9ZM255.5,101.1H263.2V108.9H255.5ZM224.9,108.9H232.5V116.6H224.9ZM247.9,108.9H270.9V116.6H247.9ZM217.2,116.6H224.9V124.4H217.2ZM232.5,116.6H240.2V124.4H232.5ZM263.2,116.6H278.6V124.4H263.2ZM217.2,124.4H224.9V132.1H217.2ZM263.2,124.4H286.2V132.1H263.2ZM209.5,132.1H217.2V139.8H209.5ZM278.6,132.1H286.2V139.8H278.6ZM201.8,139.8H224.9V147.5H201.8ZM270.9,139.8H293.9V147.5H270.9ZM201.8,147.5H224.9V155.3H201.8ZM293.9,147.5H301.6V155.3H293.9ZM194.2,155.3H201.8V163.0H194.2ZM209.5,155.3H217.2V163.0H209.5ZM293.9,155.3H309.2V163.0H293.9ZM301.6,163.0H309.2V170.7H301.6ZM309.2,178.4H316.9V186.1H309.2ZM309.2,186.1H324.6V193.8H309.2ZM309.2,193.8H324.6V201.5H309.2ZM324.6,209.2H339.9V216.9H324.6ZM316.9,216.9H332.2V224.5H316.9ZM324.6,224.5H339.9V232.2H324.6ZM339.9,232.2H347.6V239.9H339.9ZM339.9,239.9H347.6V247.5H339.9ZM109.8,293.4H140.5V301.0H109.8ZM25.4,339.1H33.1V346.6H25.4ZM25.4,354.2H40.8V361.8H25.4ZM25.4,361.8H48.5V369.4H25.4ZM33.1,369.4H48.5V377.0H33.1ZM40.8,377.0H56.1V384.5H40.8ZM109.8,377.0H117.5V384.5H109.8ZM339.9,377.0H347.6V384.5H339.9ZM56.1,384.5H86.8V392.1H56.1ZM109.8,384.5H117.5V392.1H109.8ZM140.5,392.1H155.8V399.7H140.5ZM201.8,392.1H209.5V399.7H201.8ZM140.5,399.7H148.2V407.2H140.5ZM201.8,399.7H209.5V407.2H201.8ZM86.8,407.2H102.1V414.8H86.8ZM132.8,407.2H148.2V414.8H132.8ZM339.9,407.2H347.6V414.8H339.9ZM86.8,414.8H94.5V422.3H86.8ZM117.5,414.8H125.2V422.3H117.5ZM132.8,414.8H155.8V422.3H132.8ZM209.5,414.8H224.9V422.3H209.5ZM316.9,414.8H324.6V422.3H316.9ZM332.2,414.8H347.6V422.3H332.2ZM94.5,422.3H102.1V427.0H94.5ZM132.8,422.3H148.2V427.0H132.8ZM209.5,422.3H217.2V427.0H209.5Z"/><path fill="#0010ff" d="M232.5,108.9H247.9V116.6H232.5ZM224.9,116.6H232.5V124.4H224.9ZM240.2,116.6H263.2V124.4H240.2ZM224.9,124.4H240.2V132.1H224.9ZM217.2,132.1H240.2V139.8H217.2ZM255.5,132.1H278.6V139.8H255.5ZM224.9,139.8H247.9V147.5H224.9ZM263.2,139.8H270.9V147.5H263.2ZM232.5,147.5H240.2V155.3H232.5ZM278.6,147.5H293.9V155.3H278.6ZM217.2,155.3H224.9V163.0H217.2ZM270.9,155.3H293.9V163.0H270.9ZM194.2,163.0H217.2V170.7H194.2ZM286.2,163.0H301.6V170.7H286.2ZM293.9,170.7H301.6V178.4H293.9ZM286.2,178.4H293.9V186.1H286.2ZM301.6,178.4H309.2V186.1H301.6ZM301.6,186.1H309.2V193.8H301.6ZM301.6,201.5H324.6V209.2H301.6ZM309.2,209.2H324.6V216.9H309.2ZM316.9,224.5H324.6V232.2H316.9ZM332.2,232.2H339.9V239.9H332.2ZM332.2,239.9H339.9V247.5H332.2ZM339.9,247.5H347.6V255.2H339.9ZM339.9,255.2H347.6V262.8H339.9ZM332.2,262.8H347.6V270.5H332.2ZM148.2,278.1H155.8V285.8H148.2ZM132.8,301.0H140.5V308.6H132.8ZM339.9,316.2H347.6V323.8H339.9ZM33.1,346.6H40.8V354.2H33.1ZM332.2,346.6H347.6V354.2H332.2ZM40.8,354.2H48.5V361.8H40.8ZM316.9,354.2H332.2V361.8H316.9ZM339.9,354.2H347.6V361.8H339.9ZM324.6,361.8H332.2V369.4H324.6ZM48.5,369.4H56.1V377.0H48.5ZM316.9,369.4H339.9V377.0H316.9ZM63.8,377.0H71.5V384.5H63.8ZM117.5,377.0H125.2V384.5H117.5ZM186.5,377.0H194.2V384.5H186.5ZM224.9,377.0H240.2V384.5H224.9ZM316.9,377.0H324.6V384.5H316.9ZM332.2,377.0H339.9V384.5H332.2ZM94.5,384.5H102.1V392.1H94.5ZM117.5,384.5H125.2V392.1H117.5ZM178.8,384.5H186.5V392.1H178.8ZM209.5,384.5H240.2V392.1H209.5ZM316.9,384.5H347.6V392.1H316.9ZM86.8,392.1H94.5V399.7H86.8ZM209.5,392.1H217.2V399.7H209.5ZM293.9,392.1H301.6V399.7H293.9ZM309.2,392.1H347.6V399.7H309.2ZM86.8,399.7H94.5V407.2H86.8ZM102.1,399.7H140.5V407.2H102.1ZM209.5,399.7H217.2V407.2H209.5ZM324.6,399.7H347.6V407.2H324.6ZM102.1,407.2H109.8V414.8H102.1ZM117.5,407.2H132.8V414.8H117.5ZM209.5,407.2H232.5V414.8H209.5ZM301.6,407.2H339.9V414.8H301.6ZM94.5,414.8H117.5V422.3H94.5ZM125.2,414.8H132.8V422.3H125.2ZM278.6,414.8H286.2V422.3H278.6ZM301.6,414.8H316.9V422.3H301.6ZM324.6,414.8H332.2V422.3H324.6ZM102.1,422.3H132.8V427.0H102.1ZM217.2,422.3H232.5V427.0H217.2ZM278.6,422.3H316.9V427.0H278.6Z"/><path fill="#0020ff" d="M240.2,124.4H263.2V132.1H240.2ZM240.2,132.1H255.5V139.8H240.2ZM247.9,139.8H263.2V147.5H247.9ZM224.9,147.5H232.5V155.3H224.9ZM240.2,147.5H255.5V155.3H240.2ZM270.9,147.5H278.6V155.3H270.9ZM224.9,155.3H240.2V163.0H224.9ZM217.2,163.0H232.5V170.7H217.2ZM270.9,163.0H286.2V170.7H270.9ZM278.6,170.7H293.9V178.4H278.6ZM293.9,178.4H301.6V186.1H293.9ZM293.9,186.1H301.6V193.8H293.9ZM301.6,193.8H309.2V201.5H301.6ZM293.9,201.5H301.6V209.2H293.9ZM301.6,209.2H309.2V216.9H301.6ZM309.2,216.9H316.9V224.5H309.2ZM301.6,224.5H316.9V232.2H301.6ZM316.9,232.2H324.6V239.9H316.9ZM324.6,239.9H332.2V247.5H324.6ZM324.6,247.5H339.9V255.2H324.6ZM324.6,255.2H339.9V262.8H324.6ZM155.8,262.8H163.5V270.5H155.8ZM332.2,270.5H347.6V278.1H332.2ZM332.2,278.1H347.6V285.8H332.2ZM324.6,285.8H347.6V293.4H324.6ZM140.5,293.4H148.2V301.0H140.5ZM125.2,301.0H132.8V308.6H125.2ZM332.2,301.0H347.6V308.6H332.2ZM324.6,308.6H332.2V316.2H324.6ZM339.9,308.6H347.6V316.2H339.9ZM332.2,316.2H339.9V323.8H332.2ZM332.2,323.8H347.6V331.5H332.2ZM316.9,331.5H324.6V339.1H316.9ZM332.2,331.5H347.6V339.1H332.2ZM33.1,339.1H40.8V346.6H33.1ZM316.9,339.1H347.6V346.6H316.9ZM309.2,346.6H332.2V354.2H309.2ZM332.2,354.2H339.9V361.8H332.2ZM48.5,361.8H56.1V369.4H48.5ZM309.2,361.8H324.6V369.4H309.2ZM332.2,361.8H347.6V369.4H332.2ZM56.1,369.4H63.8V377.0H56.1ZM301.6,369.4H316.9V377.0H301.6ZM339.9,369.4H347.6V377.0H339.9ZM56.1,377.0H63.8V384.5H56.1ZM71.5,377.0H86.8V384.5H71.5ZM125.2,377.0H140.5V384.5H125.2ZM178.8,377.0H186.5V384.5H178.8ZM201.8,377.0H224.9V384.5H201.8ZM286.2,377.0H301.6V384.5H286.2ZM309.2,377.0H316.9V384.5H309.2ZM324.6,377.0H332.2V384.5H324.6ZM86.8,384.5H94.5V392.1H86.8ZM125.2,384.5H140.5V392.1H125.2ZM155.8,384.5H171.2V392.1H155.8ZM186.5,384.5H209.5V392.1H186.5ZM301.6,384.5H316.9V392.1H301.6ZM94.5,392.1H109.8V399.7H94.5ZM117.5,392.1H140.5V399.7H117.5ZM217.2,392.1H224.9V399.7H217.2ZM278.6,392.1H293.9V399.7H278.6ZM301.6,392.1H309.2V399.7H301.6ZM94.5,399.7H102.1V407.2H94.5ZM217.2,399.7H232.5V407.2H217.2ZM255.5,399.7H263.2V407.2H255.5ZM293.9,399.7H324.6V407.2H293.9ZM109.8,407.2H117.5V414.8H109.8ZM232.5,407.2H240.2V414.8H232.5ZM278.6,407.2H286.2V414.8H278.6ZM293.9,407.2H301.6V414.8H293.9ZM224.9,414.8H240.2V422.3H224.9ZM247.9,414.8H263.2V422.3H247.9ZM270.9,414.8H278.6V422.3H270.9ZM286.2,414.8H301.6V422.3H286.2ZM232.5,422.3H240.2V427.0H232.5ZM247.9,422.3H263.2V427.0H247.9Z"/><path fill="#0030ff" d="M255.5,147.5H270.9V155.3H255.5ZM240.2,155.3H247.9V163.0H240.2ZM255.5,155.3H270.9V163.0H255.5ZM232.5,163.0H255.5V170.7H232.5ZM255.5,170.7H278.6V178.4H255.5ZM263.2,178.4H286.2V186.1H263.2ZM270.9,186.1H278.6V193.8H270.9ZM286.2,186.1H293.9V193.8H286.2ZM270.9,193.8H301.6V201.5H270.9ZM286.2,201.5H293.9V209.2H286.2ZM278.6,209.2H286.2V216.9H278.6ZM293.9,209.2H301.6V216.9H293.9ZM293.9,216.9H309.2V224.5H293.9ZM293.9,224.5H301.6V232.2H293.9ZM309.2,232.2H316.9V239.9H309.2ZM324.6,232.2H332.2V239.9H324.6ZM316.9,239.9H324.6V247.5H316.9ZM301.6,247.5H324.6V255.2H301.6ZM309.2,255.2H324.6V262.8H309.2ZM309.2,262.8H316.9V270.5H309.2ZM324.6,262.8H332.2V270.5H324.6ZM316.9,270.5H332.2V278.1H316.9ZM316.9,278.1H332.2V285.8H316.9ZM309.2,285.8H324.6V293.4H309.2ZM309.2,293.4H316.9V301.0H309.2ZM324.6,293.4H347.6V301.0H324.6ZM102.1,301.0H125.2V308.6H102.1ZM309.2,301.0H332.2V308.6H309.2ZM332.2,308.6H339.9V316.2H332.2ZM309.2,316.2H332.2V323.8H309.2ZM293.9,323.8H332.2V331.5H293.9ZM40.8,331.5H48.5V339.1H40.8ZM324.6,331.5H332.2V339.1H324.6ZM40.8,339.1H48.5V346.6H40.8ZM293.9,339.1H316.9V346.6H293.9ZM40.8,346.6H48.5V354.2H40.8ZM48.5,354.2H56.1V361.8H48.5ZM301.6,354.2H316.9V361.8H301.6ZM270.9,361.8H286.2V369.4H270.9ZM293.9,361.8H301.6V369.4H293.9ZM71.5,369.4H79.1V377.0H71.5ZM278.6,369.4H301.6V377.0H278.6ZM86.8,377.0H94.5V384.5H86.8ZM140.5,377.0H148.2V384.5H140.5ZM155.8,377.0H178.8V384.5H155.8ZM194.2,377.0H201.8V384.5H194.2ZM301.6,377.0H309.2V384.5H301.6ZM102.1,384.5H109.8V392.1H102.1ZM140.5,384.5H155.8V392.1H140.5ZM171.2,384.5H178.8V392.1H171.2ZM240.2,384.5H247.9V392.1H240.2ZM255.5,384.5H263.2V392.1H255.5ZM278.6,384.5H286.2V392.1H278.6ZM293.9,384.5H301.6V392.1H293.9ZM109.8,392.1H117.5V399.7H109.8ZM224.9,392.1H232.5V399.7H224.9ZM255.5,392.1H270.9V399.7H255.5ZM232.5,399.7H240.2V407.2H232.5ZM247.9,399.7H255.5V407.2H247.9ZM263.2,399.7H293.9V407.2H263.2ZM240.2,407.2H255.5V414.8H240.2ZM263.2,407.2H278.6V414.8H263.2ZM286.2,407.2H293.9V414.8H286.2ZM240.2,414.8H247.9V422.3H240.2ZM263.2,414.8H270.9V422.3H263.2ZM240.2,422.3H247.9V427.0H240.2ZM263.2,422.3H278.6V427.0H263.2Z"/><path fill="#0040ff" d="M247.9,155.3H255.5V163.0H247.9ZM255.5,163.0H270.9V170.7H255.5ZM232.5,170.7H240.2V178.4H232.5ZM247.9,170.7H255.5V178.4H247.9ZM247.9,178.4H255.5V186.1H247.9ZM263.2,186.1H270.9V193.8H263.2ZM278.6,186.1H286.2V193.8H278.6ZM247.9,193.8H270.9V201.5H247.9ZM270.9,201.5H286.2V209.2H270.9ZM270.9,209.2H278.6V216.9H270.9ZM286.2,209.2H293.9V216.9H286.2ZM278.6,216.9H293.9V224.5H278.6ZM278.6,224.5H286.2V232.2H278.6ZM293.9,232.2H309.2V239.9H293.9ZM293.9,239.9H309.2V247.5H293.9ZM301.6,255.2H309.2V262.8H301.6ZM316.9,262.8H324.6V270.5H316.9ZM301.6,270.5H316.9V278.1H301.6ZM301.6,278.1H316.9V285.8H301.6ZM286.2,285.8H293.9V293.4H286.2ZM293.9,293.4H301.6V301.0H293.9ZM316.9,293.4H324.6V301.0H316.9ZM293.9,301.0H309.2V308.6H293.9ZM125.2,308.6H132.8V316.2H125.2ZM293.9,308.6H324.6V316.2H293.9ZM301.6,316.2H309.2V323.8H301.6ZM48.5,331.5H56.1V339.1H48.5ZM270.9,331.5H278.6V339.1H270.9ZM286.2,331.5H293.9V339.1H286.2ZM301.6,331.5H316.9V339.1H301.6ZM48.5,346.6H56.1V354.2H48.5ZM263.2,346.6H270.9V354.2H263.2ZM286.2,346.6H309.2V354.2H286.2ZM56.1,354.2H63.8V361.8H56.1ZM255.5,354.2H263.2V361.8H255.5ZM270.9,354.2H278.6V361.8H270.9ZM286.2,354.2H301.6V361.8H286.2ZM56.1,361.8H71.5V369.4H56.1ZM286.2,361.8H293.9V369.4H286.2ZM301.6,361.8H309.2V369.4H301.6ZM63.8,369.4H71.5V377.0H63.8ZM86.8,369.4H102.1V377.0H86.8ZM240.2,369.4H247.9V377.0H240.2ZM270.9,369.4H278.6V377.0H270.9ZM94.5,377.0H109.8V384.5H94.5ZM148.2,377.0H155.8V384.5H148.2ZM240.2,377.0H247.9V384.5H240.2ZM255.5,377.0H286.2V384.5H255.5ZM263.2,384.5H278.6V392.1H263.2ZM286.2,384.5H293.9V392.1H286.2ZM232.5,392.1H255.5V399.7H232.5ZM270.9,392.1H278.6V399.7H270.9ZM240.2,399.7H247.9V407.2H240.2ZM255.5,407.2H263.2V414.8H255.5Z"/><path fill="#0060ff" d="M178.8,170.7H217.2V178.4H178.8ZM224.9,170.7H232.5V178.4H224.9ZM178.8,178.4H186.5V186.1H178.8ZM217.2,178.4H240.2V186.1H217.2ZM209.5,186.1H217.2V193.8H209.5ZM247.9,186.1H255.5V193.8H247.9ZM232.5,193.8H247.9V201.5H232.5ZM247.9,201.5H255.5V209.2H247.9ZM263.2,209.2H270.9V216.9H263.2ZM270.9,216.9H278.6V224.5H270.9ZM247.9,224.5H263.2V232.2H247.9ZM263.2,239.9H278.6V247.5H263.2ZM270.9,247.5H286.2V255.2H270.9ZM270.9,255.2H278.6V262.8H270.9ZM286.2,255.2H293.9V262.8H286.2ZM293.9,262.8H301.6V270.5H293.9ZM270.9,270.5H278.6V278.1H270.9ZM293.9,270.5H301.6V278.1H293.9ZM278.6,278.1H286.2V285.8H278.6ZM278.6,285.8H286.2V293.4H278.6ZM278.6,293.4H293.9V301.0H278.6ZM278.6,301.0H293.9V308.6H278.6ZM255.5,308.6H263.2V316.2H255.5ZM270.9,308.6H293.9V316.2H270.9ZM132.8,316.2H140.5V323.8H132.8ZM247.9,316.2H263.2V323.8H247.9ZM278.6,331.5H286.2V339.1H278.6ZM56.1,339.1H63.8V346.6H56.1ZM247.9,339.1H255.5V346.6H247.9ZM278.6,339.1H286.2V346.6H278.6ZM56.1,346.6H63.8V354.2H56.1ZM240.2,346.6H247.9V354.2H240.2ZM255.5,346.6H263.2V354.2H255.5ZM71.5,354.2H79.1V361.8H71.5ZM102.1,354.2H109.8V361.8H102.1ZM217.2,354.2H224.9V361.8H217.2ZM240.2,354.2H255.5V361.8H240.2ZM71.5,361.8H79.1V369.4H71.5ZM186.5,361.8H194.2V369.4H186.5ZM232.5,361.8H247.9V369.4H232.5ZM109.8,369.4H125.2V377.0H109.8ZM186.5,369.4H201.8V377.0H186.5ZM209.5,369.4H217.2V377.0H209.5ZM247.9,369.4H255.5V377.0H247.9Z"/><path fill="#0050ff" d="M217.2,170.7H224.9V178.4H217.2ZM240.2,170.7H247.9V178.4H240.2ZM240.2,178.4H247.9V186.1H240.2ZM255.5,178.4H263.2V186.1H255.5ZM232.5,186.1H247.9V193.8H232.5ZM255.5,186.1H263.2V193.8H255.5ZM255.5,201.5H270.9V209.2H255.5ZM255.5,209.2H263.2V216.9H255.5ZM263.2,216.9H270.9V224.5H263.2ZM263.2,224.5H278.6V232.2H263.2ZM286.2,224.5H293.9V232.2H286.2ZM278.6,232.2H293.9V239.9H278.6ZM286.2,239.9H293.9V247.5H286.2ZM309.2,239.9H316.9V247.5H309.2ZM286.2,247.5H301.6V255.2H286.2ZM293.9,255.2H301.6V262.8H293.9ZM301.6,262.8H309.2V270.5H301.6ZM286.2,278.1H301.6V285.8H286.2ZM148.2,285.8H155.8V293.4H148.2ZM293.9,285.8H309.2V293.4H293.9ZM301.6,293.4H309.2V301.0H301.6ZM140.5,301.0H148.2V308.6H140.5ZM109.8,308.6H125.2V316.2H109.8ZM132.8,308.6H140.5V316.2H132.8ZM125.2,316.2H132.8V323.8H125.2ZM263.2,316.2H301.6V323.8H263.2ZM263.2,323.8H293.9V331.5H263.2ZM263.2,331.5H270.9V339.1H263.2ZM293.9,331.5H301.6V339.1H293.9ZM48.5,339.1H56.1V346.6H48.5ZM263.2,339.1H278.6V346.6H263.2ZM286.2,339.1H293.9V346.6H286.2ZM247.9,346.6H255.5V354.2H247.9ZM270.9,346.6H286.2V354.2H270.9ZM224.9,354.2H232.5V361.8H224.9ZM263.2,354.2H270.9V361.8H263.2ZM278.6,354.2H286.2V361.8H278.6ZM79.1,361.8H102.1V369.4H79.1ZM217.2,361.8H232.5V369.4H217.2ZM247.9,361.8H270.9V369.4H247.9ZM79.1,369.4H86.8V377.0H79.1ZM102.1,369.4H109.8V377.0H102.1ZM125.2,369.4H132.8V377.0H125.2ZM224.9,369.4H240.2V377.0H224.9ZM255.5,369.4H270.9V377.0H255.5ZM247.9,377.0H255.5V384.5H247.9ZM247.9,384.5H255.5V392.1H247.9Z"/><path fill="#0080ff" d="M186.5,178.4H194.2V186.1H186.5ZM178.8,186.1H201.8V193.8H178.8ZM186.5,193.8H194.2V201.5H186.5ZM217.2,193.8H224.9V201.5H217.2ZM209.5,201.5H217.2V209.2H209.5ZM224.9,201.5H240.2V209.2H224.9ZM232.5,209.2H240.2V216.9H232.5ZM232.5,216.9H240.2V224.5H232.5ZM240.2,224.5H247.9V232.2H240.2ZM255.5,232.2H270.9V239.9H255.5ZM255.5,247.5H263.2V255.2H255.5ZM255.5,255.2H263.2V262.8H255.5ZM263.2,262.8H278.6V270.5H263.2ZM155.8,270.5H163.5V278.1H155.8ZM255.5,270.5H263.2V278.1H255.5ZM247.9,278.1H255.5V285.8H247.9ZM263.2,278.1H278.6V285.8H263.2ZM263.2,285.8H278.6V293.4H263.2ZM148.2,293.4H155.8V301.0H148.2ZM240.2,293.4H270.9V301.0H240.2ZM255.5,301.0H263.2V308.6H255.5ZM140.5,316.2H148.2V323.8H140.5ZM232.5,323.8H240.2V331.5H232.5ZM247.9,323.8H255.5V331.5H247.9ZM201.8,331.5H209.5V339.1H201.8ZM224.9,331.5H247.9V339.1H224.9ZM109.8,339.1H125.2V346.6H109.8ZM63.8,346.6H79.1V354.2H63.8ZM132.8,346.6H140.5V354.2H132.8ZM194.2,346.6H217.2V354.2H194.2ZM224.9,346.6H240.2V354.2H224.9ZM94.5,354.2H102.1V361.8H94.5ZM109.8,354.2H132.8V361.8H109.8ZM140.5,354.2H148.2V361.8H140.5ZM178.8,354.2H186.5V361.8H178.8ZM201.8,354.2H209.5V361.8H201.8ZM117.5,361.8H125.2V369.4H117.5ZM140.5,361.8H148.2V369.4H140.5ZM163.5,361.8H171.2V369.4H163.5ZM132.8,369.4H148.2V377.0H132.8Z"/><path fill="#0070ff" d="M194.2,178.4H217.2V186.1H194.2ZM201.8,186.1H209.5V193.8H201.8ZM217.2,186.1H232.5V193.8H217.2ZM209.5,193.8H217.2V201.5H209.5ZM224.9,193.8H232.5V201.5H224.9ZM240.2,201.5H247.9V209.2H240.2ZM240.2,209.2H255.5V216.9H240.2ZM247.9,216.9H263.2V224.5H247.9ZM270.9,232.2H278.6V239.9H270.9ZM278.6,239.9H286.2V247.5H278.6ZM263.2,255.2H270.9V262.8H263.2ZM278.6,255.2H286.2V262.8H278.6ZM278.6,262.8H293.9V270.5H278.6ZM263.2,270.5H270.9V278.1H263.2ZM278.6,270.5H293.9V278.1H278.6ZM270.9,293.4H278.6V301.0H270.9ZM247.9,301.0H255.5V308.6H247.9ZM263.2,301.0H278.6V308.6H263.2ZM102.1,308.6H109.8V316.2H102.1ZM140.5,308.6H148.2V316.2H140.5ZM247.9,308.6H255.5V316.2H247.9ZM263.2,308.6H270.9V316.2H263.2ZM117.5,316.2H125.2V323.8H117.5ZM117.5,323.8H125.2V331.5H117.5ZM240.2,323.8H247.9V331.5H240.2ZM255.5,323.8H263.2V331.5H255.5ZM125.2,331.5H132.8V339.1H125.2ZM247.9,331.5H263.2V339.1H247.9ZM209.5,339.1H247.9V346.6H209.5ZM255.5,339.1H263.2V346.6H255.5ZM117.5,346.6H125.2V354.2H117.5ZM63.8,354.2H71.5V361.8H63.8ZM79.1,354.2H86.8V361.8H79.1ZM186.5,354.2H201.8V361.8H186.5ZM209.5,354.2H217.2V361.8H209.5ZM232.5,354.2H240.2V361.8H232.5ZM102.1,361.8H117.5V369.4H102.1ZM125.2,361.8H140.5V369.4H125.2ZM171.2,361.8H186.5V369.4H171.2ZM194.2,361.8H217.2V369.4H194.2ZM163.5,369.4H186.5V377.0H163.5ZM201.8,369.4H209.5V377.0H201.8ZM217.2,369.4H224.9V377.0H217.2Z"/><path fill="#009fff" d="M178.8,193.8H186.5V201.5H178.8ZM201.8,193.8H209.5V201.5H201.8ZM186.5,201.5H194.2V209.2H186.5ZM201.8,209.2H209.5V216.9H201.8ZM224.9,209.2H232.5V216.9H224.9ZM224.9,216.9H232.5V224.5H224.9ZM247.9,232.2H255.5V239.9H247.9ZM247.9,239.9H263.2V247.5H247.9ZM163.5,247.5H171.2V255.2H163.5ZM240.2,270.5H255.5V278.1H240.2ZM232.5,278.1H240.2V285.8H232.5ZM240.2,285.8H255.5V293.4H240.2ZM148.2,301.0H155.8V308.6H148.2ZM232.5,301.0H240.2V308.6H232.5ZM148.2,308.6H155.8V316.2H148.2ZM209.5,308.6H217.2V316.2H209.5ZM148.2,316.2H155.8V323.8H148.2ZM132.8,323.8H140.5V331.5H132.8ZM148.2,323.8H155.8V331.5H148.2ZM194.2,323.8H224.9V331.5H194.2ZM163.5,331.5H178.8V339.1H163.5ZM194.2,331.5H201.8V339.1H194.2ZM125.2,339.1H132.8V346.6H125.2ZM148.2,339.1H155.8V346.6H148.2ZM194.2,339.1H209.5V346.6H194.2ZM102.1,346.6H109.8V354.2H102.1ZM148.2,346.6H155.8V354.2H148.2ZM178.8,346.6H194.2V354.2H178.8ZM171.2,354.2H178.8V361.8H171.2ZM155.8,361.8H163.5V369.4H155.8Z"/><path fill="#008fff" d="M194.2,193.8H201.8V201.5H194.2ZM194.2,201.5H201.8V209.2H194.2ZM217.2,201.5H224.9V209.2H217.2ZM217.2,209.2H224.9V216.9H217.2ZM240.2,216.9H247.9V224.5H240.2ZM232.5,224.5H240.2V232.2H232.5ZM240.2,232.2H247.9V239.9H240.2ZM247.9,247.5H255.5V255.2H247.9ZM263.2,247.5H270.9V255.2H263.2ZM247.9,255.2H255.5V262.8H247.9ZM255.5,262.8H263.2V270.5H255.5ZM255.5,278.1H263.2V285.8H255.5ZM255.5,285.8H263.2V293.4H255.5ZM232.5,293.4H240.2V301.0H232.5ZM240.2,301.0H247.9V308.6H240.2ZM94.5,308.6H102.1V316.2H94.5ZM217.2,308.6H247.9V316.2H217.2ZM232.5,316.2H247.9V323.8H232.5ZM125.2,323.8H132.8V331.5H125.2ZM140.5,323.8H148.2V331.5H140.5ZM224.9,323.8H232.5V331.5H224.9ZM117.5,331.5H125.2V339.1H117.5ZM132.8,331.5H140.5V339.1H132.8ZM209.5,331.5H224.9V339.1H209.5ZM63.8,339.1H71.5V346.6H63.8ZM140.5,339.1H148.2V346.6H140.5ZM178.8,339.1H194.2V346.6H178.8ZM109.8,346.6H117.5V354.2H109.8ZM125.2,346.6H132.8V354.2H125.2ZM140.5,346.6H148.2V354.2H140.5ZM155.8,346.6H178.8V354.2H155.8ZM217.2,346.6H224.9V354.2H217.2ZM86.8,354.2H94.5V361.8H86.8ZM132.8,354.2H140.5V361.8H132.8ZM148.2,354.2H155.8V361.8H148.2ZM163.5,354.2H171.2V361.8H163.5ZM148.2,361.8H155.8V369.4H148.2ZM148.2,369.4H163.5V377.0H148.2Z"/><path fill="#00bfff" d="M178.8,201.5H186.5V209.2H178.8ZM240.2,239.9H247.9V247.5H240.2ZM240.2,262.8H247.9V270.5H240.2ZM155.8,278.1H163.5V285.8H155.8ZM240.2,278.1H247.9V285.8H240.2ZM224.9,285.8H240.2V293.4H224.9ZM201.8,301.0H209.5V308.6H201.8ZM224.9,301.0H232.5V308.6H224.9ZM186.5,308.6H194.2V316.2H186.5ZM155.8,316.2H163.5V323.8H155.8ZM201.8,316.2H209.5V323.8H201.8ZM163.5,323.8H171.2V331.5H163.5ZM140.5,331.5H148.2V339.1H140.5ZM155.8,331.5H163.5V339.1H155.8ZM178.8,331.5H186.5V339.1H178.8ZM102.1,339.1H109.8V346.6H102.1ZM155.8,339.1H171.2V346.6H155.8Z"/><path fill="#00afff" d="M201.8,201.5H209.5V209.2H201.8ZM178.8,209.2H186.5V216.9H178.8ZM194.2,209.2H201.8V216.9H194.2ZM209.5,209.2H217.2V216.9H209.5ZM217.2,216.9H224.9V224.5H217.2ZM224.9,224.5H232.5V232.2H224.9ZM240.2,247.5H247.9V255.2H240.2ZM247.9,262.8H255.5V270.5H247.9ZM224.9,293.4H232.5V301.0H224.9ZM109.8,316.2H117.5V323.8H109.8ZM171.2,316.2H178.8V323.8H171.2ZM209.5,316.2H232.5V323.8H209.5ZM186.5,323.8H194.2V331.5H186.5ZM109.8,331.5H117.5V339.1H109.8ZM148.2,331.5H155.8V339.1H148.2ZM186.5,331.5H194.2V339.1H186.5ZM71.5,339.1H79.1V346.6H71.5ZM132.8,339.1H140.5V346.6H132.8ZM171.2,339.1H178.8V346.6H171.2ZM79.1,346.6H102.1V354.2H79.1ZM155.8,354.2H163.5V361.8H155.8Z"/><path fill="#00cfff" d="M186.5,209.2H194.2V216.9H186.5ZM201.8,216.9H217.2V224.5H201.8ZM232.5,247.5H240.2V255.2H232.5ZM232.5,255.2H247.9V262.8H232.5ZM232.5,270.5H240.2V278.1H232.5ZM224.9,278.1H232.5V285.8H224.9ZM155.8,285.8H163.5V293.4H155.8ZM217.2,293.4H224.9V301.0H217.2ZM155.8,301.0H163.5V308.6H155.8ZM186.5,301.0H194.2V308.6H186.5ZM209.5,301.0H224.9V308.6H209.5ZM178.8,308.6H186.5V316.2H178.8ZM194.2,308.6H201.8V316.2H194.2ZM163.5,316.2H171.2V323.8H163.5ZM178.8,316.2H201.8V323.8H178.8ZM109.8,323.8H117.5V331.5H109.8ZM155.8,323.8H163.5V331.5H155.8ZM171.2,323.8H186.5V331.5H171.2Z"/><path fill="#00ffff" d="M178.8,216.9H186.5V224.5H178.8ZM217.2,239.9H232.5V247.5H217.2ZM217.2,247.5H224.9V255.2H217.2ZM224.9,270.5H232.5V278.1H224.9ZM209.5,278.1H217.2V285.8H209.5ZM163.5,285.8H171.2V293.4H163.5ZM209.5,285.8H224.9V293.4H209.5ZM155.8,293.4H163.5V301.0H155.8ZM71.5,331.5H79.1V339.1H71.5ZM102.1,331.5H109.8V339.1H102.1ZM79.1,339.1H94.5V346.6H79.1Z"/><path fill="#00efff" d="M186.5,216.9H194.2V224.5H186.5ZM224.9,255.2H232.5V262.8H224.9ZM224.9,262.8H232.5V270.5H224.9ZM201.8,285.8H209.5V293.4H201.8ZM194.2,293.4H217.2V301.0H194.2ZM171.2,301.0H178.8V308.6H171.2ZM171.2,308.6H178.8V316.2H171.2ZM102.1,316.2H109.8V323.8H102.1Z"/><path fill="#00dfff" d="M194.2,216.9H201.8V224.5H194.2ZM201.8,224.5H224.9V232.2H201.8ZM224.9,232.2H240.2V239.9H224.9ZM232.5,239.9H240.2V247.5H232.5ZM224.9,247.5H232.5V255.2H224.9ZM232.5,262.8H240.2V270.5H232.5ZM178.8,301.0H186.5V308.6H178.8ZM194.2,301.0H201.8V308.6H194.2ZM155.8,308.6H171.2V316.2H155.8ZM201.8,308.6H209.5V316.2H201.8ZM94.5,339.1H102.1V346.6H94.5Z"/><path fill="#50ffaf" d="M178.8,224.5H186.5V232.2H178.8ZM201.8,270.5H209.5V278.1H201.8Z"/><path fill="#30ffcf" d="M186.5,224.5H201.8V232.2H186.5ZM209.5,239.9H217.2V247.5H209.5ZM217.2,262.8H224.9V270.5H217.2ZM209.5,270.5H217.2V278.1H209.5ZM178.8,285.8H186.5V293.4H178.8Z"/><path fill="#9fff60" d="M178.8,232.2H186.5V239.9H178.8ZM194.2,232.2H201.8V239.9H194.2ZM201.8,262.8H209.5V270.5H201.8ZM186.5,270.5H194.2V278.1H186.5Z"/><path fill="#ffff00" d="M186.5,232.2H194.2V239.9H186.5ZM86.8,316.2H94.5V323.8H86.8Z"/><path fill="#8fff70" d="M201.8,232.2H209.5V239.9H201.8ZM163.5,255.2H171.2V262.8H163.5ZM178.8,278.1H186.5V285.8H178.8Z"/><path fill="#40ffbf" d="M209.5,232.2H217.2V239.9H209.5ZM217.2,255.2H224.9V262.8H217.2ZM209.5,262.8H217.2V270.5H209.5ZM163.5,270.5H171.2V278.1H163.5ZM163.5,278.1H171.2V285.8H163.5ZM201.8,278.1H209.5V285.8H201.8ZM171.2,285.8H178.8V293.4H171.2ZM94.5,316.2H102.1V323.8H94.5ZM102.1,323.8H109.8V331.5H102.1Z"/><path fill="#10ffef" d="M217.2,232.2H224.9V239.9H217.2ZM217.2,278.1H224.9V285.8H217.2ZM186.5,285.8H201.8V293.4H186.5ZM163.5,293.4H186.5V301.0H163.5ZM163.5,301.0H171.2V308.6H163.5Z"/><path fill="#ff6000" d="M178.8,239.9H186.5V247.5H178.8ZM194.2,255.2H201.8V262.8H194.2Z"/><path fill="#ff7000" d="M186.5,239.9H194.2V247.5H186.5ZM171.2,247.5H178.8V255.2H171.2ZM194.2,247.5H201.8V255.2H194.2ZM171.2,255.2H178.8V262.8H171.2ZM186.5,262.8H194.2V270.5H186.5Z"/><path fill="#ffbf00" d="M194.2,239.9H201.8V247.5H194.2ZM86.8,323.8H94.5V331.5H86.8Z"/><path fill="#bfff40" d="M201.8,239.9H209.5V247.5H201.8ZM171.2,270.5H178.8V278.1H171.2Z"/><path fill="#800000" d="M178.8,247.5H194.2V255.2H178.8ZM178.8,255.2H194.2V262.8H178.8Z"/><path fill="#afff50" d="M201.8,247.5H209.5V255.2H201.8Z"/><path fill="#60ff9f" d="M209.5,247.5H217.2V255.2H209.5Z"/><path fill="#dfff20" d="M201.8,255.2H209.5V262.8H201.8ZM178.8,270.5H186.5V278.1H178.8Z"/><path fill="#80ff80" d="M209.5,255.2H217.2V262.8H209.5ZM194.2,270.5H201.8V278.1H194.2ZM194.2,278.1H201.8V285.8H194.2Z"/><path fill="#70ff8f" d="M163.5,262.8H171.2V270.5H163.5ZM171.2,278.1H178.8V285.8H171.2ZM186.5,278.1H194.2V285.8H186.5ZM79.1,331.5H86.8V339.1H79.1ZM94.5,331.5H102.1V339.1H94.5Z"/><path fill="#efff10" d="M171.2,262.8H178.8V270.5H171.2ZM194.2,262.8H201.8V270.5H194.2ZM79.1,323.8H86.8V331.5H79.1Z"/><path fill="#ff8f00" d="M178.8,262.8H186.5V270.5H178.8Z"/><path fill="#20ffdf" d="M217.2,270.5H224.9V278.1H217.2ZM186.5,293.4H194.2V301.0H186.5Z"/><path fill="#0000af" d="M2.4,278.1H10.1V285.8H2.4Z"/><path fill="#ffdf00" d="M94.5,323.8H102.1V331.5H94.5Z"/><path fill="#cfff30" d="M86.8,331.5H94.5V339.1H86.8Z"/></g>
<path d="M176.0,173.2 186.2,162.2 183.1,154.4 183.1,146.5 187.8,135.5 194.0,124.6 194.8,116.7 187.0,108.1 190.1,99.5" fill="none" stroke="#000" stroke-width="1.0" stroke-linejoin="round"/>
<path d="M181.5,87.7 179.1,83.8 179.1,61.0 187.0,61.0 194.0,53.2 209.7,53.2 216.8,50.0 224.6,61.0 232.5,54.0 240.3,68.9 248.2,61.0 255.2,61.0 263.1,65.0 270.9,61.0 278.8,68.9 293.7,61.0 302.3,69.7 309.3,83.8 313.3,100.2 309.3,108.1 320.3,113.6" fill="none" stroke="#000" stroke-width="1.0" stroke-linejoin="round"/>
<path d="M329.7,121.4 336.0,130.8 333.7,137.1 341.5,146.5 339.9,155.1 347.0,156.7" fill="none" stroke="#000" stroke-width="1.0" stroke-linejoin="round"/>
<path d="M116.4,425.1 137.6,411.0 155.2,396.9 164.0,389.9" fill="none" stroke="#000" stroke-width="1.0" stroke-linejoin="round"/>
<path d="M176.4,389.9 194.0,404.0 208.2,393.4 225.8,396.9 239.9,411.0 243.5,425.1" fill="none" stroke="#000" stroke-width="1.0" stroke-linejoin="round"/>
<path d="M194.0,404.0 204.6,411.0 222.3,407.5 227.6,393.4" fill="none" stroke="#000" stroke-width="1.0" stroke-linejoin="round"/>
<path d="M349.3,389.9 335.2,404.0 324.6,414.6" fill="none" stroke="#000" stroke-width="1.0" stroke-linejoin="round"/>
<path d="M312.3,416.3 307.0,425.1" fill="none" stroke="#000" stroke-width="1.0" stroke-linejoin="round"/>
<path d="M19.3,338.7 24.6,340.4" fill="none" stroke="#000" stroke-width="1.0" stroke-linejoin="round"/>
<path d="M35.2,341.5 40.5,338.7" fill="none" stroke="#000" stroke-width="1.0" stroke-linejoin="round"/>
<text x="183.8" y="96.0" font-size="11.5" text-anchor="middle" transform="rotate(-75 183.8 92.0)" fill="#000">3</text>
<text x="325.7" y="118.9" font-size="11.5" text-anchor="middle" transform="rotate(35 325.7 114.9)" fill="#000">3</text>
<text x="28.9" y="346.2" font-size="11.5" text-anchor="middle" transform="rotate(15 28.9 342.2)" fill="#000">3</text>
<text x="169.3" y="393.9" font-size="11.5" text-anchor="middle" transform="rotate(30 169.3 389.9)" fill="#000">3</text>
<text x="229.3" y="391.4" font-size="11.5" text-anchor="middle" transform="rotate(-40 229.3 387.4)" fill="#000">3</text>
<text x="199.3" y="408.7" font-size="11.5" text-anchor="middle" transform="rotate(-60 199.3 404.7)" fill="#000">3</text>
<text x="318.3" y="419.6" font-size="11.5" text-anchor="middle" transform="rotate(-30 318.3 415.6)" fill="#000">3</text>
<text x="153.5" y="425.6" font-size="11.5" text-anchor="middle" transform="rotate(0 153.5 421.6)" fill="#000">3</text>
<use href="#sites"/>
</g></g>
<rect x="843.6" y="142.5" width="348" height="427" fill="none" stroke="#111" stroke-width="1.3"/>
<text x="835.7" y="149.9" font-size="20.8" text-anchor="end" fill="#000">37°N</text>
<text x="835.7" y="294.0" font-size="20.8" text-anchor="end" fill="#000">36°N</text>
<text x="835.7" y="436.3" font-size="20.8" text-anchor="end" fill="#000">35°N</text>
<text x="835.7" y="576.9" font-size="20.8" text-anchor="end" fill="#000">34°N</text>
<text x="838.0" y="221.6" font-size="16.7" text-anchor="end" fill="#000">30'</text>
<text x="838.0" y="364.8" font-size="16.7" text-anchor="end" fill="#000">30'</text>
<text x="838.0" y="506.2" font-size="16.7" text-anchor="end" fill="#000">30'</text>
<text x="845.4" y="591.0" font-size="20.8" text-anchor="middle" fill="#000">77°W</text>
<text x="900.3" y="587.1" font-size="16.7" text-anchor="middle" fill="#000">30'</text>
<text x="961.4" y="591.0" font-size="20.8" text-anchor="middle" fill="#000">76°W</text>
<text x="1016.3" y="587.1" font-size="16.7" text-anchor="middle" fill="#000">30'</text>
<text x="1077.4" y="591.0" font-size="20.8" text-anchor="middle" fill="#000">75°W</text>
<text x="1132.3" y="587.1" font-size="16.7" text-anchor="middle" fill="#000">30'</text>
<text x="1193.4" y="591.0" font-size="20.8" text-anchor="middle" fill="#000">74°W</text>
<rect x="847.2" y="162.3" width="111.2" height="25.2" fill="url(#jet)" stroke="#262626" stroke-width="1"/>
<text x="1155.6" y="179.8" font-size="20.8" text-anchor="middle" fill="#000">10 km</text>
<path d="M1150.6,186.0H1162.6" stroke="#000" stroke-width="3.2" stroke-linecap="round"/>
<text x="1017.5" y="130.9" font-size="20.8" text-anchor="middle" font-weight="bold" fill="#000">Number of Rads (3)</text>
<text x="846.5" y="149.5" font-size="18.8" text-anchor="middle" fill="#262626">0</text>
<text x="945.0" y="149.5" font-size="18.8" text-anchor="middle" fill="#262626">50</text>
<g transform="translate(1227.2,142.5)"><g clip-path="url(#ax)">
<use href="#land"/><use href="#grid"/><use href="#ticks"/>
<g shape-rendering="crispEdges"><path fill="#00008f" d="M125.2,0.0H347.6V7.6H125.2ZM125.2,7.6H347.6V15.5H125.2ZM132.8,15.5H347.6V23.3H132.8ZM132.8,23.3H347.6V31.1H132.8ZM132.8,31.1H209.5V38.9H132.8ZM217.2,31.1H347.6V38.9H217.2ZM132.8,38.9H186.5V46.7H132.8ZM240.2,38.9H347.6V46.7H240.2ZM132.8,46.7H178.8V54.5H132.8ZM293.9,46.7H301.6V54.5H293.9ZM309.2,46.7H347.6V54.5H309.2ZM140.5,54.5H178.8V62.3H140.5ZM316.9,54.5H347.6V62.3H316.9ZM140.5,62.3H178.8V70.0H140.5ZM316.9,62.3H347.6V70.0H316.9ZM140.5,70.0H178.8V77.8H140.5ZM324.6,70.0H332.2V77.8H324.6ZM140.5,77.8H178.8V85.6H140.5ZM140.5,85.6H178.8V93.3H140.5ZM324.6,85.6H332.2V93.3H324.6ZM148.2,93.3H178.8V101.1H148.2ZM332.2,93.3H347.6V101.1H332.2ZM148.2,101.1H186.5V108.9H148.2ZM332.2,101.1H347.6V108.9H332.2ZM155.8,108.9H186.5V116.6H155.8ZM339.9,108.9H347.6V116.6H339.9ZM155.8,116.6H186.5V124.4H155.8ZM339.9,116.6H347.6V124.4H339.9ZM155.8,124.4H186.5V132.1H155.8ZM163.5,132.1H171.2V139.8H163.5ZM163.5,139.8H171.2V147.5H163.5ZM163.5,147.5H178.8V155.3H163.5ZM171.2,155.3H178.8V163.0H171.2ZM171.2,163.0H178.8V170.7H171.2ZM25.4,331.5H40.8V339.1H25.4ZM178.8,422.3H186.5V427.0H178.8ZM194.2,422.3H201.8V427.0H194.2ZM316.9,422.3H347.6V427.0H316.9Z"/><path fill="#8fff70" d="M209.5,31.1H217.2V38.9H209.5ZM186.5,38.9H240.2V46.7H186.5ZM178.8,46.7H293.9V54.5H178.8ZM301.6,46.7H309.2V54.5H301.6ZM178.8,54.5H316.9V62.3H178.8ZM178.8,62.3H316.9V70.0H178.8ZM178.8,70.0H324.6V77.8H178.8ZM332.2,70.0H347.6V77.8H332.2ZM178.8,77.8H347.6V85.6H178.8ZM178.8,85.6H324.6V93.3H178.8ZM332.2,85.6H347.6V93.3H332.2ZM178.8,93.3H332.2V101.1H178.8ZM186.5,101.1H332.2V108.9H186.5ZM186.5,108.9H339.9V116.6H186.5ZM186.5,116.6H339.9V124.4H186.5ZM186.5,124.4H347.6V132.1H186.5ZM171.2,132.1H347.6V139.8H171.2ZM171.2,139.8H347.6V147.5H171.2ZM178.8,147.5H347.6V155.3H178.8ZM178.8,155.3H347.6V163.0H178.8ZM178.8,163.0H347.6V170.7H178.8ZM178.8,170.7H209.5V178.4H178.8ZM232.5,170.7H347.6V178.4H232.5ZM178.8,178.4H209.5V186.1H178.8ZM232.5,178.4H347.6V186.1H232.5ZM178.8,186.1H209.5V193.8H178.8ZM240.2,186.1H347.6V193.8H240.2ZM247.9,193.8H347.6V201.5H247.9ZM255.5,201.5H347.6V209.2H255.5ZM263.2,209.2H347.6V216.9H263.2ZM270.9,216.9H347.6V224.5H270.9ZM270.9,224.5H347.6V232.2H270.9ZM278.6,232.2H347.6V239.9H278.6ZM278.6,239.9H347.6V247.5H278.6ZM278.6,247.5H347.6V255.2H278.6ZM148.2,255.2H163.5V262.8H148.2ZM278.6,255.2H347.6V262.8H278.6ZM140.5,262.8H163.5V270.5H140.5ZM278.6,262.8H347.6V270.5H278.6ZM132.8,270.5H163.5V278.1H132.8ZM278.6,270.5H347.6V278.1H278.6ZM2.4,278.1H10.1V285.8H2.4ZM125.2,278.1H163.5V285.8H125.2ZM278.6,278.1H347.6V285.8H278.6ZM117.5,285.8H155.8V293.4H117.5ZM286.2,285.8H347.6V293.4H286.2ZM109.8,293.4H155.8V301.0H109.8ZM278.6,293.4H347.6V301.0H278.6ZM102.1,301.0H155.8V308.6H102.1ZM286.2,301.0H347.6V308.6H286.2ZM94.5,308.6H155.8V316.2H94.5ZM286.2,308.6H347.6V316.2H286.2ZM86.8,316.2H171.2V323.8H86.8ZM278.6,316.2H347.6V323.8H278.6ZM2.4,323.8H10.1V331.5H2.4ZM79.1,323.8H163.5V331.5H79.1ZM255.5,323.8H347.6V331.5H255.5ZM2.4,331.5H25.4V339.1H2.4ZM40.8,331.5H56.1V339.1H40.8ZM71.5,331.5H163.5V339.1H71.5ZM255.5,331.5H347.6V339.1H255.5ZM2.4,339.1H163.5V346.6H2.4ZM255.5,339.1H347.6V346.6H255.5ZM2.4,346.6H163.5V354.2H2.4ZM247.9,346.6H347.6V354.2H247.9ZM2.4,354.2H155.8V361.8H2.4ZM247.9,354.2H347.6V361.8H247.9ZM2.4,361.8H155.8V369.4H2.4ZM171.2,361.8H194.2V369.4H171.2ZM247.9,361.8H347.6V369.4H247.9ZM2.4,369.4H148.2V377.0H2.4ZM178.8,369.4H194.2V377.0H178.8ZM247.9,369.4H347.6V377.0H247.9ZM2.4,377.0H155.8V384.5H2.4ZM232.5,377.0H347.6V384.5H232.5ZM2.4,384.5H171.2V392.1H2.4ZM232.5,384.5H347.6V392.1H232.5ZM2.4,392.1H148.2V399.7H2.4ZM163.5,392.1H178.8V399.7H163.5ZM209.5,392.1H347.6V399.7H209.5ZM2.4,399.7H148.2V407.2H2.4ZM155.8,399.7H347.6V407.2H155.8ZM2.4,407.2H155.8V414.8H2.4ZM163.5,407.2H347.6V414.8H163.5ZM2.4,414.8H155.8V422.3H2.4ZM163.5,414.8H347.6V422.3H163.5ZM2.4,422.3H148.2V427.0H2.4ZM171.2,422.3H178.8V427.0H171.2ZM186.5,422.3H194.2V427.0H186.5ZM201.8,422.3H316.9V427.0H201.8Z"/><path fill="#800000" d="M209.5,170.7H232.5V178.4H209.5ZM209.5,178.4H232.5V186.1H209.5ZM209.5,186.1H240.2V193.8H209.5ZM178.8,193.8H247.9V201.5H178.8ZM178.8,201.5H255.5V209.2H178.8ZM178.8,209.2H263.2V216.9H178.8ZM178.8,216.9H270.9V224.5H178.8ZM178.8,224.5H270.9V232.2H178.8ZM178.8,232.2H278.6V239.9H178.8ZM178.8,239.9H278.6V247.5H178.8ZM163.5,247.5H278.6V255.2H163.5ZM163.5,255.2H278.6V262.8H163.5ZM163.5,262.8H278.6V270.5H163.5ZM163.5,270.5H278.6V278.1H163.5ZM163.5,278.1H278.6V285.8H163.5ZM155.8,285.8H286.2V293.4H155.8ZM155.8,293.4H278.6V301.0H155.8ZM155.8,301.0H286.2V308.6H155.8ZM155.8,308.6H286.2V316.2H155.8ZM171.2,316.2H278.6V323.8H171.2ZM163.5,323.8H255.5V331.5H163.5ZM163.5,331.5H255.5V339.1H163.5ZM163.5,339.1H255.5V346.6H163.5ZM163.5,346.6H247.9V354.2H163.5ZM155.8,354.2H247.9V361.8H155.8ZM155.8,361.8H171.2V369.4H155.8ZM194.2,361.8H247.9V369.4H194.2ZM148.2,369.4H178.8V377.0H148.2ZM194.2,369.4H247.9V377.0H194.2ZM155.8,377.0H232.5V384.5H155.8ZM171.2,384.5H232.5V392.1H171.2ZM148.2,392.1H163.5V399.7H148.2ZM178.8,392.1H209.5V399.7H178.8ZM148.2,399.7H155.8V407.2H148.2ZM155.8,407.2H163.5V414.8H155.8ZM155.8,414.8H163.5V422.3H155.8ZM148.2,422.3H171.2V427.0H148.2Z"/></g>
<path d="M178.3,201.0 202.2,201.0 210.2,193.0 210.2,178.2 225.0,178.2 225.0,186.2 262.5,223.7 262.5,231.7 270.5,239.7 270.5,285.2 277.8,293.1 270.5,300.4 277.8,307.9 277.8,315.9 270.5,323.9 255.0,323.9 247.3,331.4 247.3,345.5" fill="none" stroke="#000" stroke-width="1.0" stroke-linejoin="round"/>
<path d="M239.8,358.0 239.8,377.3 232.2,377.3 224.5,384.8 224.5,392.6 209.0,392.6 201.1,400.1 178.3,400.1 155.6,384.2 148.0,376.9 163.5,361.4 163.5,323.9 170.3,323.9 163.5,316.3 155.6,316.3 155.6,293.1" fill="none" stroke="#000" stroke-width="1.0" stroke-linejoin="round"/>
<path d="M163.5,280.6 163.5,254.5" fill="none" stroke="#000" stroke-width="1.0" stroke-linejoin="round"/>
<path d="M170.3,361.9 186.3,361.9 193.8,369.4 193.8,377.3 186.3,384.8 178.3,384.8 172.6,378.5" fill="none" stroke="#000" stroke-width="1.0" stroke-linejoin="round"/>
<path d="M163.5,369.4 166.9,366.0" fill="none" stroke="#000" stroke-width="1.0" stroke-linejoin="round"/>
<path d="M155.6,408.1 155.6,416.0" fill="none" stroke="#000" stroke-width="1.0" stroke-linejoin="round"/>
<path d="M155.6,419.4 153.3,428.5" fill="none" stroke="#000" stroke-width="1.0" stroke-linejoin="round"/>
<text x="210.6" y="187.5" font-size="11.5" text-anchor="middle" transform="rotate(-70 210.6 183.5)" fill="#000">2</text>
<text x="163.5" y="289.9" font-size="11.5" text-anchor="middle" transform="rotate(-70 163.5 285.9)" fill="#000">2</text>
<text x="242.0" y="357.5" font-size="11.5" text-anchor="middle" transform="rotate(-70 242.0 353.4)" fill="#000">2</text>
<text x="168.1" y="376.8" font-size="11.5" text-anchor="middle" transform="rotate(-50 168.1 372.8)" fill="#000">2</text>
<text x="151.5" y="407.5" font-size="11.5" text-anchor="middle" transform="rotate(-70 151.5 403.5)" fill="#000">2</text>
<text x="155.6" y="428.0" font-size="11.5" text-anchor="middle" transform="rotate(-70 155.6 424.0)" fill="#000">2</text>
<use href="#sites"/>
</g></g>
<rect x="1227.2" y="142.5" width="348" height="427" fill="none" stroke="#111" stroke-width="1.3"/>
<text x="1219.3" y="149.9" font-size="20.8" text-anchor="end" fill="#000">37°N</text>
<text x="1219.3" y="294.0" font-size="20.8" text-anchor="end" fill="#000">36°N</text>
<text x="1219.3" y="436.3" font-size="20.8" text-anchor="end" fill="#000">35°N</text>
<text x="1219.3" y="576.9" font-size="20.8" text-anchor="end" fill="#000">34°N</text>
<text x="1221.6" y="221.6" font-size="16.7" text-anchor="end" fill="#000">30'</text>
<text x="1221.6" y="364.8" font-size="16.7" text-anchor="end" fill="#000">30'</text>
<text x="1221.6" y="506.2" font-size="16.7" text-anchor="end" fill="#000">30'</text>
<text x="1229.0" y="591.0" font-size="20.8" text-anchor="middle" fill="#000">77°W</text>
<text x="1283.9" y="587.1" font-size="16.7" text-anchor="middle" fill="#000">30'</text>
<text x="1345.0" y="591.0" font-size="20.8" text-anchor="middle" fill="#000">76°W</text>
<text x="1399.9" y="587.1" font-size="16.7" text-anchor="middle" fill="#000">30'</text>
<text x="1461.0" y="591.0" font-size="20.8" text-anchor="middle" fill="#000">75°W</text>
<text x="1515.9" y="587.1" font-size="16.7" text-anchor="middle" fill="#000">30'</text>
<text x="1577.0" y="591.0" font-size="20.8" text-anchor="middle" fill="#000">74°W</text>
<rect x="1231.4" y="162.3" width="112.2" height="25.2" fill="url(#jet)" stroke="#262626" stroke-width="1"/>
<text x="1539.2" y="179.8" font-size="20.8" text-anchor="middle" fill="#000">10 km</text>
<path d="M1534.2,186.0H1546.2" stroke="#000" stroke-width="3.2" stroke-linecap="round"/>
<text x="1400.0" y="130.9" font-size="20.8" text-anchor="middle" font-weight="bold" fill="#000">Number of Sites (2)</text>
<text x="1229.5" y="149.5" font-size="18.8" text-anchor="middle" fill="#262626">0</text>
<text x="1285.8" y="149.5" font-size="18.8" text-anchor="middle" fill="#262626">1</text>
<text x="1343.0" y="149.5" font-size="18.8" text-anchor="middle" fill="#262626">2</text>
<g transform="translate(75.0,742.5)"><g clip-path="url(#ax)">
<use href="#land"/><use href="#grid"/><use href="#ticks"/>
<path d="M273.8,-0.1 271.4,19.3 268.5,36.9 263.2,51.0 260.4,58.1 257.9,75.7 256.2,93.4 252.6,111.0 250.9,128.7" fill="none" stroke="#000" stroke-width="1.0" stroke-linejoin="round"/>
<path d="M246.5,158.7 246.0,168.9 247.9,178.3 249.9,184.6 253.0,192.4 253.8,201.8 251.5,211.2 249.1,220.6 242.8,230.0 233.4,244.2 224.0,256.7 213.0,270.8 202.1,280.2 186.4,294.4 175.4,305.3 170.7,314.8 166.0,319.5" fill="none" stroke="#000" stroke-width="1.0" stroke-linejoin="round"/>
<path d="M134.4,361.6 118.5,379.3 100.9,396.9 79.7,425.1" fill="none" stroke="#000" stroke-width="1.0" stroke-linejoin="round"/>
<text x="250.3" y="150.5" font-size="17.0" text-anchor="middle" transform="rotate(-84 250.3 144.6)" fill="#000">-100</text>
<text x="147.3" y="347.9" font-size="17.0" text-anchor="middle" transform="rotate(-53 147.3 342.0)" fill="#000">-100</text>
<circle cx="261.5" cy="54.6" r="1.8" fill="none" stroke="#000" stroke-width="0.8"/>
<path d="M93.0,300.6h0M97.9,296.8h0M102.8,293.0h0M107.7,289.1h0M112.6,285.3h0M117.4,281.5h0M122.3,277.7h0M127.2,273.9h0M132.1,270.1h0M137.0,266.2h0M141.9,262.4h0M146.8,258.6h0M151.6,254.8h0M156.5,251.0h0M161.4,247.2h0M166.3,243.3h0M171.2,239.5h0M176.1,235.7h0M94.7,302.9h0M99.9,299.5h0M105.1,296.1h0M110.3,292.8h0M115.5,289.4h0M120.7,286.0h0M125.9,282.6h0M131.1,279.3h0M136.3,275.9h0M141.5,272.5h0M146.7,269.1h0M151.9,265.8h0M157.1,262.4h0M162.3,259.0h0M167.5,255.6h0M172.7,252.2h0M177.9,248.9h0M183.1,245.5h0M188.3,242.1h0M96.1,305.3h0M101.6,302.4h0M107.0,299.5h0M112.5,296.6h0M118.0,293.7h0M123.5,290.8h0M128.9,287.9h0M134.4,285.0h0M139.9,282.1h0M145.4,279.1h0M150.8,276.2h0M156.3,273.3h0M161.8,270.4h0M167.3,267.5h0M172.7,264.6h0M178.2,261.7h0M183.7,258.8h0M189.2,255.9h0M194.6,252.9h0M200.1,250.0h0M97.3,307.9h0M103.0,305.5h0M108.7,303.1h0M114.4,300.6h0M120.1,298.2h0M125.9,295.8h0M131.6,293.4h0M137.3,290.9h0M143.0,288.5h0M148.7,286.1h0M154.4,283.7h0M160.1,281.3h0M165.8,278.8h0M171.5,276.4h0M177.2,274.0h0M182.9,271.6h0M188.6,269.1h0M194.3,266.7h0M200.0,264.3h0M205.8,261.9h0M211.5,259.5h0M217.2,257.0h0M222.9,254.6h0M98.3,310.6h0M104.2,308.6h0M110.1,306.7h0M116.0,304.8h0M121.9,302.9h0M127.8,301.0h0M133.7,299.1h0M139.6,297.1h0M145.5,295.2h0M151.4,293.3h0M157.3,291.4h0M163.2,289.5h0M169.1,287.6h0M175.0,285.7h0M180.9,283.7h0M186.8,281.8h0M192.7,279.9h0M198.6,278.0h0M204.4,276.1h0M210.3,274.2h0M216.2,272.2h0M222.1,270.3h0M228.0,268.4h0M80.9,317.5h0M87.0,316.1h0M93.0,314.7h0M99.1,313.3h0M105.1,311.9h0M111.1,310.5h0M117.2,309.1h0M123.2,307.7h0M129.3,306.3h0M135.3,304.9h0M141.4,303.5h0M147.4,302.1h0M153.4,300.7h0M159.5,299.3h0M165.5,297.9h0M171.6,296.6h0M177.6,295.2h0M183.6,293.8h0M189.7,292.4h0M195.7,291.0h0M201.8,289.6h0M207.8,288.2h0M213.8,286.8h0M219.9,285.4h0M225.9,284.0h0M232.0,282.6h0M238.0,281.2h0M244.1,279.8h0M81.2,318.7h0M87.3,317.8h0M93.4,316.9h0M99.6,316.1h0M105.7,315.2h0M111.9,314.4h0M118.0,313.5h0M124.1,312.6h0M130.3,311.8h0M136.4,310.9h0M142.6,310.0h0M148.7,309.2h0M154.8,308.3h0M161.0,307.4h0M167.1,306.6h0M173.3,305.7h0M179.4,304.9h0M185.5,304.0h0M191.7,303.1h0M197.8,302.3h0M204.0,301.4h0M210.1,300.5h0M216.2,299.7h0M222.4,298.8h0M228.5,298.0h0M234.7,297.1h0M240.8,296.2h0M246.9,295.4h0M81.3,319.9h0M87.5,319.5h0M93.7,319.2h0M99.9,318.9h0M106.0,318.6h0M112.2,318.3h0M118.4,317.9h0M124.6,317.6h0M130.8,317.3h0M137.0,317.0h0M143.2,316.6h0M149.4,316.3h0M155.6,316.0h0M161.8,315.7h0M168.0,315.3h0M174.2,315.0h0M180.3,314.7h0M186.5,314.4h0M192.7,314.0h0M198.9,313.7h0M205.1,313.4h0M211.3,313.1h0M217.5,312.7h0M223.7,312.4h0M229.9,312.1h0M236.1,311.8h0M242.3,311.4h0M248.5,311.1h0M254.6,310.8h0M260.8,310.5h0M81.3,321.1h0M87.5,321.3h0M93.7,321.5h0M99.9,321.7h0M106.1,322.0h0M112.3,322.2h0M118.5,322.4h0M124.7,322.6h0M130.9,322.8h0M137.1,323.0h0M143.3,323.2h0M149.4,323.5h0M155.6,323.7h0M161.8,323.9h0M168.0,324.1h0M174.2,324.3h0M180.4,324.5h0M186.6,324.8h0M192.8,325.0h0M199.0,325.2h0M205.2,325.4h0M211.4,325.6h0M217.6,325.8h0M223.8,326.1h0M230.0,326.3h0M236.2,326.5h0M242.4,326.7h0M81.2,322.3h0M87.4,323.0h0M93.5,323.8h0M99.7,324.6h0M105.8,325.3h0M112.0,326.1h0M118.1,326.8h0M124.3,327.6h0M130.4,328.3h0M136.6,329.1h0M142.7,329.8h0M148.9,330.6h0M155.0,331.4h0M161.2,332.1h0M167.3,332.9h0M173.5,333.6h0M179.7,334.4h0M185.8,335.1h0M192.0,335.9h0M198.1,336.7h0M204.3,337.4h0M210.4,338.2h0M216.6,338.9h0M222.7,339.7h0M228.9,340.4h0M235.0,341.2h0M241.2,341.9h0M247.3,342.7h0M253.5,343.5h0M259.7,344.2h0M81.0,323.5h0M87.1,324.8h0M93.1,326.1h0M99.2,327.4h0M105.3,328.6h0M111.3,329.9h0M117.4,331.2h0M123.4,332.5h0M129.5,333.8h0M135.6,335.1h0M141.6,336.4h0M147.7,337.7h0M153.8,339.0h0M159.8,340.2h0M165.9,341.5h0M172.0,342.8h0M178.0,344.1h0M184.1,345.4h0M190.2,346.7h0M196.2,348.0h0M202.3,349.3h0M208.4,350.6h0M214.4,351.8h0M220.5,353.1h0M226.5,354.4h0M232.6,355.7h0M80.7,324.7h0M86.6,326.5h0M92.6,328.3h0M98.5,330.1h0M104.4,331.9h0M110.3,333.7h0M116.3,335.5h0M122.2,337.4h0M128.1,339.2h0M134.1,341.0h0M140.0,342.8h0M145.9,344.6h0M151.8,346.4h0M157.8,348.2h0M163.7,350.0h0M169.6,351.9h0M175.6,353.7h0M181.5,355.5h0M187.4,357.3h0M193.3,359.1h0M199.3,360.9h0M205.2,362.7h0M211.1,364.5h0M217.1,366.4h0M223.0,368.2h0M228.9,370.0h0M234.8,371.8h0M240.8,373.6h0M246.7,375.4h0M252.6,377.2h0M80.3,325.8h0M86.0,328.1h0M91.8,330.5h0M97.5,332.8h0M103.3,335.1h0M109.0,337.4h0M114.8,339.7h0M120.5,342.1h0M126.3,344.4h0M132.0,346.7h0M137.8,349.0h0M143.5,351.4h0M149.3,353.7h0M155.0,356.0h0M160.8,358.3h0M166.5,360.6h0M172.3,363.0h0M178.0,365.3h0M183.8,367.6h0M189.5,369.9h0M195.3,372.3h0M201.0,374.6h0M206.8,376.9h0M212.5,379.2h0M218.3,381.5h0M224.0,383.9h0M229.7,386.2h0M79.8,326.9h0M85.3,329.7h0M90.8,332.5h0M96.4,335.4h0M101.9,338.2h0M107.4,341.0h0M112.9,343.8h0M118.5,346.6h0M124.0,349.4h0M129.5,352.2h0M135.0,355.1h0M140.6,357.9h0M146.1,360.7h0M151.6,363.5h0M157.1,366.3h0M162.6,369.1h0M168.2,371.9h0M173.7,374.8h0M179.2,377.6h0M184.7,380.4h0M190.3,383.2h0M195.8,386.0h0M201.3,388.8h0M206.8,391.6h0M212.4,394.5h0M217.9,397.3h0M223.4,400.1h0M228.9,402.9h0M234.5,405.7h0M79.2,328.0h0M84.4,331.3h0M89.7,334.5h0M95.0,337.8h0M100.2,341.1h0M105.5,344.4h0M110.7,347.7h0M116.0,351.0h0M121.3,354.2h0M126.5,357.5h0M131.8,360.8h0M137.0,364.1h0M142.3,367.4h0M147.5,370.7h0M152.8,374.0h0M158.1,377.2h0M163.3,380.5h0M168.6,383.8h0M173.8,387.1h0M179.1,390.4h0M184.3,393.7h0M189.6,397.0h0M194.9,400.2h0M200.1,403.5h0M205.4,406.8h0M210.6,410.1h0M215.9,413.4h0M221.2,416.7h0M226.4,420.0h0M231.7,423.2h0M236.9,426.5h0M242.2,427.0h0M247.4,427.0h0M78.5,329.0h0M83.5,332.7h0M88.4,336.4h0M93.4,340.2h0M98.3,343.9h0M103.3,347.6h0M108.2,351.4h0M113.2,355.1h0M118.1,358.8h0M123.1,362.5h0M128.0,366.3h0M133.0,370.0h0M137.9,373.7h0M142.9,377.5h0M147.8,381.2h0M152.8,384.9h0M157.7,388.7h0M162.7,392.4h0M167.6,396.1h0M172.6,399.9h0M177.5,403.6h0M182.5,407.3h0M187.4,411.1h0M192.4,414.8h0M197.3,418.5h0M202.3,422.2h0M207.2,426.0h0M212.2,427.0h0M217.1,427.0h0M222.1,427.0h0M227.0,427.0h0M77.7,329.9h0M82.3,334.0h0M86.9,338.2h0M91.6,342.3h0M96.2,346.5h0M100.8,350.6h0M105.4,354.8h0M110.0,358.9h0M114.6,363.1h0M119.2,367.2h0M123.8,371.4h0M128.4,375.5h0M133.0,379.7h0M137.6,383.8h0M142.2,388.0h0M146.8,392.1h0M151.4,396.3h0M156.1,400.4h0M160.7,404.6h0M165.3,408.7h0M169.9,412.9h0M174.5,417.0h0M179.1,421.2h0M183.7,425.3h0M188.3,427.0h0M192.9,427.0h0M197.5,427.0h0M202.1,427.0h0M206.7,427.0h0M211.3,427.0h0M216.0,427.0h0M220.6,427.0h0M225.2,427.0h0M76.9,330.8h0M81.1,335.3h0M85.3,339.8h0M89.6,344.4h0M93.8,348.9h0M98.0,353.4h0M102.3,358.0h0M106.5,362.5h0M110.7,367.0h0M114.9,371.6h0M119.2,376.1h0M123.4,380.6h0M127.6,385.2h0M131.8,389.7h0M136.1,394.2h0M140.3,398.8h0M144.5,403.3h0M148.8,407.9h0M153.0,412.4h0M157.2,416.9h0M161.4,421.5h0M165.7,426.0h0M169.9,427.0h0M174.1,427.0h0M178.4,427.0h0M182.6,427.0h0M186.8,427.0h0M191.0,427.0h0M195.3,427.0h0M199.5,427.0h0M203.7,427.0h0M208.0,427.0h0M76.0,331.6h0M79.8,336.4h0M83.6,341.3h0M87.4,346.2h0M91.2,351.1h0M95.0,356.0h0M98.9,360.9h0M102.7,365.8h0M106.5,370.6h0M110.3,375.5h0M114.1,380.4h0M117.9,385.3h0M121.8,390.2h0M125.6,395.1h0M129.4,400.0h0M133.2,404.8h0M137.0,409.7h0M140.8,414.6h0M144.7,419.5h0M148.5,424.4h0M152.3,427.0h0M156.1,427.0h0M159.9,427.0h0M163.8,427.0h0M167.6,427.0h0M171.4,427.0h0M175.2,427.0h0M179.0,427.0h0M182.8,427.0h0M186.7,427.0h0M75.0,332.3h0M78.3,337.5h0M81.7,342.7h0M85.1,347.9h0M88.5,353.1h0M91.9,358.3h0M95.2,363.5h0M98.6,368.7h0M102.0,373.9h0M105.4,379.1h0M108.7,384.3h0M112.1,389.5h0M115.5,394.7h0M118.9,399.9h0M122.2,405.1h0M125.6,410.3h0M129.0,415.5h0M132.4,420.7h0M135.8,425.9h0M139.1,427.0h0M142.5,427.0h0M145.9,427.0h0M149.3,427.0h0M152.6,427.0h0M156.0,427.0h0M159.4,427.0h0M162.8,427.0h0M166.1,427.0h0M169.5,427.0h0M172.9,427.0h0M176.3,427.0h0M179.7,427.0h0M73.9,332.9h0M76.8,338.3h0M79.7,343.8h0M82.7,349.3h0M85.6,354.8h0M88.5,360.2h0M91.4,365.7h0M94.3,371.2h0M97.2,376.7h0M100.1,382.1h0M103.0,387.6h0M105.9,393.1h0M108.9,398.6h0M111.8,404.0h0M114.7,409.5h0M117.6,415.0h0M120.5,420.5h0M123.4,425.9h0M126.3,427.0h0M129.2,427.0h0M132.1,427.0h0M135.1,427.0h0M138.0,427.0h0M140.9,427.0h0M143.8,427.0h0M146.7,427.0h0M149.6,427.0h0M152.5,427.0h0M155.4,427.0h0M158.3,427.0h0M161.2,427.0h0M72.8,333.4h0M75.3,339.1h0M77.7,344.8h0M80.1,350.5h0M82.5,356.2h0M84.9,361.9h0M87.4,367.6h0M89.8,373.3h0M92.2,379.1h0M94.6,384.8h0M97.1,390.5h0M99.5,396.2h0M101.9,401.9h0M104.3,407.6h0M106.7,413.3h0M109.2,419.0h0M111.6,424.7h0M114.0,427.0h0M116.4,427.0h0M118.9,427.0h0M121.3,427.0h0M123.7,427.0h0M126.1,427.0h0M128.5,427.0h0M131.0,427.0h0M133.4,427.0h0M135.8,427.0h0M138.2,427.0h0M140.7,427.0h0M143.1,427.0h0M145.5,427.0h0M147.9,427.0h0M71.7,333.8h0M73.6,339.7h0M75.5,345.6h0M77.4,351.5h0M79.4,357.4h0M81.3,363.3h0M83.2,369.2h0M85.1,375.1h0M87.0,381.0h0M88.9,386.9h0M90.9,392.8h0M92.8,398.7h0M94.7,404.6h0M96.6,410.5h0M98.5,416.4h0M100.4,422.3h0M102.3,427.0h0M104.3,427.0h0M106.2,427.0h0M108.1,427.0h0M110.0,427.0h0M111.9,427.0h0M113.8,427.0h0M115.8,427.0h0M117.7,427.0h0M119.6,427.0h0M121.5,427.0h0M123.4,427.0h0M125.3,427.0h0M127.3,427.0h0M70.5,334.1h0M71.9,340.2h0M73.3,346.2h0M74.7,352.3h0M76.1,358.3h0M77.5,364.3h0M78.9,370.4h0M80.3,376.4h0M81.7,382.5h0M83.1,388.5h0M84.5,394.6h0M85.9,400.6h0M87.3,406.6h0M88.7,412.7h0M90.1,418.7h0M91.4,424.8h0M92.8,427.0h0M94.2,427.0h0M95.6,427.0h0M97.0,427.0h0M98.4,427.0h0M99.8,427.0h0M101.2,427.0h0M102.6,427.0h0M104.0,427.0h0M105.4,427.0h0M106.8,427.0h0M108.2,427.0h0M69.3,334.4h0M70.2,340.5h0M71.1,346.6h0M71.9,352.8h0M72.8,358.9h0M73.6,365.1h0M74.5,371.2h0M75.4,377.3h0M76.2,383.5h0M77.1,389.6h0M78.0,395.8h0M78.8,401.9h0M79.7,408.0h0M80.6,414.2h0M81.4,420.3h0M82.3,426.5h0M83.1,427.0h0M84.0,427.0h0M84.9,427.0h0M85.7,427.0h0M86.6,427.0h0M87.5,427.0h0M88.3,427.0h0M89.2,427.0h0M90.0,427.0h0M90.9,427.0h0M91.8,427.0h0M92.6,427.0h0M68.1,334.5h0M68.5,340.7h0M68.8,346.9h0M69.1,353.1h0M69.4,359.2h0M69.7,365.4h0M70.1,371.6h0M70.4,377.8h0M70.7,384.0h0M71.0,390.2h0M71.4,396.4h0M71.7,402.6h0M72.0,408.8h0M72.3,415.0h0M72.7,421.2h0M73.0,427.0h0M73.3,427.0h0M73.6,427.0h0M74.0,427.0h0M74.3,427.0h0M74.6,427.0h0M74.9,427.0h0M75.3,427.0h0M75.6,427.0h0M75.9,427.0h0M76.2,427.0h0M76.6,427.0h0M76.9,427.0h0M77.2,427.0h0M77.5,427.0h0M66.9,334.5h0M66.7,340.7h0M66.5,346.9h0M66.3,353.1h0M66.0,359.3h0M65.8,365.5h0M65.6,371.7h0M65.4,377.9h0M65.2,384.1h0M65.0,390.3h0M64.8,396.5h0M64.5,402.6h0M64.3,408.8h0M64.1,415.0h0M63.9,421.2h0M63.7,427.0h0M63.5,427.0h0M63.2,427.0h0M63.0,427.0h0M62.8,427.0h0M62.6,427.0h0M62.4,427.0h0M62.2,427.0h0M61.9,427.0h0M61.7,427.0h0M61.5,427.0h0M61.3,427.0h0M61.1,427.0h0M60.9,427.0h0M60.6,427.0h0M60.4,427.0h0M65.7,334.4h0M65.0,340.6h0M64.2,346.7h0M63.4,352.9h0M62.7,359.0h0M61.9,365.2h0M61.2,371.3h0M60.4,377.5h0M59.7,383.6h0M58.9,389.8h0M58.2,395.9h0M57.4,402.1h0M56.6,408.2h0M55.9,414.4h0M55.1,420.5h0M54.4,426.7h0M53.6,427.0h0M52.9,427.0h0M52.1,427.0h0M51.3,427.0h0M50.6,427.0h0M49.8,427.0h0M49.1,427.0h0M48.3,427.0h0M47.6,427.0h0M46.8,427.0h0M46.1,427.0h0M45.3,427.0h0M44.5,427.0h0M43.8,427.0h0M64.5,334.2h0M63.2,340.3h0M61.9,346.3h0M60.6,352.4h0M59.4,358.5h0M58.1,364.5h0M56.8,370.6h0M55.5,376.6h0M54.2,382.7h0M52.9,388.8h0M51.6,394.8h0M50.3,400.9h0M49.0,407.0h0M47.8,413.0h0M46.5,419.1h0M45.2,425.2h0M43.9,427.0h0M42.6,427.0h0M41.3,427.0h0M40.0,427.0h0M38.7,427.0h0M37.4,427.0h0M36.2,427.0h0M34.9,427.0h0M33.6,427.0h0M32.3,427.0h0M31.0,427.0h0M29.7,427.0h0M28.4,427.0h0M27.1,427.0h0M25.8,427.0h0M63.3,333.9h0M61.5,339.8h0M59.7,345.8h0M57.9,351.7h0M56.1,357.6h0M54.3,363.5h0M52.5,369.5h0M50.6,375.4h0M48.8,381.3h0M47.0,387.3h0M45.2,393.2h0M43.4,399.1h0M41.6,405.0h0M39.8,411.0h0M38.0,416.9h0M36.1,422.8h0M34.3,427.0h0M32.5,427.0h0M30.7,427.0h0M28.9,427.0h0M27.1,427.0h0M25.3,427.0h0M23.5,427.0h0M21.6,427.0h0M19.8,427.0h0M18.0,427.0h0M16.2,427.0h0M14.4,427.0h0M12.6,427.0h0M10.8,427.0h0M9.0,427.0h0M62.2,333.5h0M59.9,339.2h0M57.5,345.0h0M55.2,350.7h0M52.9,356.5h0M50.6,362.2h0M48.3,368.0h0M45.9,373.7h0M43.6,379.5h0M41.3,385.2h0M39.0,391.0h0M36.6,396.7h0M34.3,402.5h0M32.0,408.2h0M29.7,414.0h0M27.4,419.7h0M25.0,425.5h0M22.7,427.0h0M20.4,427.0h0M18.1,427.0h0M15.7,427.0h0M13.4,427.0h0M11.1,427.0h0M8.8,427.0h0M6.5,427.0h0M4.1,427.0h0M1.8,427.0h0M0.0,427.0h0M0.0,427.0h0M0.0,427.0h0M0.0,427.0h0M0.0,427.0h0M0.0,427.0h0M0.0,427.0h0M0.0,427.0h0M0.0,427.0h0M0.0,427.0h0M0.0,427.0h0M0.0,427.0h0M61.1,333.0h0M58.3,338.5h0M55.5,344.0h0M52.6,349.6h0M49.8,355.1h0M47.0,360.6h0M44.2,366.1h0M41.4,371.7h0M38.6,377.2h0M35.8,382.7h0M32.9,388.2h0M30.1,393.8h0M27.3,399.3h0M24.5,404.8h0M21.7,410.3h0M18.9,415.8h0M16.1,421.4h0M13.2,426.9h0M10.4,427.0h0M7.6,427.0h0M4.8,427.0h0M2.0,427.0h0M0.0,427.0h0M0.0,427.0h0M0.0,427.0h0M0.0,427.0h0M0.0,427.0h0M0.0,427.0h0M0.0,427.0h0M0.0,427.0h0M0.0,427.0h0M0.0,427.0h0M0.0,427.0h0M0.0,427.0h0M0.0,427.0h0M0.0,427.0h0M0.0,427.0h0M0.0,427.0h0M0.0,427.0h0M60.0,332.4h0M56.7,337.6h0M50.2,348.2h0M46.9,353.4h0M43.6,358.7h0M40.3,363.9h0M37.0,369.2h0M33.8,374.5h0M30.5,379.7h0M27.2,385.0h0M23.9,390.2h0M20.6,395.5h0M17.3,400.7h0M14.0,406.0h0M10.8,411.3h0M7.5,416.5h0M4.2,421.8h0M0.9,427.0h0M0.0,427.0h0M0.0,427.0h0M0.0,427.0h0M0.0,427.0h0M0.0,427.0h0M0.0,427.0h0M0.0,427.0h0M0.0,427.0h0M0.0,427.0h0M0.0,427.0h0M0.0,427.0h0M0.0,427.0h0M0.0,427.0h0M0.0,427.0h0M0.0,427.0h0M0.0,427.0h0M0.0,427.0h0M0.0,427.0h0M0.0,427.0h0M0.0,427.0h0M55.3,336.7h0M47.8,346.6h0M44.1,351.5h0M40.4,356.5h0M36.6,361.4h0M32.9,366.4h0M29.2,371.3h0M25.5,376.3h0M21.7,381.2h0M18.0,386.2h0M14.3,391.1h0M10.5,396.1h0M6.8,401.0h0M3.1,406.0h0M0.0,410.9h0M0.0,415.9h0M0.0,420.8h0M0.0,425.8h0M0.0,427.0h0M0.0,427.0h0M0.0,427.0h0M0.0,427.0h0M0.0,427.0h0M0.0,427.0h0M0.0,427.0h0M0.0,427.0h0M0.0,427.0h0M0.0,427.0h0M0.0,427.0h0M0.0,427.0h0M0.0,427.0h0M0.0,427.0h0M0.0,427.0h0M0.0,427.0h0M0.0,427.0h0M0.0,427.0h0M0.0,427.0h0M49.8,340.1h0M45.7,344.8h0M41.5,349.4h0M37.4,354.0h0M33.2,358.6h0M29.1,363.2h0M24.9,367.8h0M20.8,372.4h0M16.6,377.0h0M12.5,381.6h0M8.3,386.2h0M4.2,390.8h0M0.0,395.4h0M0.0,400.0h0M0.0,404.6h0M0.0,409.3h0M0.0,413.9h0M0.0,418.5h0M0.0,423.1h0M0.0,427.0h0M0.0,427.0h0M0.0,427.0h0M0.0,427.0h0M0.0,427.0h0M0.0,427.0h0M0.0,427.0h0M0.0,427.0h0M0.0,427.0h0M0.0,427.0h0M0.0,427.0h0M0.0,427.0h0M0.0,427.0h0M0.0,427.0h0M0.0,427.0h0M0.0,427.0h0M0.0,427.0h0M0.0,427.0h0M48.2,338.5h0M43.6,342.8h0M39.1,347.0h0M34.6,351.2h0M30.0,355.5h0M25.5,359.7h0M21.0,363.9h0M16.4,368.1h0M11.9,372.4h0M7.4,376.6h0M2.8,380.8h0M0.0,385.0h0M0.0,389.3h0M0.0,393.5h0M0.0,397.7h0M0.0,402.0h0M0.0,406.2h0M0.0,410.4h0M0.0,414.6h0M0.0,418.9h0M0.0,423.1h0M0.0,427.0h0M0.0,427.0h0M0.0,427.0h0M0.0,427.0h0M0.0,427.0h0M0.0,427.0h0M0.0,427.0h0M0.0,427.0h0M0.0,427.0h0M0.0,427.0h0M0.0,427.0h0M0.0,427.0h0M0.0,427.0h0M0.0,427.0h0M0.0,427.0h0M0.0,427.0h0M46.7,336.8h0M41.8,340.6h0M36.9,344.4h0M32.0,348.2h0M27.1,352.1h0M22.2,355.9h0M17.4,359.7h0M12.5,363.5h0M7.6,367.3h0M2.7,371.1h0M0.0,375.0h0M0.0,378.8h0M0.0,382.6h0M0.0,386.4h0M0.0,390.2h0M0.0,394.0h0M0.0,397.9h0M0.0,401.7h0M0.0,405.5h0M0.0,409.3h0M0.0,413.1h0M0.0,417.0h0M0.0,420.8h0M0.0,424.6h0M0.0,427.0h0M0.0,427.0h0M0.0,427.0h0M0.0,427.0h0M0.0,427.0h0M0.0,427.0h0M0.0,427.0h0M0.0,427.0h0M0.0,427.0h0M0.0,427.0h0M0.0,427.0h0M0.0,427.0h0M0.0,427.0h0M40.1,338.3h0M34.9,341.7h0M29.7,345.1h0M24.5,348.4h0M19.3,351.8h0M14.1,355.2h0M8.9,358.6h0M3.7,361.9h0M0.0,365.3h0M0.0,368.7h0M0.0,372.1h0M0.0,375.4h0M0.0,378.8h0M0.0,382.2h0M0.0,385.6h0M0.0,389.0h0M0.0,392.3h0M0.0,395.7h0M0.0,399.1h0M0.0,402.5h0M0.0,405.8h0M0.0,409.2h0M0.0,412.6h0M0.0,416.0h0M0.0,419.3h0M0.0,422.7h0M0.0,426.1h0M0.0,427.0h0M0.0,427.0h0M0.0,427.0h0M0.0,427.0h0M0.0,427.0h0M0.0,427.0h0M0.0,427.0h0M0.0,427.0h0M0.0,427.0h0M38.7,335.9h0M33.2,338.8h0M27.8,341.7h0M22.3,344.6h0M16.8,347.5h0M11.3,350.4h0M5.9,353.3h0M0.4,356.2h0M0.0,359.1h0M0.0,362.1h0M0.0,365.0h0M0.0,367.9h0M0.0,370.8h0M0.0,373.7h0M0.0,376.6h0M0.0,379.5h0M0.0,382.4h0M0.0,385.3h0M0.0,388.3h0M0.0,391.2h0M0.0,394.1h0M0.0,397.0h0M0.0,399.9h0M0.0,402.8h0M0.0,405.7h0M0.0,408.6h0M0.0,411.5h0M0.0,414.4h0M0.0,417.4h0M0.0,420.3h0M0.0,423.2h0M0.0,426.1h0M0.0,427.0h0M0.0,427.0h0M0.0,427.0h0M0.0,427.0h0M37.5,333.3h0M31.8,335.7h0M26.1,338.1h0M20.4,340.6h0M14.7,343.0h0M8.9,345.4h0M3.2,347.8h0M0.0,350.3h0M0.0,352.7h0M0.0,355.1h0M0.0,357.5h0M0.0,359.9h0M0.0,362.4h0M0.0,364.8h0M0.0,367.2h0M0.0,369.6h0M0.0,372.1h0M0.0,374.5h0M0.0,376.9h0M0.0,379.3h0M0.0,381.7h0M0.0,384.2h0M0.0,386.6h0M0.0,389.0h0M0.0,391.4h0M0.0,393.9h0M0.0,396.3h0M0.0,398.7h0M0.0,401.1h0M0.0,403.6h0M0.0,406.0h0M0.0,408.4h0M0.0,410.8h0M0.0,413.2h0M0.0,415.7h0M0.0,418.1h0M36.5,330.6h0M30.6,332.6h0M24.7,334.5h0M18.8,336.4h0M12.9,338.3h0M7.0,340.2h0M1.1,342.1h0M0.0,344.1h0M0.0,346.0h0M0.0,347.9h0M0.0,349.8h0M0.0,351.7h0M0.0,353.6h0M0.0,355.5h0M0.0,357.5h0M0.0,359.4h0M0.0,361.3h0M0.0,363.2h0M0.0,365.1h0M0.0,367.0h0M0.0,369.0h0M0.0,370.9h0M0.0,372.8h0M0.0,374.7h0M0.0,376.6h0M0.0,378.5h0M0.0,380.5h0M0.0,382.4h0M0.0,384.3h0M0.0,386.2h0M0.0,388.1h0M0.0,390.0h0M0.0,392.0h0M0.0,393.9h0M0.0,395.8h0M0.0,397.7h0M29.7,329.3h0M23.7,330.7h0M17.6,332.1h0M11.6,333.5h0M5.5,334.9h0M0.0,336.3h0M0.0,337.7h0M0.0,339.1h0M0.0,340.5h0M0.0,341.9h0M0.0,343.3h0M0.0,344.6h0M0.0,346.0h0M0.0,347.4h0M0.0,348.8h0M0.0,350.2h0M0.0,351.6h0M0.0,353.0h0M0.0,354.4h0M0.0,355.8h0M0.0,357.2h0M0.0,358.6h0M0.0,360.0h0M0.0,361.4h0M0.0,362.8h0M0.0,364.2h0M0.0,365.6h0M0.0,367.0h0M0.0,368.4h0M0.0,369.8h0M0.0,371.1h0M0.0,372.5h0M0.0,373.9h0M0.0,375.3h0M0.0,376.7h0M0.0,330.3h0M0.0,331.2h0M0.0,332.0h0M0.0,332.9h0M0.0,333.8h0M0.0,334.6h0M0.0,335.5h0M0.0,336.3h0M0.0,337.2h0M0.0,338.1h0M0.0,338.9h0M0.0,339.8h0M0.0,340.7h0M0.0,341.5h0M0.0,342.4h0M0.0,343.2h0M0.0,344.1h0M0.0,345.0h0M0.0,345.8h0M0.0,346.7h0M0.0,347.6h0M0.0,348.4h0M0.0,349.3h0M0.0,350.1h0M0.0,351.0h0M0.0,351.9h0M0.0,352.7h0M0.0,353.6h0M0.0,354.5h0M0.0,355.3h0M0.0,324.2h0M0.0,324.6h0M0.0,324.9h0M0.0,325.2h0M0.0,325.5h0M0.0,325.9h0M0.0,326.2h0M0.0,326.5h0M0.0,326.8h0M0.0,327.2h0M0.0,327.5h0M0.0,327.8h0M0.0,328.1h0M0.0,328.5h0M0.0,328.8h0M0.0,329.1h0M0.0,329.4h0M0.0,329.8h0M0.0,330.1h0M0.0,330.4h0M0.0,330.7h0M0.0,331.1h0M0.0,331.4h0M0.0,331.7h0M0.0,332.0h0M0.0,332.4h0M0.0,332.7h0M0.0,333.0h0M0.0,333.3h0M0.0,333.7h0" fill="none" stroke="#00f500" stroke-width="2.6" stroke-linecap="round"/>
<path d="M171.7,242.7h0M172.4,235.4h0M173.2,228.1h0M174.0,220.8h0M174.7,213.5h0M175.5,206.1h0M176.3,198.8h0M177.0,191.5h0M177.8,184.2h0M178.6,176.9h0M179.4,169.6h0M180.1,162.3h0M180.9,155.0h0M181.7,147.7h0M182.4,140.4h0M183.2,133.0h0M184.0,125.7h0M184.7,118.4h0M185.5,111.1h0M186.3,103.8h0M187.0,96.5h0M187.8,89.2h0M188.6,81.9h0M189.3,74.6h0M190.1,67.3h0M190.9,59.9h0M191.6,52.6h0M172.3,242.8h0M173.7,235.6h0M175.1,228.4h0M176.5,221.1h0M177.9,213.9h0M179.3,206.7h0M180.7,199.5h0M182.1,192.3h0M183.5,185.1h0M184.9,177.9h0M186.3,170.6h0M187.7,163.4h0M189.1,156.2h0M190.5,149.0h0M191.9,141.8h0M193.3,134.6h0M194.7,127.3h0M196.1,120.1h0M197.5,112.9h0M198.9,105.7h0M200.4,98.5h0M201.8,91.3h0M203.2,84.1h0M204.6,76.8h0M206.0,69.6h0M207.4,62.4h0M208.8,55.2h0M172.9,242.9h0M175.0,235.9h0M177.0,228.8h0M179.0,221.7h0M181.0,214.7h0M183.1,207.6h0M185.1,200.5h0M187.1,193.5h0M189.1,186.4h0M191.2,179.3h0M193.2,172.3h0M195.2,165.2h0M197.2,158.2h0M199.3,151.1h0M201.3,144.0h0M203.3,137.0h0M205.3,129.9h0M207.4,122.8h0M209.4,115.8h0M211.4,108.7h0M213.4,101.6h0M215.5,94.6h0M217.5,87.5h0M219.5,80.4h0M221.5,73.4h0M223.6,66.3h0M225.6,59.2h0M173.5,243.1h0M176.2,236.3h0M178.8,229.4h0M181.4,222.6h0M184.1,215.7h0M186.7,208.8h0M189.3,202.0h0M192.0,195.1h0M194.6,188.2h0M197.2,181.4h0M199.9,174.5h0M202.5,167.7h0M205.1,160.8h0M207.8,153.9h0M210.4,147.1h0M213.0,140.2h0M215.7,133.3h0M218.3,126.5h0M220.9,119.6h0M223.6,112.8h0M226.2,105.9h0M228.8,99.0h0M231.5,92.2h0M234.1,85.3h0M236.8,78.5h0M239.4,71.6h0M242.0,64.7h0M244.7,57.9h0M174.1,243.4h0M177.3,236.8h0M180.6,230.2h0M183.8,223.6h0M187.0,217.0h0M190.2,210.4h0M193.5,203.8h0M196.7,197.2h0M199.9,190.5h0M203.1,183.9h0M206.3,177.3h0M209.6,170.7h0M212.8,164.1h0M216.0,157.5h0M219.2,150.9h0M222.5,144.3h0M225.7,137.7h0M228.9,131.1h0M232.1,124.5h0M235.3,117.9h0M238.6,111.3h0M241.8,104.7h0M245.0,98.1h0M248.2,91.5h0M251.5,84.8h0M254.7,78.2h0M257.9,71.6h0M261.1,65.0h0M174.7,243.7h0M178.5,237.4h0M182.3,231.1h0M186.0,224.8h0M189.8,218.5h0M193.6,212.2h0M197.4,205.9h0M201.2,199.6h0M205.0,193.3h0M208.8,187.0h0M212.5,180.7h0M216.3,174.4h0M220.1,168.1h0M223.9,161.8h0M227.7,155.5h0M231.5,149.2h0M235.3,142.9h0M239.0,136.6h0M242.8,130.3h0M246.6,124.0h0M250.4,117.7h0M254.2,111.4h0M258.0,105.1h0M261.8,98.8h0M265.5,92.5h0M269.3,86.2h0M273.1,79.9h0M276.9,73.6h0M280.7,67.3h0M175.2,244.1h0M179.5,238.1h0M183.9,232.2h0M188.2,226.2h0M192.5,220.3h0M196.8,214.3h0M201.1,208.4h0M205.5,202.4h0M209.8,196.5h0M214.1,190.5h0M218.4,184.6h0M222.7,178.6h0M227.1,172.7h0M231.4,166.8h0M235.7,160.8h0M240.0,154.9h0M244.3,148.9h0M248.7,143.0h0M253.0,137.0h0M257.3,131.1h0M261.6,125.1h0M265.9,119.2h0M270.3,113.2h0M274.6,107.3h0M278.9,101.3h0M283.2,95.4h0M287.5,89.5h0M291.9,83.5h0M296.2,77.6h0M300.5,71.6h0M175.7,244.5h0M180.5,238.9h0M185.4,233.4h0M190.2,227.8h0M195.0,222.3h0M199.8,216.7h0M204.7,211.2h0M209.5,205.6h0M214.3,200.1h0M219.1,194.5h0M223.9,189.0h0M228.8,183.4h0M233.6,177.9h0M238.4,172.3h0M243.2,166.8h0M248.1,161.2h0M252.9,155.7h0M257.7,150.2h0M262.5,144.6h0M267.3,139.1h0M272.2,133.5h0M277.0,128.0h0M281.8,122.4h0M286.6,116.9h0M291.5,111.3h0M296.3,105.8h0M301.1,100.2h0M305.9,94.7h0M310.7,89.1h0M315.6,83.6h0M176.2,244.9h0M181.5,239.8h0M186.8,234.7h0M192.0,229.6h0M197.3,224.5h0M202.6,219.4h0M207.9,214.3h0M213.2,209.2h0M218.5,204.0h0M223.8,198.9h0M229.1,193.8h0M234.3,188.7h0M239.6,183.6h0M244.9,178.5h0M250.2,173.4h0M255.5,168.3h0M260.8,163.2h0M266.1,158.1h0M271.4,153.0h0M276.6,147.9h0M281.9,142.8h0M287.2,137.7h0M292.5,132.6h0M297.8,127.5h0M303.1,122.4h0M308.4,117.3h0M313.7,112.1h0M318.9,107.0h0M324.2,101.9h0M329.5,96.8h0M334.8,91.7h0M176.6,245.4h0M182.3,240.7h0M188.0,236.1h0M193.7,231.5h0M199.5,226.9h0M205.2,222.2h0M210.9,217.6h0M216.6,213.0h0M222.3,208.4h0M228.0,203.7h0M233.7,199.1h0M239.4,194.5h0M245.2,189.9h0M250.9,185.2h0M256.6,180.6h0M262.3,176.0h0M268.0,171.4h0M273.7,166.7h0M279.4,162.1h0M285.1,157.5h0M290.9,152.9h0M296.6,148.2h0M302.3,143.6h0M308.0,139.0h0M313.7,134.4h0M319.4,129.7h0M325.1,125.1h0M330.8,120.5h0M336.5,115.9h0M342.3,111.2h0M348.0,106.6h0M177.0,245.9h0M183.1,241.8h0M189.2,237.7h0M195.3,233.6h0M201.4,229.4h0M207.5,225.3h0M213.6,221.2h0M219.6,217.1h0M225.7,213.0h0M231.8,208.9h0M237.9,204.8h0M244.0,200.7h0M250.1,196.6h0M256.2,192.5h0M262.3,188.3h0M268.4,184.2h0M274.5,180.1h0M280.6,176.0h0M286.7,171.9h0M292.8,167.8h0M298.9,163.7h0M305.0,159.6h0M311.0,155.5h0M317.1,151.4h0M323.2,147.2h0M329.3,143.1h0M335.4,139.0h0M341.5,134.9h0M347.6,130.8h0M348.0,126.7h0M348.0,122.6h0M348.0,118.5h0M177.3,246.4h0M183.8,242.9h0M190.2,239.3h0M196.6,235.7h0M203.0,232.2h0M209.5,228.6h0M215.9,225.1h0M222.3,221.5h0M228.8,217.9h0M235.2,214.4h0M241.6,210.8h0M248.0,207.2h0M254.5,203.7h0M260.9,200.1h0M267.3,196.5h0M273.8,193.0h0M280.2,189.4h0M286.6,185.9h0M293.0,182.3h0M299.5,178.7h0M305.9,175.2h0M312.3,171.6h0M318.8,168.0h0M325.2,164.5h0M331.6,160.9h0M338.0,157.4h0M344.5,153.8h0M348.0,150.2h0M348.0,146.7h0M348.0,143.1h0M348.0,139.5h0M348.0,136.0h0M348.0,132.4h0M348.0,128.8h0M177.6,247.0h0M184.3,244.0h0M191.0,241.0h0M197.8,238.0h0M204.5,235.1h0M211.2,232.1h0M217.9,229.1h0M224.6,226.1h0M231.3,223.1h0M238.0,220.1h0M244.8,217.1h0M251.5,214.1h0M258.2,211.1h0M264.9,208.1h0M271.6,205.2h0M278.3,202.2h0M285.0,199.2h0M291.8,196.2h0M298.5,193.2h0M305.2,190.2h0M311.9,187.2h0M318.6,184.2h0M325.3,181.2h0M332.0,178.3h0M338.8,175.3h0M345.5,172.3h0M348.0,169.3h0M348.0,166.3h0M348.0,163.3h0M348.0,160.3h0M348.0,157.3h0M348.0,154.3h0M348.0,151.3h0M348.0,148.4h0M177.8,247.6h0M184.8,245.2h0M191.7,242.8h0M198.7,240.4h0M205.6,238.0h0M212.6,235.6h0M219.5,233.2h0M226.5,230.9h0M233.4,228.5h0M240.4,226.1h0M247.3,223.7h0M254.3,221.3h0M261.2,218.9h0M268.2,216.5h0M275.1,214.1h0M282.1,211.7h0M289.0,209.3h0M296.0,206.9h0M302.9,204.5h0M309.9,202.1h0M316.8,199.7h0M323.8,197.4h0M330.7,195.0h0M337.7,192.6h0M344.6,190.2h0M348.0,187.8h0M348.0,185.4h0M348.0,183.0h0M348.0,180.6h0M348.0,178.2h0M348.0,175.8h0M348.0,173.4h0M348.0,171.0h0M348.0,168.6h0M178.0,248.2h0M185.2,246.4h0M192.3,244.7h0M199.4,242.9h0M206.6,241.1h0M213.7,239.3h0M220.8,237.6h0M228.0,235.8h0M235.1,234.0h0M242.2,232.2h0M249.3,230.4h0M256.5,228.7h0M263.6,226.9h0M270.7,225.1h0M277.9,223.3h0M285.0,221.5h0M292.1,219.8h0M299.3,218.0h0M306.4,216.2h0M313.5,214.4h0M320.7,212.7h0M327.8,210.9h0M334.9,209.1h0M342.1,207.3h0M348.0,205.5h0M348.0,203.8h0M348.0,202.0h0M348.0,200.2h0M348.0,198.4h0M348.0,196.7h0M348.0,194.9h0M348.0,193.1h0M348.0,191.3h0M348.0,189.5h0M178.2,248.9h0M185.4,247.7h0M192.7,246.6h0M199.9,245.4h0M207.2,244.3h0M214.5,243.1h0M221.7,242.0h0M229.0,240.8h0M236.2,239.7h0M243.5,238.5h0M250.8,237.4h0M258.0,236.2h0M265.3,235.1h0M272.5,233.9h0M279.8,232.8h0M287.1,231.6h0M294.3,230.5h0M301.6,229.3h0M308.8,228.2h0M316.1,227.0h0M323.3,225.9h0M330.6,224.7h0M337.9,223.6h0M345.1,222.4h0M348.0,221.3h0M348.0,220.1h0M348.0,219.0h0M348.0,217.8h0M348.0,216.7h0M348.0,215.5h0M348.0,214.4h0M348.0,213.2h0M348.0,212.1h0M348.0,210.9h0M178.2,249.5h0M185.6,249.0h0M192.9,248.5h0M200.2,247.9h0M207.6,247.4h0M214.9,246.9h0M222.2,246.4h0M229.6,245.9h0M236.9,245.4h0M244.2,244.9h0M251.6,244.4h0M258.9,243.8h0M266.2,243.3h0M273.5,242.8h0M280.9,242.3h0M288.2,241.8h0M295.5,241.3h0M302.9,240.8h0M310.2,240.3h0M317.5,239.7h0M324.9,239.2h0M332.2,238.7h0M339.5,238.2h0M346.9,237.7h0M348.0,237.2h0M348.0,236.7h0M348.0,236.2h0M348.0,235.6h0M348.0,235.1h0M348.0,234.6h0M348.0,234.1h0M348.0,233.6h0M348.0,233.1h0M348.0,232.6h0M178.2,250.1h0M185.6,250.3h0M192.9,250.4h0M200.3,250.5h0M207.6,250.6h0M215.0,250.8h0M222.3,250.9h0M229.7,251.0h0M237.0,251.2h0M244.4,251.3h0M251.7,251.4h0M259.1,251.5h0M266.4,251.7h0M273.8,251.8h0M281.1,251.9h0M288.5,252.1h0M295.8,252.2h0M303.2,252.3h0M310.5,252.4h0M317.9,252.6h0M325.2,252.7h0M332.6,252.8h0M339.9,253.0h0M347.3,253.1h0M348.0,253.2h0M348.0,253.3h0M348.0,253.5h0M348.0,253.6h0M348.0,253.7h0M348.0,253.8h0M348.0,254.0h0M348.0,254.1h0M348.0,254.2h0M348.0,254.4h0M178.2,250.8h0M185.5,251.5h0M192.8,252.3h0M200.1,253.1h0M207.4,253.8h0M214.8,254.6h0M222.1,255.4h0M229.4,256.1h0M236.7,256.9h0M244.0,257.7h0M251.3,258.5h0M258.6,259.2h0M265.9,260.0h0M273.2,260.8h0M280.5,261.5h0M287.9,262.3h0M295.2,263.1h0M302.5,263.8h0M309.8,264.6h0M317.1,265.4h0M324.4,266.1h0M331.7,266.9h0M339.0,267.7h0M346.3,268.4h0M348.0,269.2h0M348.0,270.0h0M348.0,270.7h0M348.0,271.5h0M348.0,272.3h0M348.0,273.0h0M348.0,273.8h0M348.0,274.6h0M348.0,275.4h0M348.0,276.1h0M178.1,251.4h0M185.3,252.8h0M192.5,254.2h0M199.8,255.6h0M207.0,257.0h0M214.2,258.4h0M221.4,259.8h0M228.6,261.2h0M235.8,262.6h0M243.0,264.0h0M250.3,265.4h0M257.5,266.8h0M264.7,268.2h0M271.9,269.6h0M279.1,271.0h0M286.3,272.4h0M293.6,273.8h0M300.8,275.2h0M308.0,276.6h0M315.2,278.0h0M322.4,279.5h0M329.6,280.9h0M336.8,282.3h0M344.1,283.7h0M348.0,285.1h0M348.0,286.5h0M348.0,287.9h0M348.0,289.3h0M348.0,290.7h0M348.0,292.1h0M348.0,293.5h0M348.0,294.9h0M348.0,296.3h0M348.0,297.7h0M178.0,252.0h0M185.0,254.1h0M192.1,256.1h0M199.2,258.1h0M206.2,260.1h0M213.3,262.2h0M220.4,264.2h0M227.4,266.2h0M234.5,268.2h0M241.6,270.3h0M248.6,272.3h0M255.7,274.3h0M262.7,276.3h0M269.8,278.4h0M276.9,280.4h0M283.9,282.4h0M291.0,284.4h0M298.1,286.5h0M305.1,288.5h0M312.2,290.5h0M319.3,292.5h0M326.3,294.6h0M333.4,296.6h0M340.5,298.6h0M347.5,300.6h0M348.0,302.7h0M348.0,304.7h0M348.0,306.7h0M348.0,308.8h0M348.0,310.8h0M348.0,312.8h0M348.0,314.8h0M348.0,316.9h0M348.0,318.9h0M177.8,252.6h0M184.6,255.3h0M191.5,257.9h0M198.3,260.5h0M205.2,263.2h0M212.1,265.8h0M218.9,268.4h0M225.8,271.1h0M232.7,273.7h0M239.5,276.3h0M246.4,279.0h0M253.2,281.6h0M260.1,284.2h0M267.0,286.9h0M273.8,289.5h0M280.7,292.1h0M287.6,294.8h0M294.4,297.4h0M301.3,300.0h0M308.1,302.7h0M315.0,305.3h0M321.9,307.9h0M328.7,310.6h0M335.6,313.2h0M342.4,315.9h0M348.0,318.5h0M348.0,321.1h0M348.0,323.8h0M348.0,326.4h0M348.0,329.0h0M348.0,331.7h0M348.0,334.3h0M348.0,336.9h0M348.0,339.6h0M177.5,253.2h0M184.1,256.4h0M190.7,259.7h0M197.3,262.9h0M203.9,266.1h0M210.5,269.3h0M217.1,272.6h0M223.7,275.8h0M230.4,279.0h0M237.0,282.2h0M243.6,285.4h0M250.2,288.7h0M256.8,291.9h0M263.4,295.1h0M270.0,298.3h0M276.6,301.6h0M283.2,304.8h0M289.8,308.0h0M296.4,311.2h0M303.0,314.4h0M309.6,317.7h0M316.2,320.9h0M322.8,324.1h0M329.4,327.3h0M336.1,330.6h0M342.7,333.8h0M348.0,337.0h0M348.0,340.2h0M348.0,343.4h0M348.0,346.7h0M348.0,349.9h0M348.0,353.1h0M348.0,356.3h0M348.0,359.5h0M177.2,253.8h0M183.5,257.6h0M189.8,261.4h0M196.1,265.1h0M202.4,268.9h0M208.7,272.7h0M215.0,276.5h0M221.3,280.3h0M227.6,284.1h0M233.9,287.9h0M240.2,291.6h0M246.5,295.4h0M252.8,299.2h0M259.1,303.0h0M265.4,306.8h0M271.7,310.6h0M278.0,314.4h0M284.3,318.1h0M290.6,321.9h0M296.9,325.7h0M303.2,329.5h0M309.5,333.3h0M315.8,337.1h0M322.1,340.9h0M328.4,344.6h0M334.7,348.4h0M341.0,352.2h0M347.3,356.0h0M348.0,359.8h0M348.0,363.6h0M348.0,367.4h0M348.0,371.1h0M348.0,374.9h0M176.8,254.3h0M182.8,258.6h0M188.7,263.0h0M194.7,267.3h0M200.6,271.6h0M206.6,275.9h0M212.5,280.2h0M218.5,284.6h0M224.4,288.9h0M230.4,293.2h0M236.3,297.5h0M242.3,301.8h0M248.2,306.2h0M254.1,310.5h0M260.1,314.8h0M266.0,319.1h0M272.0,323.4h0M277.9,327.8h0M283.9,332.1h0M289.8,336.4h0M295.8,340.7h0M301.7,345.0h0M307.7,349.4h0M313.6,353.7h0M319.6,358.0h0M325.5,362.3h0M331.4,366.6h0M337.4,371.0h0M343.3,375.3h0M348.0,379.6h0M348.0,383.9h0M348.0,388.2h0M348.0,392.6h0M176.4,254.8h0M182.0,259.6h0M187.5,264.5h0M193.1,269.3h0M198.6,274.1h0M204.2,278.9h0M209.7,283.8h0M215.3,288.6h0M220.8,293.4h0M226.4,298.2h0M231.9,303.0h0M237.5,307.9h0M243.0,312.7h0M248.6,317.5h0M254.1,322.3h0M259.7,327.2h0M265.2,332.0h0M270.7,336.8h0M276.3,341.6h0M281.8,346.4h0M287.4,351.3h0M292.9,356.1h0M298.5,360.9h0M304.0,365.7h0M309.6,370.6h0M315.1,375.4h0M320.7,380.2h0M326.2,385.0h0M331.8,389.8h0M337.3,394.7h0M342.9,399.5h0M348.0,404.3h0M348.0,409.1h0M176.0,255.3h0M181.1,260.6h0M186.2,265.9h0M191.3,271.1h0M196.4,276.4h0M201.5,281.7h0M206.6,287.0h0M211.7,292.3h0M216.9,297.6h0M222.0,302.9h0M227.1,308.2h0M232.2,313.4h0M237.3,318.7h0M242.4,324.0h0M247.5,329.3h0M252.6,334.6h0M257.7,339.9h0M262.8,345.2h0M267.9,350.5h0M273.0,355.7h0M278.1,361.0h0M283.2,366.3h0M288.3,371.6h0M293.4,376.9h0M298.5,382.2h0M303.6,387.5h0M308.8,392.8h0M313.9,398.0h0M319.0,403.3h0M324.1,408.6h0M329.2,413.9h0M334.3,419.2h0M339.4,424.5h0M175.5,255.7h0M180.2,261.4h0M184.8,267.1h0M189.4,272.8h0M194.0,278.6h0M198.7,284.3h0M203.3,290.0h0M207.9,295.7h0M212.5,301.4h0M217.2,307.1h0M221.8,312.8h0M226.4,318.5h0M231.0,324.3h0M235.7,330.0h0M240.3,335.7h0M244.9,341.4h0M249.5,347.1h0M254.2,352.8h0M258.8,358.5h0M263.4,364.2h0M268.0,370.0h0M272.7,375.7h0M277.3,381.4h0M281.9,387.1h0M286.5,392.8h0M291.2,398.5h0M295.8,404.2h0M300.4,409.9h0M305.0,415.6h0M309.7,421.4h0M314.3,427.0h0M318.9,427.0h0M323.5,427.0h0M175.0,256.1h0M179.1,262.2h0M183.2,268.3h0M187.3,274.4h0M191.5,280.5h0M195.6,286.6h0M199.7,292.7h0M203.8,298.7h0M207.9,304.8h0M212.0,310.9h0M216.1,317.0h0M220.2,323.1h0M224.3,329.2h0M228.4,335.3h0M232.6,341.4h0M236.7,347.5h0M240.8,353.6h0M244.9,359.7h0M249.0,365.8h0M253.1,371.9h0M257.2,378.0h0M261.3,384.1h0M265.4,390.1h0M269.5,396.2h0M273.7,402.3h0M277.8,408.4h0M281.9,414.5h0M286.0,420.6h0M290.1,426.7h0M294.2,427.0h0M298.3,427.0h0M302.4,427.0h0M306.5,427.0h0M174.5,256.4h0M178.0,262.9h0M181.6,269.3h0M185.2,275.7h0M188.7,282.1h0M192.3,288.6h0M195.8,295.0h0M199.4,301.4h0M203.0,307.9h0M206.5,314.3h0M210.1,320.7h0M213.7,327.1h0M217.2,333.6h0M220.8,340.0h0M224.4,346.4h0M227.9,352.9h0M231.5,359.3h0M235.0,365.7h0M238.6,372.1h0M242.2,378.6h0M245.7,385.0h0M249.3,391.4h0M252.9,397.9h0M256.4,404.3h0M260.0,410.7h0M263.5,417.1h0M267.1,423.6h0M270.7,427.0h0M274.2,427.0h0M277.8,427.0h0M281.4,427.0h0M284.9,427.0h0M288.5,427.0h0M173.9,256.7h0M176.9,263.4h0M179.9,270.1h0M182.9,276.9h0M185.8,283.6h0M188.8,290.3h0M191.8,297.0h0M194.8,303.7h0M197.8,310.4h0M200.8,317.1h0M203.8,323.9h0M206.8,330.6h0M209.8,337.3h0M212.8,344.0h0M215.7,350.7h0M218.7,357.4h0M221.7,364.1h0M224.7,370.9h0M227.7,377.6h0M230.7,384.3h0M233.7,391.0h0M236.7,397.7h0M239.7,404.4h0M242.6,411.1h0M245.6,417.9h0M248.6,424.6h0M251.6,427.0h0M254.6,427.0h0M257.6,427.0h0M260.6,427.0h0M263.6,427.0h0M266.6,427.0h0M269.6,427.0h0M173.3,256.9h0M175.7,263.9h0M178.1,270.8h0M180.5,277.8h0M182.9,284.7h0M185.3,291.7h0M187.7,298.6h0M190.0,305.6h0M192.4,312.5h0M194.8,319.5h0M197.2,326.4h0M199.6,333.4h0M202.0,340.3h0M204.4,347.3h0M206.8,354.2h0M209.2,361.2h0M211.6,368.1h0M214.0,375.1h0M216.4,382.0h0M218.8,389.0h0M221.2,395.9h0M223.5,402.9h0M225.9,409.8h0M228.3,416.8h0M230.7,423.7h0M233.1,427.0h0M235.5,427.0h0M237.9,427.0h0M240.3,427.0h0M242.7,427.0h0M172.7,257.1h0M174.5,264.3h0M176.2,271.4h0M178.0,278.5h0M179.8,285.7h0M181.6,292.8h0M183.3,299.9h0M185.1,307.1h0M186.9,314.2h0M188.7,321.3h0M190.5,328.4h0M192.2,335.6h0M194.0,342.7h0M195.8,349.8h0M197.6,357.0h0M199.4,364.1h0M201.1,371.2h0M202.9,378.4h0M204.7,385.5h0M206.5,392.6h0M208.2,399.8h0M210.0,406.9h0M211.8,414.0h0M213.6,421.2h0M215.4,427.0h0M217.1,427.0h0M218.9,427.0h0M220.7,427.0h0M222.5,427.0h0M172.0,257.3h0M173.2,264.5h0M174.3,271.8h0M175.5,279.0h0M176.6,286.3h0M177.8,293.6h0M178.9,300.8h0M180.1,308.1h0M181.2,315.3h0M182.4,322.6h0M183.5,329.9h0M184.7,337.1h0M185.8,344.4h0M187.0,351.6h0M188.1,358.9h0M189.3,366.2h0M190.4,373.4h0M191.6,380.7h0M192.7,387.9h0M193.9,395.2h0M195.0,402.4h0M196.2,409.7h0M197.3,417.0h0M198.5,424.2h0M199.6,427.0h0M200.8,427.0h0M201.9,427.0h0M203.1,427.0h0M171.4,257.3h0M171.9,264.7h0M172.4,272.0h0M173.0,279.3h0M173.5,286.7h0M174.0,294.0h0M174.5,301.3h0M175.0,308.7h0M175.5,316.0h0M176.0,323.3h0M176.5,330.7h0M177.1,338.0h0M177.6,345.3h0M178.1,352.6h0M178.6,360.0h0M179.1,367.3h0M179.6,374.6h0M180.1,382.0h0M180.6,389.3h0M181.2,396.6h0M181.7,404.0h0M182.2,411.3h0M182.7,418.6h0M183.2,426.0h0M183.7,427.0h0M184.2,427.0h0M170.8,257.3h0M170.6,264.7h0M170.5,272.0h0M170.4,279.4h0M170.3,286.7h0M170.1,294.1h0M170.0,301.4h0M169.9,308.8h0M169.7,316.1h0M169.6,323.5h0M169.5,330.8h0M169.4,338.2h0M169.2,345.5h0M169.1,352.9h0M169.0,360.2h0M168.8,367.6h0M168.7,374.9h0M168.6,382.3h0M168.5,389.6h0M168.3,397.0h0M168.2,404.3h0M168.1,411.7h0M167.9,419.0h0M167.8,426.4h0M167.7,427.0h0M170.1,257.3h0M169.4,264.6h0M168.6,271.9h0M167.8,279.2h0M167.1,286.5h0M166.3,293.9h0M165.5,301.2h0M164.8,308.5h0M164.0,315.8h0M163.2,323.1h0M162.4,330.4h0M161.7,337.7h0M160.9,345.0h0M160.1,352.3h0M159.4,359.6h0M158.6,367.0h0M157.8,374.3h0M157.1,381.6h0M156.3,388.9h0M155.5,396.2h0M154.8,403.5h0M154.0,410.8h0M153.2,418.1h0M152.5,425.4h0M169.5,257.2h0M168.1,264.4h0M166.7,271.6h0M165.3,278.9h0M163.9,286.1h0M162.5,293.3h0M161.1,300.5h0M159.7,307.7h0M158.3,314.9h0M168.9,257.1h0M166.8,264.1h0M164.8,271.2h0M162.8,278.3h0M160.8,285.3h0M158.7,292.4h0M156.7,299.5h0M154.7,306.5h0M152.7,313.6h0M168.3,256.9h0M165.6,263.7h0M163.0,270.6h0M160.4,277.4h0M157.7,284.3h0M155.1,291.2h0M152.5,298.0h0M149.8,304.9h0M147.2,311.8h0" fill="none" stroke="#ff0000" stroke-width="2.6" stroke-linecap="round"/>
<use href="#sites"/>
</g></g>
<rect x="75.0" y="742.5" width="348" height="427" fill="none" stroke="#111" stroke-width="1.3"/>
<text x="67.1" y="749.9" font-size="20.8" text-anchor="end" fill="#000">37°N</text>
<text x="67.1" y="894.0" font-size="20.8" text-anchor="end" fill="#000">36°N</text>
<text x="67.1" y="1036.3" font-size="20.8" text-anchor="end" fill="#000">35°N</text>
<text x="67.1" y="1176.9" font-size="20.8" text-anchor="end" fill="#000">34°N</text>
<text x="69.4" y="821.6" font-size="16.7" text-anchor="end" fill="#000">30'</text>
<text x="69.4" y="964.8" font-size="16.7" text-anchor="end" fill="#000">30'</text>
<text x="69.4" y="1106.2" font-size="16.7" text-anchor="end" fill="#000">30'</text>
<text x="76.8" y="1191.0" font-size="20.8" text-anchor="middle" fill="#000">77°W</text>
<text x="131.7" y="1187.1" font-size="16.7" text-anchor="middle" fill="#000">30'</text>
<text x="192.8" y="1191.0" font-size="20.8" text-anchor="middle" fill="#000">76°W</text>
<text x="247.7" y="1187.1" font-size="16.7" text-anchor="middle" fill="#000">30'</text>
<text x="308.8" y="1191.0" font-size="20.8" text-anchor="middle" fill="#000">75°W</text>
<text x="363.7" y="1187.1" font-size="16.7" text-anchor="middle" fill="#000">30'</text>
<text x="424.8" y="1191.0" font-size="20.8" text-anchor="middle" fill="#000">74°W</text>
<text x="387.0" y="779.8" font-size="20.8" text-anchor="middle" fill="#000">10 km</text>
<path d="M382.0,786.0H394.0" stroke="#000" stroke-width="3.2" stroke-linecap="round"/>
<text x="248.2" y="729.7" font-size="25.0" text-anchor="middle" font-weight="bold" fill="#000">Radial Grid</text>
<g transform="translate(458.6,742.5)"><g clip-path="url(#ax)">
<use href="#land"/><use href="#grid"/><use href="#ticks"/>
<g shape-rendering="crispEdges"><path fill="#8fff70" d="M209.5,170.7H217.2V178.4H209.5ZM209.5,178.4H217.2V186.1H209.5ZM263.2,216.9H270.9V224.5H263.2ZM186.5,239.9H194.2V247.5H186.5ZM178.8,247.5H194.2V255.2H178.8ZM178.8,255.2H186.5V262.8H178.8ZM194.2,301.0H201.8V308.6H194.2ZM186.5,308.6H194.2V316.2H186.5ZM201.8,346.6H209.5V354.2H201.8ZM217.2,369.4H224.9V377.0H217.2ZM209.5,377.0H217.2V384.5H209.5Z"/><path fill="#cfff30" d="M217.2,170.7H224.9V178.4H217.2Z"/><path fill="#bfff40" d="M224.9,170.7H232.5V178.4H224.9ZM209.5,186.1H217.2V193.8H209.5ZM224.9,186.1H232.5V193.8H224.9ZM201.8,193.8H209.5V201.5H201.8ZM178.8,201.5H186.5V209.2H178.8ZM178.8,209.2H186.5V216.9H178.8ZM178.8,216.9H186.5V224.5H178.8ZM186.5,224.5H194.2V232.2H186.5ZM194.2,239.9H201.8V247.5H194.2ZM209.5,247.5H224.9V255.2H209.5ZM171.2,255.2H178.8V262.8H171.2ZM171.2,301.0H178.8V308.6H171.2ZM201.8,308.6H209.5V316.2H201.8ZM178.8,316.2H186.5V323.8H178.8ZM209.5,316.2H217.2V323.8H209.5ZM209.5,323.8H217.2V331.5H209.5ZM209.5,346.6H224.9V354.2H209.5ZM201.8,354.2H209.5V361.8H201.8ZM217.2,354.2H224.9V361.8H217.2ZM224.9,369.4H232.5V377.0H224.9ZM224.9,384.5H232.5V392.1H224.9Z"/><path fill="#efff10" d="M217.2,178.4H224.9V186.1H217.2ZM194.2,193.8H201.8V201.5H194.2ZM186.5,216.9H194.2V224.5H186.5ZM247.9,224.5H255.5V232.2H247.9ZM163.5,247.5H178.8V255.2H163.5ZM171.2,308.6H186.5V316.2H171.2ZM171.2,316.2H178.8V323.8H171.2ZM201.8,316.2H209.5V323.8H201.8ZM171.2,323.8H186.5V331.5H171.2ZM201.8,323.8H209.5V331.5H201.8ZM201.8,361.8H209.5V369.4H201.8Z"/><path fill="#ffdf00" d="M224.9,178.4H232.5V186.1H224.9ZM217.2,186.1H224.9V193.8H217.2ZM186.5,209.2H194.2V216.9H186.5Z"/><path fill="#ffaf00" d="M232.5,186.1H240.2V193.8H232.5ZM217.2,239.9H224.9V247.5H217.2Z"/><path fill="#10ffef" d="M178.8,193.8H186.5V201.5H178.8ZM194.2,255.2H201.8V262.8H194.2ZM194.2,262.8H201.8V270.5H194.2ZM194.2,270.5H201.8V278.1H194.2ZM171.2,285.8H186.5V293.4H171.2ZM163.5,293.4H171.2V301.0H163.5ZM201.8,301.0H209.5V308.6H201.8ZM255.5,301.0H263.2V308.6H255.5ZM263.2,308.6H270.9V316.2H263.2ZM217.2,331.5H224.9V339.1H217.2ZM194.2,346.6H201.8V354.2H194.2ZM186.5,354.2H194.2V361.8H186.5ZM194.2,361.8H201.8V369.4H194.2ZM201.8,377.0H209.5V384.5H201.8ZM148.2,422.3H155.8V427.0H148.2Z"/><path fill="#dfff20" d="M186.5,193.8H194.2V201.5H186.5ZM194.2,247.5H209.5V255.2H194.2ZM178.8,301.0H186.5V308.6H178.8ZM209.5,354.2H217.2V361.8H209.5ZM217.2,361.8H224.9V369.4H217.2Z"/><path fill="#ffff00" d="M209.5,193.8H217.2V201.5H209.5ZM186.5,201.5H201.8V209.2H186.5ZM201.8,239.9H209.5V247.5H201.8ZM232.5,239.9H240.2V247.5H232.5ZM163.5,255.2H171.2V262.8H163.5ZM194.2,369.4H201.8V377.0H194.2Z"/><path fill="#ffbf00" d="M217.2,193.8H224.9V201.5H217.2Z"/><path fill="#ff4000" d="M224.9,193.8H232.5V201.5H224.9ZM247.9,209.2H255.5V216.9H247.9ZM240.2,224.5H247.9V232.2H240.2ZM224.9,232.2H232.5V239.9H224.9Z"/><path fill="#df0000" d="M232.5,193.8H240.2V201.5H232.5ZM240.2,201.5H247.9V209.2H240.2ZM209.5,209.2H217.2V216.9H209.5Z"/><path fill="#ff7000" d="M240.2,193.8H247.9V201.5H240.2ZM255.5,209.2H263.2V216.9H255.5ZM247.9,216.9H255.5V224.5H247.9ZM194.2,224.5H201.8V232.2H194.2Z"/><path fill="#ff8f00" d="M201.8,201.5H209.5V209.2H201.8ZM194.2,209.2H201.8V216.9H194.2ZM201.8,232.2H224.9V239.9H201.8Z"/><path fill="#ff6000" d="M209.5,201.5H217.2V209.2H209.5ZM247.9,201.5H255.5V209.2H247.9ZM201.8,209.2H209.5V216.9H201.8Z"/><path fill="#ff1000" d="M217.2,201.5H224.9V209.2H217.2ZM232.5,224.5H240.2V232.2H232.5ZM232.5,232.2H240.2V239.9H232.5Z"/><path fill="#800000" d="M224.9,201.5H240.2V209.2H224.9ZM217.2,209.2H232.5V216.9H217.2ZM209.5,216.9H217.2V224.5H209.5ZM224.9,216.9H232.5V224.5H224.9Z"/><path fill="#af0000" d="M232.5,209.2H240.2V216.9H232.5Z"/><path fill="#ef0000" d="M240.2,209.2H247.9V216.9H240.2ZM217.2,216.9H224.9V224.5H217.2ZM232.5,216.9H240.2V224.5H232.5ZM217.2,224.5H232.5V232.2H217.2Z"/><path fill="#ffcf00" d="M194.2,216.9H201.8V224.5H194.2ZM255.5,216.9H263.2V224.5H255.5ZM240.2,232.2H247.9V239.9H240.2ZM209.5,239.9H217.2V247.5H209.5ZM224.9,239.9H232.5V247.5H224.9Z"/><path fill="#ff2000" d="M201.8,216.9H209.5V224.5H201.8ZM201.8,224.5H217.2V232.2H201.8Z"/><path fill="#ff0000" d="M240.2,216.9H247.9V224.5H240.2Z"/><path fill="#008fff" d="M178.8,224.5H186.5V232.2H178.8ZM232.5,247.5H240.2V255.2H232.5ZM263.2,247.5H270.9V255.2H263.2ZM224.9,255.2H232.5V262.8H224.9ZM255.5,255.2H270.9V262.8H255.5ZM201.8,262.8H209.5V270.5H201.8ZM270.9,262.8H278.6V270.5H270.9ZM240.2,270.5H247.9V278.1H240.2ZM209.5,278.1H217.2V285.8H209.5ZM224.9,293.4H240.2V301.0H224.9ZM255.5,293.4H263.2V301.0H255.5ZM247.9,301.0H255.5V308.6H247.9ZM240.2,316.2H247.9V323.8H240.2ZM232.5,346.6H240.2V354.2H232.5ZM163.5,361.8H171.2V369.4H163.5ZM232.5,369.4H240.2V377.0H232.5Z"/><path fill="#0050ff" d="M255.5,224.5H270.9V232.2H255.5ZM247.9,232.2H263.2V239.9H247.9ZM240.2,239.9H247.9V247.5H240.2ZM255.5,239.9H278.6V247.5H255.5ZM247.9,247.5H263.2V255.2H247.9ZM240.2,255.2H247.9V262.8H240.2ZM217.2,262.8H232.5V270.5H217.2ZM255.5,262.8H270.9V270.5H255.5ZM171.2,270.5H178.8V278.1H171.2ZM217.2,270.5H232.5V278.1H217.2ZM270.9,270.5H278.6V278.1H270.9ZM163.5,278.1H171.2V285.8H163.5ZM224.9,278.1H240.2V285.8H224.9ZM224.9,285.8H232.5V293.4H224.9ZM240.2,285.8H247.9V293.4H240.2ZM247.9,293.4H255.5V301.0H247.9ZM163.5,301.0H171.2V308.6H163.5ZM224.9,301.0H232.5V308.6H224.9ZM240.2,301.0H247.9V308.6H240.2ZM163.5,308.6H171.2V316.2H163.5ZM209.5,308.6H217.2V316.2H209.5ZM232.5,308.6H255.5V316.2H232.5ZM278.6,308.6H286.2V316.2H278.6ZM217.2,323.8H224.9V331.5H217.2ZM232.5,323.8H240.2V331.5H232.5ZM171.2,331.5H178.8V339.1H171.2ZM171.2,339.1H178.8V346.6H171.2ZM240.2,346.6H247.9V354.2H240.2ZM224.9,361.8H232.5V369.4H224.9ZM240.2,361.8H247.9V369.4H240.2ZM155.8,369.4H163.5V377.0H155.8ZM217.2,377.0H224.9V384.5H217.2ZM194.2,392.1H201.8V399.7H194.2ZM155.8,414.8H163.5V422.3H155.8Z"/><path fill="#00efff" d="M178.8,232.2H186.5V239.9H178.8ZM186.5,270.5H194.2V278.1H186.5ZM186.5,278.1H201.8V285.8H186.5ZM263.2,301.0H270.9V308.6H263.2ZM255.5,308.6H263.2V316.2H255.5ZM209.5,339.1H224.9V346.6H209.5ZM186.5,346.6H194.2V354.2H186.5ZM178.8,354.2H186.5V361.8H178.8ZM232.5,361.8H240.2V369.4H232.5Z"/><path fill="#30ffcf" d="M186.5,232.2H194.2V239.9H186.5ZM171.2,293.4H178.8V301.0H171.2ZM194.2,308.6H201.8V316.2H194.2ZM194.2,323.8H201.8V331.5H194.2Z"/><path fill="#50ffaf" d="M194.2,232.2H201.8V239.9H194.2ZM224.9,247.5H232.5V255.2H224.9ZM178.8,262.8H194.2V270.5H178.8ZM194.2,285.8H201.8V293.4H194.2ZM178.8,293.4H194.2V301.0H178.8ZM263.2,293.4H278.6V301.0H263.2ZM186.5,301.0H194.2V308.6H186.5ZM186.5,316.2H201.8V323.8H186.5ZM186.5,323.8H194.2V331.5H186.5ZM178.8,331.5H186.5V339.1H178.8ZM201.8,331.5H209.5V339.1H201.8ZM209.5,361.8H217.2V369.4H209.5ZM201.8,369.4H209.5V377.0H201.8Z"/><path fill="#0030ff" d="M263.2,232.2H270.9V239.9H263.2ZM247.9,239.9H255.5V247.5H247.9ZM232.5,255.2H240.2V262.8H232.5ZM232.5,270.5H240.2V278.1H232.5ZM255.5,270.5H263.2V278.1H255.5ZM263.2,278.1H270.9V285.8H263.2ZM232.5,285.8H240.2V293.4H232.5ZM194.2,384.5H201.8V392.1H194.2Z"/><path fill="#0020ff" d="M270.9,232.2H278.6V239.9H270.9ZM240.2,247.5H247.9V255.2H240.2ZM232.5,262.8H240.2V270.5H232.5ZM163.5,270.5H171.2V278.1H163.5ZM255.5,278.1H263.2V285.8H255.5ZM270.9,278.1H278.6V285.8H270.9ZM217.2,285.8H224.9V293.4H217.2ZM209.5,301.0H217.2V308.6H209.5ZM278.6,301.0H286.2V308.6H278.6ZM155.8,308.6H163.5V316.2H155.8ZM232.5,316.2H240.2V323.8H232.5ZM263.2,316.2H278.6V323.8H263.2ZM163.5,323.8H171.2V331.5H163.5ZM240.2,331.5H247.9V339.1H240.2ZM247.9,339.1H255.5V346.6H247.9ZM240.2,354.2H247.9V361.8H240.2ZM155.8,361.8H163.5V369.4H155.8ZM186.5,377.0H194.2V384.5H186.5ZM163.5,422.3H171.2V427.0H163.5Z"/><path fill="#70ff8f" d="M178.8,239.9H186.5V247.5H178.8ZM186.5,255.2H194.2V262.8H186.5ZM194.2,293.4H201.8V301.0H194.2Z"/><path fill="#009fff" d="M270.9,247.5H278.6V255.2H270.9ZM247.9,262.8H255.5V270.5H247.9ZM171.2,278.1H178.8V285.8H171.2ZM270.9,301.0H278.6V308.6H270.9ZM270.9,308.6H278.6V316.2H270.9ZM247.9,316.2H255.5V323.8H247.9ZM194.2,331.5H201.8V339.1H194.2ZM224.9,331.5H232.5V339.1H224.9ZM194.2,339.1H201.8V346.6H194.2ZM178.8,346.6H186.5V354.2H178.8ZM224.9,346.6H232.5V354.2H224.9Z"/><path fill="#00bfff" d="M201.8,255.2H217.2V262.8H201.8ZM270.9,255.2H278.6V262.8H270.9ZM171.2,262.8H178.8V270.5H171.2ZM178.8,270.5H186.5V278.1H178.8ZM201.8,270.5H209.5V278.1H201.8ZM247.9,270.5H255.5V278.1H247.9ZM178.8,278.1H186.5V285.8H178.8ZM201.8,293.4H209.5V301.0H201.8ZM255.5,316.2H263.2V323.8H255.5ZM186.5,339.1H194.2V346.6H186.5ZM201.8,339.1H209.5V346.6H201.8ZM224.9,339.1H240.2V346.6H224.9ZM232.5,354.2H240.2V361.8H232.5ZM163.5,369.4H178.8V377.0H163.5ZM155.8,422.3H163.5V427.0H155.8Z"/><path fill="#00dfff" d="M217.2,255.2H224.9V262.8H217.2ZM209.5,270.5H217.2V278.1H209.5ZM201.8,278.1H209.5V285.8H201.8ZM201.8,285.8H209.5V293.4H201.8ZM224.9,354.2H232.5V361.8H224.9Z"/><path fill="#0070ff" d="M247.9,255.2H255.5V262.8H247.9ZM163.5,262.8H171.2V270.5H163.5ZM209.5,262.8H217.2V270.5H209.5ZM240.2,262.8H247.9V270.5H240.2ZM217.2,278.1H224.9V285.8H217.2ZM240.2,278.1H255.5V285.8H240.2ZM163.5,285.8H171.2V293.4H163.5ZM240.2,293.4H247.9V301.0H240.2ZM232.5,301.0H240.2V308.6H232.5ZM224.9,323.8H232.5V331.5H224.9ZM232.5,331.5H240.2V339.1H232.5ZM240.2,339.1H247.9V346.6H240.2ZM171.2,346.6H178.8V354.2H171.2ZM171.2,354.2H178.8V361.8H171.2ZM148.2,369.4H155.8V377.0H148.2ZM240.2,369.4H247.9V377.0H240.2ZM194.2,377.0H201.8V384.5H194.2ZM186.5,384.5H194.2V392.1H186.5Z"/><path fill="#0010ff" d="M263.2,270.5H270.9V278.1H263.2ZM209.5,285.8H217.2V293.4H209.5Z"/><path fill="#0000ef" d="M155.8,285.8H163.5V293.4H155.8ZM255.5,285.8H263.2V293.4H255.5ZM278.6,285.8H286.2V293.4H278.6ZM217.2,301.0H224.9V308.6H217.2ZM224.9,308.6H232.5V316.2H224.9ZM163.5,331.5H171.2V339.1H163.5ZM163.5,339.1H171.2V346.6H163.5ZM163.5,346.6H171.2V354.2H163.5ZM155.8,377.0H163.5V384.5H155.8ZM171.2,377.0H178.8V384.5H171.2ZM224.9,377.0H232.5V384.5H224.9ZM201.8,384.5H209.5V392.1H201.8ZM148.2,392.1H155.8V399.7H148.2ZM148.2,399.7H155.8V407.2H148.2Z"/><path fill="#20ffdf" d="M186.5,285.8H194.2V293.4H186.5ZM186.5,331.5H194.2V339.1H186.5ZM209.5,331.5H217.2V339.1H209.5ZM178.8,339.1H186.5V346.6H178.8ZM194.2,354.2H201.8V361.8H194.2ZM209.5,369.4H217.2V377.0H209.5Z"/><path fill="#0000ff" d="M247.9,285.8H255.5V293.4H247.9ZM155.8,293.4H163.5V301.0H155.8ZM209.5,293.4H217.2V301.0H209.5ZM155.8,301.0H163.5V308.6H155.8ZM217.2,308.6H224.9V316.2H217.2ZM217.2,316.2H232.5V323.8H217.2ZM240.2,323.8H255.5V331.5H240.2ZM247.9,331.5H255.5V339.1H247.9ZM163.5,354.2H171.2V361.8H163.5ZM178.8,377.0H186.5V384.5H178.8ZM217.2,384.5H224.9V392.1H217.2Z"/><path fill="#0000bf" d="M263.2,285.8H278.6V293.4H263.2ZM163.5,377.0H171.2V384.5H163.5Z"/><path fill="#0040ff" d="M217.2,293.4H224.9V301.0H217.2Z"/><path fill="#00009f" d="M155.8,354.2H163.5V361.8H155.8ZM178.8,384.5H186.5V392.1H178.8ZM155.8,392.1H163.5V399.7H155.8ZM186.5,392.1H194.2V399.7H186.5Z"/></g>
<path d="M219.7,178.2 215.6,186.2 206.5,195.7" fill="none" stroke="#000" stroke-width="1.0" stroke-linejoin="round"/>
<path d="M184.2,201.7 180.3,215.8 184.9,227.1 192.4,237.4" fill="none" stroke="#000" stroke-width="1.0" stroke-linejoin="round"/>
<path d="M197.4,252.2 206.5,255.6 222.4,254.5 233.8,247.6 245.2,238.5 262.2,223.7" fill="none" stroke="#000" stroke-width="1.0" stroke-linejoin="round"/>
<path d="M186.0,253.3 180.3,265.8" fill="none" stroke="#000" stroke-width="1.0" stroke-linejoin="round"/>
<path d="M163.3,264.7 171.2,272.2" fill="none" stroke="#000" stroke-width="1.0" stroke-linejoin="round"/>
<path d="M168.9,321.6 171.2,306.8 178.0,304.5 182.6,311.3 186.0,318.2" fill="none" stroke="#000" stroke-width="1.0" stroke-linejoin="round"/>
<path d="M172.4,329.5 179.2,334.6 189.4,331.8" fill="none" stroke="#000" stroke-width="1.0" stroke-linejoin="round"/>
<path d="M199.7,317.0 196.3,327.3 201.5,339.1 209.9,327.3 207.6,323.9" fill="none" stroke="#000" stroke-width="1.0" stroke-linejoin="round"/>
<path d="M198.5,369.4 200.8,355.7 204.2,353.4" fill="none" stroke="#000" stroke-width="1.0" stroke-linejoin="round"/>
<path d="M197.4,375.1 199.7,369.4 209.9,363.7 216.7,369.4 224.2,375.7 216.1,377.3 209.9,364.8" fill="none" stroke="#000" stroke-width="1.0" stroke-linejoin="round"/>
<path d="M192.8,378.5 197.8,377.3" fill="none" stroke="#000" stroke-width="1.0" stroke-linejoin="round"/>
<text x="195.1" y="249.3" font-size="12.5" text-anchor="middle" transform="rotate(-75 195.1 244.9)" fill="#000">30</text>
<text x="179.6" y="270.9" font-size="12.5" text-anchor="middle" transform="rotate(-55 179.6 266.5)" fill="#000">30</text>
<text x="189.4" y="328.2" font-size="12.5" text-anchor="middle" transform="rotate(70 189.4 323.9)" fill="#000">30</text>
<text x="206.5" y="324.1" font-size="12.5" text-anchor="middle" transform="rotate(70 206.5 319.8)" fill="#000">30</text>
<text x="212.9" y="359.4" font-size="12.5" text-anchor="middle" transform="rotate(0 212.9 355.0)" fill="#000">30</text>
<use href="#sites"/>
</g></g>
<rect x="458.6" y="742.5" width="348" height="427" fill="none" stroke="#111" stroke-width="1.3"/>
<text x="450.7" y="749.9" font-size="20.8" text-anchor="end" fill="#000">37°N</text>
<text x="450.7" y="894.0" font-size="20.8" text-anchor="end" fill="#000">36°N</text>
<text x="450.7" y="1036.3" font-size="20.8" text-anchor="end" fill="#000">35°N</text>
<text x="450.7" y="1176.9" font-size="20.8" text-anchor="end" fill="#000">34°N</text>
<text x="453.0" y="821.6" font-size="16.7" text-anchor="end" fill="#000">30'</text>
<text x="453.0" y="964.8" font-size="16.7" text-anchor="end" fill="#000">30'</text>
<text x="453.0" y="1106.2" font-size="16.7" text-anchor="end" fill="#000">30'</text>
<text x="460.4" y="1191.0" font-size="20.8" text-anchor="middle" fill="#000">77°W</text>
<text x="515.3" y="1187.1" font-size="16.7" text-anchor="middle" fill="#000">30'</text>
<text x="576.4" y="1191.0" font-size="20.8" text-anchor="middle" fill="#000">76°W</text>
<text x="631.3" y="1187.1" font-size="16.7" text-anchor="middle" fill="#000">30'</text>
<text x="692.4" y="1191.0" font-size="20.8" text-anchor="middle" fill="#000">75°W</text>
<text x="747.3" y="1187.1" font-size="16.7" text-anchor="middle" fill="#000">30'</text>
<text x="808.4" y="1191.0" font-size="20.8" text-anchor="middle" fill="#000">74°W</text>
<rect x="462.4" y="762.3" width="113.6" height="25.2" fill="url(#jet)" stroke="#262626" stroke-width="1"/>
<text x="770.6" y="779.8" font-size="20.8" text-anchor="middle" fill="#000">10 km</text>
<path d="M765.6,786.0H777.6" stroke="#000" stroke-width="3.2" stroke-linecap="round"/>
<text x="517.5" y="721.7" font-size="20.8" text-anchor="middle" fill="#262626">cm/s</text>
<text x="632.3" y="730.9" font-size="20.8" text-anchor="middle" font-weight="bold" fill="#000">FitDif TotalErrors (30)</text>
<text x="461.0" y="749.5" font-size="18.8" text-anchor="middle" fill="#262626">0</text>
<text x="556.0" y="749.5" font-size="18.8" text-anchor="middle" fill="#262626">50</text>
<g transform="translate(843.6,742.5)"><g clip-path="url(#ax)">
<use href="#land"/><use href="#grid"/><use href="#ticks"/>
<g shape-rendering="crispEdges"><path fill="#00008f" d="M125.2,0.0H347.6V7.6H125.2ZM125.2,7.6H347.6V15.5H125.2ZM132.8,15.5H347.6V23.3H132.8ZM132.8,23.3H347.6V31.1H132.8ZM132.8,31.1H209.5V38.9H132.8ZM217.2,31.1H347.6V38.9H217.2ZM132.8,38.9H186.5V46.7H132.8ZM240.2,38.9H347.6V46.7H240.2ZM132.8,46.7H178.8V54.5H132.8ZM293.9,46.7H301.6V54.5H293.9ZM309.2,46.7H347.6V54.5H309.2ZM140.5,54.5H178.8V62.3H140.5ZM316.9,54.5H347.6V62.3H316.9ZM140.5,62.3H178.8V70.0H140.5ZM316.9,62.3H347.6V70.0H316.9ZM140.5,70.0H178.8V77.8H140.5ZM324.6,70.0H332.2V77.8H324.6ZM140.5,77.8H178.8V85.6H140.5ZM140.5,85.6H178.8V93.3H140.5ZM324.6,85.6H332.2V93.3H324.6ZM148.2,93.3H178.8V101.1H148.2ZM332.2,93.3H347.6V101.1H332.2ZM148.2,101.1H186.5V108.9H148.2ZM332.2,101.1H347.6V108.9H332.2ZM155.8,108.9H186.5V116.6H155.8ZM339.9,108.9H347.6V116.6H339.9ZM155.8,116.6H186.5V124.4H155.8ZM339.9,116.6H347.6V124.4H339.9ZM155.8,124.4H186.5V132.1H155.8ZM163.5,132.1H171.2V139.8H163.5ZM163.5,139.8H171.2V147.5H163.5ZM163.5,147.5H178.8V155.3H163.5ZM171.2,155.3H178.8V163.0H171.2ZM171.2,163.0H178.8V170.7H171.2ZM25.4,331.5H40.8V339.1H25.4ZM178.8,422.3H186.5V427.0H178.8ZM194.2,422.3H201.8V427.0H194.2ZM316.9,422.3H347.6V427.0H316.9Z"/><path fill="#0050ff" d="M209.5,31.1H217.2V38.9H209.5ZM186.5,38.9H240.2V46.7H186.5ZM178.8,46.7H293.9V54.5H178.8ZM301.6,46.7H309.2V54.5H301.6ZM178.8,54.5H316.9V62.3H178.8ZM178.8,62.3H316.9V70.0H178.8ZM178.8,70.0H324.6V77.8H178.8ZM332.2,70.0H347.6V77.8H332.2ZM178.8,77.8H347.6V85.6H178.8ZM178.8,85.6H324.6V93.3H178.8ZM332.2,85.6H347.6V93.3H332.2ZM178.8,93.3H332.2V101.1H178.8ZM186.5,101.1H332.2V108.9H186.5ZM186.5,108.9H339.9V116.6H186.5ZM186.5,116.6H339.9V124.4H186.5ZM186.5,124.4H347.6V132.1H186.5ZM171.2,132.1H347.6V139.8H171.2ZM171.2,139.8H347.6V147.5H171.2ZM178.8,147.5H347.6V155.3H178.8ZM178.8,155.3H347.6V163.0H178.8ZM178.8,163.0H347.6V170.7H178.8ZM178.8,170.7H209.5V178.4H178.8ZM232.5,170.7H347.6V178.4H232.5ZM178.8,178.4H209.5V186.1H178.8ZM232.5,178.4H347.6V186.1H232.5ZM178.8,186.1H209.5V193.8H178.8ZM240.2,186.1H347.6V193.8H240.2ZM247.9,193.8H347.6V201.5H247.9ZM255.5,201.5H347.6V209.2H255.5ZM263.2,209.2H347.6V216.9H263.2ZM270.9,216.9H347.6V224.5H270.9ZM270.9,224.5H347.6V232.2H270.9ZM278.6,232.2H347.6V239.9H278.6ZM278.6,239.9H347.6V247.5H278.6ZM278.6,247.5H347.6V255.2H278.6ZM278.6,255.2H347.6V262.8H278.6ZM278.6,262.8H347.6V270.5H278.6ZM278.6,270.5H347.6V278.1H278.6ZM278.6,278.1H347.6V285.8H278.6ZM286.2,285.8H347.6V293.4H286.2ZM278.6,293.4H347.6V301.0H278.6ZM286.2,301.0H347.6V308.6H286.2ZM286.2,308.6H347.6V316.2H286.2ZM278.6,316.2H347.6V323.8H278.6ZM255.5,323.8H347.6V331.5H255.5ZM255.5,331.5H347.6V339.1H255.5ZM255.5,339.1H347.6V346.6H255.5ZM247.9,346.6H347.6V354.2H247.9ZM247.9,354.2H347.6V361.8H247.9ZM171.2,361.8H194.2V369.4H171.2ZM247.9,361.8H347.6V369.4H247.9ZM178.8,369.4H194.2V377.0H178.8ZM247.9,369.4H347.6V377.0H247.9ZM232.5,377.0H347.6V384.5H232.5ZM232.5,384.5H347.6V392.1H232.5ZM163.5,392.1H171.2V399.7H163.5ZM209.5,392.1H347.6V399.7H209.5ZM155.8,399.7H347.6V407.2H155.8ZM163.5,407.2H347.6V414.8H163.5ZM163.5,414.8H347.6V422.3H163.5ZM171.2,422.3H178.8V427.0H171.2ZM186.5,422.3H194.2V427.0H186.5ZM201.8,422.3H316.9V427.0H201.8Z"/><path fill="#800000" d="M209.5,170.7H232.5V178.4H209.5ZM209.5,178.4H232.5V186.1H209.5ZM209.5,186.1H240.2V193.8H209.5ZM178.8,193.8H247.9V201.5H178.8ZM178.8,201.5H255.5V209.2H178.8ZM178.8,209.2H263.2V216.9H178.8ZM178.8,216.9H270.9V224.5H178.8ZM178.8,224.5H270.9V232.2H178.8ZM178.8,232.2H278.6V239.9H178.8ZM178.8,239.9H278.6V247.5H178.8ZM163.5,247.5H278.6V255.2H163.5ZM163.5,255.2H278.6V262.8H163.5ZM163.5,262.8H278.6V270.5H163.5ZM163.5,270.5H278.6V278.1H163.5ZM163.5,278.1H278.6V285.8H163.5ZM155.8,285.8H286.2V293.4H155.8ZM155.8,293.4H278.6V301.0H155.8ZM155.8,301.0H286.2V308.6H155.8ZM155.8,308.6H286.2V316.2H155.8ZM171.2,316.2H278.6V323.8H171.2ZM163.5,323.8H255.5V331.5H163.5ZM163.5,331.5H255.5V339.1H163.5ZM163.5,339.1H255.5V346.6H163.5ZM163.5,346.6H247.9V354.2H163.5ZM155.8,354.2H247.9V361.8H155.8ZM155.8,361.8H171.2V369.4H155.8ZM194.2,361.8H247.9V369.4H194.2ZM148.2,369.4H178.8V377.0H148.2ZM194.2,369.4H247.9V377.0H194.2ZM155.8,377.0H232.5V384.5H155.8ZM171.2,384.5H232.5V392.1H171.2ZM148.2,392.1H163.5V399.7H148.2ZM178.8,392.1H209.5V399.7H178.8ZM148.2,399.7H155.8V407.2H148.2ZM155.8,407.2H163.5V414.8H155.8ZM155.8,414.8H163.5V422.3H155.8ZM148.2,422.3H171.2V427.0H148.2Z"/><path fill="#ff4400" d="M148.2,255.2H163.5V262.8H148.2ZM140.5,262.8H163.5V270.5H140.5ZM132.8,270.5H163.5V278.1H132.8ZM2.4,278.1H10.1V285.8H2.4ZM125.2,278.1H163.5V285.8H125.2ZM117.5,285.8H155.8V293.4H117.5ZM109.8,293.4H155.8V301.0H109.8ZM102.1,301.0H155.8V308.6H102.1ZM94.5,308.6H155.8V316.2H94.5ZM86.8,316.2H171.2V323.8H86.8ZM2.4,323.8H10.1V331.5H2.4ZM79.1,323.8H163.5V331.5H79.1ZM2.4,331.5H25.4V339.1H2.4ZM40.8,331.5H56.1V339.1H40.8ZM71.5,331.5H163.5V339.1H71.5ZM2.4,339.1H163.5V346.6H2.4ZM2.4,346.6H163.5V354.2H2.4ZM2.4,354.2H155.8V361.8H2.4ZM2.4,361.8H155.8V369.4H2.4ZM2.4,369.4H148.2V377.0H2.4ZM2.4,377.0H155.8V384.5H2.4ZM2.4,384.5H171.2V392.1H2.4ZM2.4,392.1H148.2V399.7H2.4ZM171.2,392.1H178.8V399.7H171.2ZM2.4,399.7H148.2V407.2H2.4ZM2.4,407.2H155.8V414.8H2.4ZM2.4,414.8H155.8V422.3H2.4ZM2.4,422.3H148.2V427.0H2.4Z"/></g>
<use href="#sites"/>
</g></g>
<rect x="843.6" y="742.5" width="348" height="427" fill="none" stroke="#111" stroke-width="1.3"/>
<text x="835.7" y="749.9" font-size="20.8" text-anchor="end" fill="#000">37°N</text>
<text x="835.7" y="894.0" font-size="20.8" text-anchor="end" fill="#000">36°N</text>
<text x="835.7" y="1036.3" font-size="20.8" text-anchor="end" fill="#000">35°N</text>
<text x="835.7" y="1176.9" font-size="20.8" text-anchor="end" fill="#000">34°N</text>
<text x="838.0" y="821.6" font-size="16.7" text-anchor="end" fill="#000">30'</text>
<text x="838.0" y="964.8" font-size="16.7" text-anchor="end" fill="#000">30'</text>
<text x="838.0" y="1106.2" font-size="16.7" text-anchor="end" fill="#000">30'</text>
<text x="845.4" y="1191.0" font-size="20.8" text-anchor="middle" fill="#000">77°W</text>
<text x="900.3" y="1187.1" font-size="16.7" text-anchor="middle" fill="#000">30'</text>
<text x="961.4" y="1191.0" font-size="20.8" text-anchor="middle" fill="#000">76°W</text>
<text x="1016.3" y="1187.1" font-size="16.7" text-anchor="middle" fill="#000">30'</text>
<text x="1077.4" y="1191.0" font-size="20.8" text-anchor="middle" fill="#000">75°W</text>
<text x="1132.3" y="1187.1" font-size="16.7" text-anchor="middle" fill="#000">30'</text>
<text x="1193.4" y="1191.0" font-size="20.8" text-anchor="middle" fill="#000">74°W</text>
<rect x="847.2" y="762.3" width="111.2" height="25.2" fill="url(#jet)" stroke="#262626" stroke-width="1"/>
<text x="1155.6" y="779.8" font-size="20.8" text-anchor="middle" fill="#000">10 km</text>
<path d="M1150.6,786.0H1162.6" stroke="#000" stroke-width="3.2" stroke-linecap="round"/>
<text x="1017.0" y="729.7" font-size="25.0" text-anchor="middle" font-weight="bold" fill="#000">Site Codes</text>
<text x="846.5" y="749.5" font-size="18.8" text-anchor="middle" fill="#262626">0</text>
<text x="902.0" y="749.5" font-size="18.8" text-anchor="middle" fill="#262626">5</text>
<text x="957.0" y="749.5" font-size="18.8" text-anchor="middle" fill="#262626">10</text>
</svg></body></html>
